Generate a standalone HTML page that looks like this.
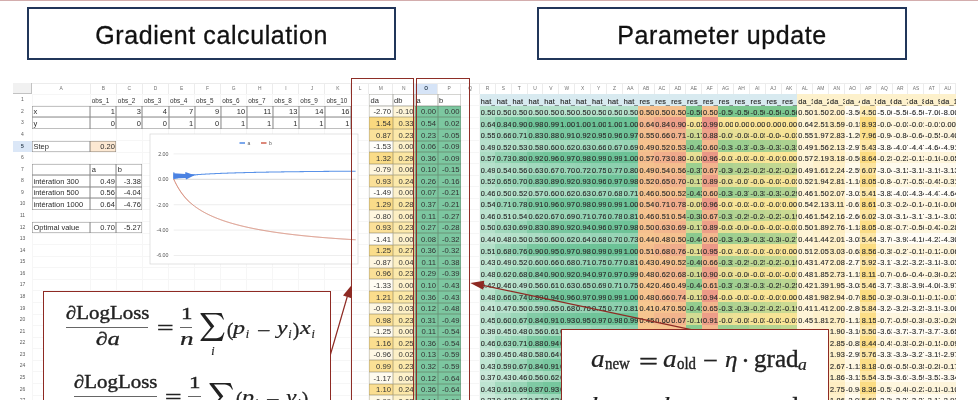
<!DOCTYPE html>
<html><head><meta charset="utf-8">
<style>
html,body{margin:0;padding:0;background:#fff;}
body{width:978px;height:400px;overflow:hidden;position:relative;font-family:"Liberation Sans",sans-serif;}
#sheet{position:absolute;left:0;top:0;width:978px;height:400px;overflow:hidden;filter:blur(0.42px);}
.c{position:absolute;box-sizing:border-box;overflow:hidden;white-space:nowrap;font-size:7.5px;line-height:11.56px;color:#2b2b2b;text-align:right;padding:0 1.5px 0 1.5px;}
.c span{position:relative;top:0.6px;}
.c.n{padding:0 0 0 1.3px;font-size:7.3px;letter-spacing:0.2px;color:#2a2a2a;-webkit-text-stroke:0.15px #2a2a2a;}
.c.n span{top:1.4px}
.c.mp span{top:0.6px}
.c.mp{font-size:7.7px;color:#333;}
.c.obs{font-size:6.4px;color:#333;}
.ch{position:absolute;box-sizing:border-box;font-size:4.9px;line-height:11.7px;color:#727272;text-align:center;background:#fff;overflow:hidden}
.ch.sel{background:#d6e4f7;color:#345;font-weight:bold}
.rh{position:absolute;box-sizing:border-box;font-size:5px;line-height:11.56px;color:#5c5c5c;text-align:center;background:#fff;}
.rh.sel{background:#dbe7f7;color:#234;font-weight:bold}
.corner{position:absolute;background:#f1f1f1;border-right:1.5px solid #c2c2c2;border-bottom:1.5px solid #c2c2c2;box-sizing:border-box}
.gh{position:absolute;height:1px;background:#f6f6f6;}
.hv{position:absolute;width:1px;background:#ececec;}
.gv{position:absolute;width:1px;background:#f6f6f6;}
.title{position:absolute;box-sizing:border-box;border:2.6px solid #21365a;background:#fff;text-align:center;font-size:25px;color:#111;letter-spacing:0.58px;-webkit-text-stroke:0.3px #111;}
.rbox{position:absolute;box-sizing:border-box;border:1.6px solid #8e2e27;}
.fbox{position:absolute;box-sizing:border-box;border:1.4px solid #8e2a23;background:#fff;}
svg{position:absolute;left:0;top:0;}
.m{position:absolute;font-family:"Liberation Serif",serif;color:#222;white-space:nowrap;line-height:1;}
.m i{font-style:italic}
.m sub{font-size:0.68em;font-style:italic;vertical-align:baseline;position:relative;top:0.22em;line-height:0;}
.m sub.r{font-style:normal}
</style></head><body>
<div id="wrap" style="position:absolute;left:0;top:0;width:978px;height:400px;overflow:hidden;will-change:transform;">
<div id="sheet">
<div class="gh" style="top:94.00px;left:13px;width:466.50px"></div>
<div class="gh" style="top:105.00px;left:13px;width:466.50px"></div>
<div class="gh" style="top:117.00px;left:13px;width:466.50px"></div>
<div class="gh" style="top:128.00px;left:13px;width:466.50px"></div>
<div class="gh" style="top:140.00px;left:13px;width:466.50px"></div>
<div class="gh" style="top:152.00px;left:13px;width:466.50px"></div>
<div class="gh" style="top:163.00px;left:13px;width:466.50px"></div>
<div class="gh" style="top:175.00px;left:13px;width:466.50px"></div>
<div class="gh" style="top:186.00px;left:13px;width:466.50px"></div>
<div class="gh" style="top:198.00px;left:13px;width:466.50px"></div>
<div class="gh" style="top:209.00px;left:13px;width:466.50px"></div>
<div class="gh" style="top:221.00px;left:13px;width:466.50px"></div>
<div class="gh" style="top:233.00px;left:13px;width:466.50px"></div>
<div class="gh" style="top:244.00px;left:13px;width:466.50px"></div>
<div class="gh" style="top:256.00px;left:13px;width:466.50px"></div>
<div class="gh" style="top:267.00px;left:13px;width:466.50px"></div>
<div class="gh" style="top:279.00px;left:13px;width:466.50px"></div>
<div class="gh" style="top:290.00px;left:13px;width:466.50px"></div>
<div class="gh" style="top:302.00px;left:13px;width:466.50px"></div>
<div class="gh" style="top:314.00px;left:13px;width:466.50px"></div>
<div class="gh" style="top:325.00px;left:13px;width:466.50px"></div>
<div class="gh" style="top:337.00px;left:13px;width:466.50px"></div>
<div class="gh" style="top:348.00px;left:13px;width:466.50px"></div>
<div class="gh" style="top:360.00px;left:13px;width:466.50px"></div>
<div class="gh" style="top:371.00px;left:13px;width:466.50px"></div>
<div class="gh" style="top:383.00px;left:13px;width:466.50px"></div>
<div class="gh" style="top:395.00px;left:13px;width:466.50px"></div>
<div class="gh" style="top:406.00px;left:13px;width:466.50px"></div>
<div class="gv" style="left:32px;top:82.50px;height:317.50px"></div>
<div class="gv" style="left:90px;top:82.50px;height:317.50px"></div>
<div class="gv" style="left:116px;top:82.50px;height:317.50px"></div>
<div class="gv" style="left:142px;top:82.50px;height:317.50px"></div>
<div class="gv" style="left:168px;top:82.50px;height:317.50px"></div>
<div class="gv" style="left:194px;top:82.50px;height:317.50px"></div>
<div class="gv" style="left:220px;top:82.50px;height:317.50px"></div>
<div class="gv" style="left:246px;top:82.50px;height:317.50px"></div>
<div class="gv" style="left:272px;top:82.50px;height:317.50px"></div>
<div class="gv" style="left:298px;top:82.50px;height:317.50px"></div>
<div class="gv" style="left:324px;top:82.50px;height:317.50px"></div>
<div class="gv" style="left:350px;top:82.50px;height:317.50px"></div>
<div class="gv" style="left:368px;top:82.50px;height:317.50px"></div>
<div class="gv" style="left:392px;top:82.50px;height:317.50px"></div>
<div class="gv" style="left:414px;top:82.50px;height:317.50px"></div>
<div class="gv" style="left:437px;top:82.50px;height:317.50px"></div>
<div class="gv" style="left:460px;top:82.50px;height:317.50px"></div>
<div class="gv" style="left:479px;top:82.50px;height:317.50px"></div>
<div class="gv" style="left:495px;top:82.50px;height:11.73px"></div>
<div class="gv" style="left:511px;top:82.50px;height:11.73px"></div>
<div class="gv" style="left:527px;top:82.50px;height:11.73px"></div>
<div class="gv" style="left:542px;top:82.50px;height:11.73px"></div>
<div class="gv" style="left:558px;top:82.50px;height:11.73px"></div>
<div class="gv" style="left:574px;top:82.50px;height:11.73px"></div>
<div class="gv" style="left:590px;top:82.50px;height:11.73px"></div>
<div class="gv" style="left:606px;top:82.50px;height:11.73px"></div>
<div class="gv" style="left:622px;top:82.50px;height:11.73px"></div>
<div class="gv" style="left:638px;top:82.50px;height:11.73px"></div>
<div class="gv" style="left:654px;top:82.50px;height:11.73px"></div>
<div class="gv" style="left:669px;top:82.50px;height:11.73px"></div>
<div class="gv" style="left:685px;top:82.50px;height:11.73px"></div>
<div class="gv" style="left:701px;top:82.50px;height:11.73px"></div>
<div class="gv" style="left:717px;top:82.50px;height:11.73px"></div>
<div class="gv" style="left:733px;top:82.50px;height:11.73px"></div>
<div class="gv" style="left:749px;top:82.50px;height:11.73px"></div>
<div class="gv" style="left:765px;top:82.50px;height:11.73px"></div>
<div class="gv" style="left:781px;top:82.50px;height:11.73px"></div>
<div class="gv" style="left:796px;top:82.50px;height:11.73px"></div>
<div class="gv" style="left:812px;top:82.50px;height:11.73px"></div>
<div class="gv" style="left:828px;top:82.50px;height:11.73px"></div>
<div class="gv" style="left:844px;top:82.50px;height:11.73px"></div>
<div class="gv" style="left:860px;top:82.50px;height:11.73px"></div>
<div class="gv" style="left:876px;top:82.50px;height:11.73px"></div>
<div class="gv" style="left:892px;top:82.50px;height:11.73px"></div>
<div class="gv" style="left:907px;top:82.50px;height:11.73px"></div>
<div class="gv" style="left:923px;top:82.50px;height:11.73px"></div>
<div class="gv" style="left:939px;top:82.50px;height:11.73px"></div>
<div class="gv" style="left:955px;top:82.50px;height:11.73px"></div>
<div class="corner" style="left:13.00px;top:82.50px;width:19.00px;height:11.73px"></div>
<div class="ch" style="left:32.00px;top:82.50px;width:58.30px;height:11.73px">A</div>
<div class="ch" style="left:90.30px;top:82.50px;width:26.07px;height:11.73px">B</div>
<div class="ch" style="left:116.37px;top:82.50px;width:26.07px;height:11.73px">C</div>
<div class="ch" style="left:142.44px;top:82.50px;width:26.07px;height:11.73px">D</div>
<div class="ch" style="left:168.51px;top:82.50px;width:26.07px;height:11.73px">E</div>
<div class="ch" style="left:194.58px;top:82.50px;width:26.07px;height:11.73px">F</div>
<div class="ch" style="left:220.65px;top:82.50px;width:26.07px;height:11.73px">G</div>
<div class="ch" style="left:246.72px;top:82.50px;width:26.07px;height:11.73px">H</div>
<div class="ch" style="left:272.79px;top:82.50px;width:26.07px;height:11.73px">I</div>
<div class="ch" style="left:298.86px;top:82.50px;width:26.07px;height:11.73px">J</div>
<div class="ch" style="left:324.93px;top:82.50px;width:26.07px;height:11.73px">K</div>
<div class="ch" style="left:351.00px;top:82.50px;width:18.00px;height:11.73px">L</div>
<div class="ch" style="left:369.00px;top:82.50px;width:23.50px;height:11.73px">M</div>
<div class="ch" style="left:392.50px;top:82.50px;width:22.50px;height:11.73px">N</div>
<div class="ch sel" style="left:415.00px;top:82.50px;width:22.50px;height:11.73px">O</div>
<div class="ch" style="left:437.50px;top:82.50px;width:23.50px;height:11.73px">P</div>
<div class="ch" style="left:461.00px;top:82.50px;width:18.50px;height:11.73px">Q</div>
<div class="ch" style="left:479.50px;top:82.50px;width:15.87px;height:11.73px">R</div>
<div class="ch" style="left:495.37px;top:82.50px;width:15.87px;height:11.73px">S</div>
<div class="ch" style="left:511.24px;top:82.50px;width:15.87px;height:11.73px">T</div>
<div class="ch" style="left:527.11px;top:82.50px;width:15.87px;height:11.73px">U</div>
<div class="ch" style="left:542.98px;top:82.50px;width:15.87px;height:11.73px">V</div>
<div class="ch" style="left:558.85px;top:82.50px;width:15.87px;height:11.73px">W</div>
<div class="ch" style="left:574.72px;top:82.50px;width:15.87px;height:11.73px">X</div>
<div class="ch" style="left:590.59px;top:82.50px;width:15.87px;height:11.73px">Y</div>
<div class="ch" style="left:606.46px;top:82.50px;width:15.87px;height:11.73px">Z</div>
<div class="ch" style="left:622.33px;top:82.50px;width:15.87px;height:11.73px">AA</div>
<div class="ch" style="left:638.20px;top:82.50px;width:15.87px;height:11.73px">AB</div>
<div class="ch" style="left:654.07px;top:82.50px;width:15.87px;height:11.73px">AC</div>
<div class="ch" style="left:669.94px;top:82.50px;width:15.87px;height:11.73px">AD</div>
<div class="ch" style="left:685.81px;top:82.50px;width:15.87px;height:11.73px">AE</div>
<div class="ch" style="left:701.68px;top:82.50px;width:15.87px;height:11.73px">AF</div>
<div class="ch" style="left:717.55px;top:82.50px;width:15.87px;height:11.73px">AG</div>
<div class="ch" style="left:733.42px;top:82.50px;width:15.87px;height:11.73px">AH</div>
<div class="ch" style="left:749.29px;top:82.50px;width:15.87px;height:11.73px">AI</div>
<div class="ch" style="left:765.16px;top:82.50px;width:15.87px;height:11.73px">AJ</div>
<div class="ch" style="left:781.03px;top:82.50px;width:15.87px;height:11.73px">AK</div>
<div class="ch" style="left:796.90px;top:82.50px;width:15.87px;height:11.73px">AL</div>
<div class="ch" style="left:812.77px;top:82.50px;width:15.87px;height:11.73px">AM</div>
<div class="ch" style="left:828.64px;top:82.50px;width:15.87px;height:11.73px">AN</div>
<div class="ch" style="left:844.51px;top:82.50px;width:15.87px;height:11.73px">AO</div>
<div class="ch" style="left:860.38px;top:82.50px;width:15.87px;height:11.73px">AP</div>
<div class="ch" style="left:876.25px;top:82.50px;width:15.87px;height:11.73px">AQ</div>
<div class="ch" style="left:892.12px;top:82.50px;width:15.87px;height:11.73px">AR</div>
<div class="ch" style="left:907.99px;top:82.50px;width:15.87px;height:11.73px">AS</div>
<div class="ch" style="left:923.86px;top:82.50px;width:15.87px;height:11.73px">AT</div>
<div class="ch" style="left:939.73px;top:82.50px;width:15.87px;height:11.73px">AU</div>
<div class="rh" style="left:13.00px;top:94.23px;width:19.00px;height:11.57px">1</div>
<div class="rh" style="left:13.00px;top:105.80px;width:19.00px;height:11.57px">2</div>
<div class="rh" style="left:13.00px;top:117.38px;width:19.00px;height:11.57px">3</div>
<div class="rh" style="left:13.00px;top:128.95px;width:19.00px;height:11.57px">4</div>
<div class="rh sel" style="left:13.00px;top:140.52px;width:19.00px;height:11.57px">5</div>
<div class="rh" style="left:13.00px;top:152.09px;width:19.00px;height:11.57px">6</div>
<div class="rh" style="left:13.00px;top:163.67px;width:19.00px;height:11.57px">7</div>
<div class="rh" style="left:13.00px;top:175.24px;width:19.00px;height:11.57px">8</div>
<div class="rh" style="left:13.00px;top:186.81px;width:19.00px;height:11.57px">9</div>
<div class="rh" style="left:13.00px;top:198.39px;width:19.00px;height:11.57px">10</div>
<div class="rh" style="left:13.00px;top:209.96px;width:19.00px;height:11.57px">11</div>
<div class="rh" style="left:13.00px;top:221.53px;width:19.00px;height:11.57px">12</div>
<div class="rh" style="left:13.00px;top:233.11px;width:19.00px;height:11.57px">13</div>
<div class="rh" style="left:13.00px;top:244.68px;width:19.00px;height:11.57px">14</div>
<div class="rh" style="left:13.00px;top:256.25px;width:19.00px;height:11.57px">15</div>
<div class="rh" style="left:13.00px;top:267.82px;width:19.00px;height:11.57px">16</div>
<div class="rh" style="left:13.00px;top:279.40px;width:19.00px;height:11.57px">17</div>
<div class="rh" style="left:13.00px;top:290.97px;width:19.00px;height:11.57px">18</div>
<div class="rh" style="left:13.00px;top:302.54px;width:19.00px;height:11.57px">19</div>
<div class="rh" style="left:13.00px;top:314.12px;width:19.00px;height:11.57px">20</div>
<div class="rh" style="left:13.00px;top:325.69px;width:19.00px;height:11.57px">21</div>
<div class="rh" style="left:13.00px;top:337.26px;width:19.00px;height:11.57px">22</div>
<div class="rh" style="left:13.00px;top:348.84px;width:19.00px;height:11.57px">23</div>
<div class="rh" style="left:13.00px;top:360.41px;width:19.00px;height:11.57px">24</div>
<div class="rh" style="left:13.00px;top:371.98px;width:19.00px;height:11.57px">25</div>
<div class="rh" style="left:13.00px;top:383.56px;width:19.00px;height:11.57px">26</div>
<div class="rh" style="left:13.00px;top:395.13px;width:19.00px;height:11.57px">27</div>
<div class="hv" style="left:90px;top:83.00px;height:11.23px"></div>
<div class="hv" style="left:116px;top:83.00px;height:11.23px"></div>
<div class="hv" style="left:142px;top:83.00px;height:11.23px"></div>
<div class="hv" style="left:168px;top:83.00px;height:11.23px"></div>
<div class="hv" style="left:194px;top:83.00px;height:11.23px"></div>
<div class="hv" style="left:220px;top:83.00px;height:11.23px"></div>
<div class="hv" style="left:246px;top:83.00px;height:11.23px"></div>
<div class="hv" style="left:272px;top:83.00px;height:11.23px"></div>
<div class="hv" style="left:298px;top:83.00px;height:11.23px"></div>
<div class="hv" style="left:324px;top:83.00px;height:11.23px"></div>
<div class="hv" style="left:350px;top:83.00px;height:11.23px"></div>
<div class="hv" style="left:368px;top:83.00px;height:11.23px"></div>
<div class="hv" style="left:392px;top:83.00px;height:11.23px"></div>
<div class="hv" style="left:414px;top:83.00px;height:11.23px"></div>
<div class="hv" style="left:437px;top:83.00px;height:11.23px"></div>
<div class="hv" style="left:460px;top:83.00px;height:11.23px"></div>
<div class="hv" style="left:479px;top:83.00px;height:11.23px"></div>
<div class="hv" style="left:495px;top:83.00px;height:11.23px"></div>
<div class="hv" style="left:511px;top:83.00px;height:11.23px"></div>
<div class="hv" style="left:527px;top:83.00px;height:11.23px"></div>
<div class="hv" style="left:542px;top:83.00px;height:11.23px"></div>
<div class="hv" style="left:558px;top:83.00px;height:11.23px"></div>
<div class="hv" style="left:574px;top:83.00px;height:11.23px"></div>
<div class="hv" style="left:590px;top:83.00px;height:11.23px"></div>
<div class="hv" style="left:606px;top:83.00px;height:11.23px"></div>
<div class="hv" style="left:622px;top:83.00px;height:11.23px"></div>
<div class="hv" style="left:638px;top:83.00px;height:11.23px"></div>
<div class="hv" style="left:654px;top:83.00px;height:11.23px"></div>
<div class="hv" style="left:669px;top:83.00px;height:11.23px"></div>
<div class="hv" style="left:685px;top:83.00px;height:11.23px"></div>
<div class="hv" style="left:701px;top:83.00px;height:11.23px"></div>
<div class="hv" style="left:717px;top:83.00px;height:11.23px"></div>
<div class="hv" style="left:733px;top:83.00px;height:11.23px"></div>
<div class="hv" style="left:749px;top:83.00px;height:11.23px"></div>
<div class="hv" style="left:765px;top:83.00px;height:11.23px"></div>
<div class="hv" style="left:781px;top:83.00px;height:11.23px"></div>
<div class="hv" style="left:796px;top:83.00px;height:11.23px"></div>
<div class="hv" style="left:812px;top:83.00px;height:11.23px"></div>
<div class="hv" style="left:828px;top:83.00px;height:11.23px"></div>
<div class="hv" style="left:844px;top:83.00px;height:11.23px"></div>
<div class="hv" style="left:860px;top:83.00px;height:11.23px"></div>
<div class="hv" style="left:876px;top:83.00px;height:11.23px"></div>
<div class="hv" style="left:892px;top:83.00px;height:11.23px"></div>
<div class="hv" style="left:907px;top:83.00px;height:11.23px"></div>
<div class="hv" style="left:923px;top:83.00px;height:11.23px"></div>
<div class="hv" style="left:939px;top:83.00px;height:11.23px"></div>
<div class="hv" style="left:955px;top:83.00px;height:11.23px"></div>
<div class="hv" style="left:32px;top:82.50px;width:923.60px;height:1px"></div>
<div class="c obs" style="left:90.30px;top:94.23px;width:26.07px;height:11.57px;text-align:left;"><span>obs_1</span></div>
<div class="c " style="left:90.30px;top:105.80px;width:26.07px;height:11.57px;box-shadow:inset 0 0 0 0.5px rgba(60,60,60,.6);"><span>1</span></div>
<div class="c " style="left:90.30px;top:117.38px;width:26.07px;height:11.57px;box-shadow:inset 0 0 0 0.5px rgba(60,60,60,.6);"><span>0</span></div>
<div class="c obs" style="left:116.37px;top:94.23px;width:26.07px;height:11.57px;text-align:left;"><span>obs_2</span></div>
<div class="c " style="left:116.37px;top:105.80px;width:26.07px;height:11.57px;box-shadow:inset 0 0 0 0.5px rgba(60,60,60,.6);"><span>3</span></div>
<div class="c " style="left:116.37px;top:117.38px;width:26.07px;height:11.57px;box-shadow:inset 0 0 0 0.5px rgba(60,60,60,.6);"><span>0</span></div>
<div class="c obs" style="left:142.44px;top:94.23px;width:26.07px;height:11.57px;text-align:left;"><span>obs_3</span></div>
<div class="c " style="left:142.44px;top:105.80px;width:26.07px;height:11.57px;box-shadow:inset 0 0 0 0.5px rgba(60,60,60,.6);"><span>4</span></div>
<div class="c " style="left:142.44px;top:117.38px;width:26.07px;height:11.57px;box-shadow:inset 0 0 0 0.5px rgba(60,60,60,.6);"><span>0</span></div>
<div class="c obs" style="left:168.51px;top:94.23px;width:26.07px;height:11.57px;text-align:left;"><span>obs_4</span></div>
<div class="c " style="left:168.51px;top:105.80px;width:26.07px;height:11.57px;box-shadow:inset 0 0 0 0.5px rgba(60,60,60,.6);"><span>7</span></div>
<div class="c " style="left:168.51px;top:117.38px;width:26.07px;height:11.57px;box-shadow:inset 0 0 0 0.5px rgba(60,60,60,.6);"><span>1</span></div>
<div class="c obs" style="left:194.58px;top:94.23px;width:26.07px;height:11.57px;text-align:left;"><span>obs_5</span></div>
<div class="c " style="left:194.58px;top:105.80px;width:26.07px;height:11.57px;box-shadow:inset 0 0 0 0.5px rgba(60,60,60,.6);"><span>9</span></div>
<div class="c " style="left:194.58px;top:117.38px;width:26.07px;height:11.57px;box-shadow:inset 0 0 0 0.5px rgba(60,60,60,.6);"><span>0</span></div>
<div class="c obs" style="left:220.65px;top:94.23px;width:26.07px;height:11.57px;text-align:left;"><span>obs_6</span></div>
<div class="c " style="left:220.65px;top:105.80px;width:26.07px;height:11.57px;box-shadow:inset 0 0 0 0.5px rgba(60,60,60,.6);"><span>10</span></div>
<div class="c " style="left:220.65px;top:117.38px;width:26.07px;height:11.57px;box-shadow:inset 0 0 0 0.5px rgba(60,60,60,.6);"><span>1</span></div>
<div class="c obs" style="left:246.72px;top:94.23px;width:26.07px;height:11.57px;text-align:left;"><span>obs_7</span></div>
<div class="c " style="left:246.72px;top:105.80px;width:26.07px;height:11.57px;box-shadow:inset 0 0 0 0.5px rgba(60,60,60,.6);"><span>11</span></div>
<div class="c " style="left:246.72px;top:117.38px;width:26.07px;height:11.57px;box-shadow:inset 0 0 0 0.5px rgba(60,60,60,.6);"><span>1</span></div>
<div class="c obs" style="left:272.79px;top:94.23px;width:26.07px;height:11.57px;text-align:left;"><span>obs_8</span></div>
<div class="c " style="left:272.79px;top:105.80px;width:26.07px;height:11.57px;box-shadow:inset 0 0 0 0.5px rgba(60,60,60,.6);"><span>13</span></div>
<div class="c " style="left:272.79px;top:117.38px;width:26.07px;height:11.57px;box-shadow:inset 0 0 0 0.5px rgba(60,60,60,.6);"><span>1</span></div>
<div class="c obs" style="left:298.86px;top:94.23px;width:26.07px;height:11.57px;text-align:left;"><span>obs_9</span></div>
<div class="c " style="left:298.86px;top:105.80px;width:26.07px;height:11.57px;box-shadow:inset 0 0 0 0.5px rgba(60,60,60,.6);"><span>14</span></div>
<div class="c " style="left:298.86px;top:117.38px;width:26.07px;height:11.57px;box-shadow:inset 0 0 0 0.5px rgba(60,60,60,.6);"><span>1</span></div>
<div class="c obs" style="left:324.93px;top:94.23px;width:26.07px;height:11.57px;text-align:left;"><span>obs_10</span></div>
<div class="c " style="left:324.93px;top:105.80px;width:26.07px;height:11.57px;box-shadow:inset 0 0 0 0.5px rgba(60,60,60,.6);"><span>16</span></div>
<div class="c " style="left:324.93px;top:117.38px;width:26.07px;height:11.57px;box-shadow:inset 0 0 0 0.5px rgba(60,60,60,.6);"><span>1</span></div>
<div class="c " style="left:32.00px;top:105.80px;width:58.30px;height:11.57px;text-align:left;box-shadow:inset 0 0 0 0.5px rgba(60,60,60,.6);"><span>x</span></div>
<div class="c " style="left:32.00px;top:117.38px;width:58.30px;height:11.57px;text-align:left;box-shadow:inset 0 0 0 0.5px rgba(60,60,60,.6);"><span>y</span></div>
<div class="c " style="left:32.00px;top:140.52px;width:58.30px;height:11.57px;text-align:left;box-shadow:inset 0 0 0 0.5px rgba(60,60,60,.6);"><span>Step</span></div>
<div class="c " style="left:90.30px;top:140.52px;width:26.07px;height:11.57px;background:#fce8d2;box-shadow:inset 0 0 0 0.5px rgba(60,60,60,.6);"><span>0.20</span></div>
<div class="c " style="left:32.00px;top:163.67px;width:58.30px;height:11.57px;box-shadow:inset 0 0 0 0.5px rgba(60,60,60,.6);"><span></span></div>
<div class="c " style="left:90.30px;top:163.67px;width:26.07px;height:11.57px;text-align:left;box-shadow:inset 0 0 0 0.5px rgba(60,60,60,.6);"><span>a</span></div>
<div class="c " style="left:116.37px;top:163.67px;width:26.07px;height:11.57px;text-align:left;box-shadow:inset 0 0 0 0.5px rgba(60,60,60,.6);"><span>b</span></div>
<div class="c " style="left:32.00px;top:175.24px;width:58.30px;height:11.57px;text-align:left;box-shadow:inset 0 0 0 0.5px rgba(60,60,60,.6);"><span>intération 300</span></div>
<div class="c " style="left:90.30px;top:175.24px;width:26.07px;height:11.57px;box-shadow:inset 0 0 0 0.5px rgba(60,60,60,.6);"><span>0.49</span></div>
<div class="c " style="left:116.37px;top:175.24px;width:26.07px;height:11.57px;box-shadow:inset 0 0 0 0.5px rgba(60,60,60,.6);"><span>-3.38</span></div>
<div class="c " style="left:32.00px;top:186.81px;width:58.30px;height:11.57px;text-align:left;box-shadow:inset 0 0 0 0.5px rgba(60,60,60,.6);"><span>intération 500</span></div>
<div class="c " style="left:90.30px;top:186.81px;width:26.07px;height:11.57px;box-shadow:inset 0 0 0 0.5px rgba(60,60,60,.6);"><span>0.56</span></div>
<div class="c " style="left:116.37px;top:186.81px;width:26.07px;height:11.57px;box-shadow:inset 0 0 0 0.5px rgba(60,60,60,.6);"><span>-4.04</span></div>
<div class="c " style="left:32.00px;top:198.39px;width:58.30px;height:11.57px;text-align:left;box-shadow:inset 0 0 0 0.5px rgba(60,60,60,.6);"><span>intération 1000</span></div>
<div class="c " style="left:90.30px;top:198.39px;width:26.07px;height:11.57px;box-shadow:inset 0 0 0 0.5px rgba(60,60,60,.6);"><span>0.64</span></div>
<div class="c " style="left:116.37px;top:198.39px;width:26.07px;height:11.57px;box-shadow:inset 0 0 0 0.5px rgba(60,60,60,.6);"><span>-4.76</span></div>
<div class="c " style="left:32.00px;top:221.53px;width:58.30px;height:11.57px;text-align:left;box-shadow:inset 0 0 0 0.5px rgba(60,60,60,.6);"><span>Optimal value</span></div>
<div class="c " style="left:90.30px;top:221.53px;width:26.07px;height:11.57px;box-shadow:inset 0 0 0 0.5px rgba(60,60,60,.6);"><span>0.70</span></div>
<div class="c " style="left:116.37px;top:221.53px;width:26.07px;height:11.57px;box-shadow:inset 0 0 0 0.5px rgba(60,60,60,.6);"><span>-5.27</span></div>
<div class="c " style="left:369.00px;top:94.23px;width:23.50px;height:11.57px;text-align:left;box-shadow:inset 0 0 0 0.5px rgba(80,80,70,.42);"><span>da</span></div>
<div class="c " style="left:392.50px;top:94.23px;width:22.50px;height:11.57px;text-align:left;box-shadow:inset 0 0 0 0.5px rgba(80,80,70,.42);"><span>db</span></div>
<div class="c " style="left:415.00px;top:94.23px;width:22.50px;height:11.57px;text-align:left;box-shadow:inset 0 0 0 0.5px rgba(80,80,70,.42);"><span>a</span></div>
<div class="c " style="left:437.50px;top:94.23px;width:23.50px;height:11.57px;text-align:left;box-shadow:inset 0 0 0 0.5px rgba(80,80,70,.42);"><span>b</span></div>
<div class="c mp" style="left:369.00px;top:105.80px;width:23.50px;height:11.57px;background:#fffefa;box-shadow:inset 0 0 0 0.5px rgba(80,80,70,.42);"><span>-2.70</span></div>
<div class="c mp" style="left:392.50px;top:105.80px;width:22.50px;height:11.57px;background:#fef5d8;box-shadow:inset 0 0 0 0.5px rgba(80,80,70,.42);"><span>-0.10</span></div>
<div class="c mp" style="left:415.00px;top:105.80px;width:22.50px;height:11.57px;background:#7cc7a0;box-shadow:inset 0 0 0 0.5px rgba(80,80,70,.42);"><span>0.00</span></div>
<div class="c mp" style="left:437.50px;top:105.80px;width:23.50px;height:11.57px;background:#7cc7a0;box-shadow:inset 0 0 0 0.5px rgba(80,80,70,.42);"><span>0.00</span></div>
<div class="c mp" style="left:369.00px;top:117.38px;width:23.50px;height:11.57px;background:#fad97f;box-shadow:inset 0 0 0 0.5px rgba(80,80,70,.42);"><span>1.54</span></div>
<div class="c mp" style="left:392.50px;top:117.38px;width:22.50px;height:11.57px;background:#fbe59d;box-shadow:inset 0 0 0 0.5px rgba(80,80,70,.42);"><span>0.33</span></div>
<div class="c mp" style="left:415.00px;top:117.38px;width:22.50px;height:11.57px;background:#7cc7a0;box-shadow:inset 0 0 0 0.5px rgba(80,80,70,.42);"><span>0.54</span></div>
<div class="c mp" style="left:437.50px;top:117.38px;width:23.50px;height:11.57px;background:#7cc7a0;box-shadow:inset 0 0 0 0.5px rgba(80,80,70,.42);"><span>0.02</span></div>
<div class="c mp" style="left:369.00px;top:128.95px;width:23.50px;height:11.57px;background:#fbe19a;box-shadow:inset 0 0 0 0.5px rgba(80,80,70,.42);"><span>0.87</span></div>
<div class="c mp" style="left:392.50px;top:128.95px;width:22.50px;height:11.57px;background:#fce9aa;box-shadow:inset 0 0 0 0.5px rgba(80,80,70,.42);"><span>0.23</span></div>
<div class="c mp" style="left:415.00px;top:128.95px;width:22.50px;height:11.57px;background:#7cc7a0;box-shadow:inset 0 0 0 0.5px rgba(80,80,70,.42);"><span>0.23</span></div>
<div class="c mp" style="left:437.50px;top:128.95px;width:23.50px;height:11.57px;background:#7cc7a0;box-shadow:inset 0 0 0 0.5px rgba(80,80,70,.42);"><span>-0.05</span></div>
<div class="c mp" style="left:369.00px;top:140.52px;width:23.50px;height:11.57px;background:#fffefa;box-shadow:inset 0 0 0 0.5px rgba(80,80,70,.42);"><span>-1.53</span></div>
<div class="c mp" style="left:392.50px;top:140.52px;width:22.50px;height:11.57px;background:#fdf1ca;box-shadow:inset 0 0 0 0.5px rgba(80,80,70,.42);"><span>0.00</span></div>
<div class="c mp" style="left:415.00px;top:140.52px;width:22.50px;height:11.57px;background:#7cc7a0;box-shadow:inset 0 0 0 0.5px rgba(80,80,70,.42);"><span>0.06</span></div>
<div class="c mp" style="left:437.50px;top:140.52px;width:23.50px;height:11.57px;background:#7cc7a0;box-shadow:inset 0 0 0 0.5px rgba(80,80,70,.42);"><span>-0.09</span></div>
<div class="c mp" style="left:369.00px;top:152.09px;width:23.50px;height:11.57px;background:#fadc88;box-shadow:inset 0 0 0 0.5px rgba(80,80,70,.42);"><span>1.32</span></div>
<div class="c mp" style="left:392.50px;top:152.09px;width:22.50px;height:11.57px;background:#fbe6a2;box-shadow:inset 0 0 0 0.5px rgba(80,80,70,.42);"><span>0.29</span></div>
<div class="c mp" style="left:415.00px;top:152.09px;width:22.50px;height:11.57px;background:#7cc7a0;box-shadow:inset 0 0 0 0.5px rgba(80,80,70,.42);"><span>0.36</span></div>
<div class="c mp" style="left:437.50px;top:152.09px;width:23.50px;height:11.57px;background:#7cc7a0;box-shadow:inset 0 0 0 0.5px rgba(80,80,70,.42);"><span>-0.09</span></div>
<div class="c mp" style="left:369.00px;top:163.67px;width:23.50px;height:11.57px;background:#fef5dd;box-shadow:inset 0 0 0 0.5px rgba(80,80,70,.42);"><span>-0.79</span></div>
<div class="c mp" style="left:392.50px;top:163.67px;width:22.50px;height:11.57px;background:#fdefc2;box-shadow:inset 0 0 0 0.5px rgba(80,80,70,.42);"><span>0.06</span></div>
<div class="c mp" style="left:415.00px;top:163.67px;width:22.50px;height:11.57px;background:#7cc7a0;box-shadow:inset 0 0 0 0.5px rgba(80,80,70,.42);"><span>0.10</span></div>
<div class="c mp" style="left:437.50px;top:163.67px;width:23.50px;height:11.57px;background:#7cc7a0;box-shadow:inset 0 0 0 0.5px rgba(80,80,70,.42);"><span>-0.15</span></div>
<div class="c mp" style="left:369.00px;top:175.24px;width:23.50px;height:11.57px;background:#fbe098;box-shadow:inset 0 0 0 0.5px rgba(80,80,70,.42);"><span>0.93</span></div>
<div class="c mp" style="left:392.50px;top:175.24px;width:22.50px;height:11.57px;background:#fce9aa;box-shadow:inset 0 0 0 0.5px rgba(80,80,70,.42);"><span>0.24</span></div>
<div class="c mp" style="left:415.00px;top:175.24px;width:22.50px;height:11.57px;background:#7cc7a0;box-shadow:inset 0 0 0 0.5px rgba(80,80,70,.42);"><span>0.26</span></div>
<div class="c mp" style="left:437.50px;top:175.24px;width:23.50px;height:11.57px;background:#7cc7a0;box-shadow:inset 0 0 0 0.5px rgba(80,80,70,.42);"><span>-0.16</span></div>
<div class="c mp" style="left:369.00px;top:186.81px;width:23.50px;height:11.57px;background:#fffef9;box-shadow:inset 0 0 0 0.5px rgba(80,80,70,.42);"><span>-1.49</span></div>
<div class="c mp" style="left:392.50px;top:186.81px;width:22.50px;height:11.57px;background:#fdf1cb;box-shadow:inset 0 0 0 0.5px rgba(80,80,70,.42);"><span>0.00</span></div>
<div class="c mp" style="left:415.00px;top:186.81px;width:22.50px;height:11.57px;background:#7cc7a0;box-shadow:inset 0 0 0 0.5px rgba(80,80,70,.42);"><span>0.07</span></div>
<div class="c mp" style="left:437.50px;top:186.81px;width:23.50px;height:11.57px;background:#7cc7a0;box-shadow:inset 0 0 0 0.5px rgba(80,80,70,.42);"><span>-0.21</span></div>
<div class="c mp" style="left:369.00px;top:198.39px;width:23.50px;height:11.57px;background:#fadc89;box-shadow:inset 0 0 0 0.5px rgba(80,80,70,.42);"><span>1.29</span></div>
<div class="c mp" style="left:392.50px;top:198.39px;width:22.50px;height:11.57px;background:#fbe7a4;box-shadow:inset 0 0 0 0.5px rgba(80,80,70,.42);"><span>0.28</span></div>
<div class="c mp" style="left:415.00px;top:198.39px;width:22.50px;height:11.57px;background:#7cc7a0;box-shadow:inset 0 0 0 0.5px rgba(80,80,70,.42);"><span>0.37</span></div>
<div class="c mp" style="left:437.50px;top:198.39px;width:23.50px;height:11.57px;background:#7cc7a0;box-shadow:inset 0 0 0 0.5px rgba(80,80,70,.42);"><span>-0.21</span></div>
<div class="c mp" style="left:369.00px;top:209.96px;width:23.50px;height:11.57px;background:#fef6de;box-shadow:inset 0 0 0 0.5px rgba(80,80,70,.42);"><span>-0.80</span></div>
<div class="c mp" style="left:392.50px;top:209.96px;width:22.50px;height:11.57px;background:#fdefc3;box-shadow:inset 0 0 0 0.5px rgba(80,80,70,.42);"><span>0.06</span></div>
<div class="c mp" style="left:415.00px;top:209.96px;width:22.50px;height:11.57px;background:#7cc7a0;box-shadow:inset 0 0 0 0.5px rgba(80,80,70,.42);"><span>0.11</span></div>
<div class="c mp" style="left:437.50px;top:209.96px;width:23.50px;height:11.57px;background:#7cc7a0;box-shadow:inset 0 0 0 0.5px rgba(80,80,70,.42);"><span>-0.27</span></div>
<div class="c mp" style="left:369.00px;top:221.53px;width:23.50px;height:11.57px;background:#fbe098;box-shadow:inset 0 0 0 0.5px rgba(80,80,70,.42);"><span>0.93</span></div>
<div class="c mp" style="left:392.50px;top:221.53px;width:22.50px;height:11.57px;background:#fce9ab;box-shadow:inset 0 0 0 0.5px rgba(80,80,70,.42);"><span>0.23</span></div>
<div class="c mp" style="left:415.00px;top:221.53px;width:22.50px;height:11.57px;background:#7cc7a0;box-shadow:inset 0 0 0 0.5px rgba(80,80,70,.42);"><span>0.27</span></div>
<div class="c mp" style="left:437.50px;top:221.53px;width:23.50px;height:11.57px;background:#7cc7a0;box-shadow:inset 0 0 0 0.5px rgba(80,80,70,.42);"><span>-0.28</span></div>
<div class="c mp" style="left:369.00px;top:233.11px;width:23.50px;height:11.57px;background:#fffdf6;box-shadow:inset 0 0 0 0.5px rgba(80,80,70,.42);"><span>-1.41</span></div>
<div class="c mp" style="left:392.50px;top:233.11px;width:22.50px;height:11.57px;background:#fdf1cb;box-shadow:inset 0 0 0 0.5px rgba(80,80,70,.42);"><span>0.00</span></div>
<div class="c mp" style="left:415.00px;top:233.11px;width:22.50px;height:11.57px;background:#7cc7a0;box-shadow:inset 0 0 0 0.5px rgba(80,80,70,.42);"><span>0.08</span></div>
<div class="c mp" style="left:437.50px;top:233.11px;width:23.50px;height:11.57px;background:#7cc7a0;box-shadow:inset 0 0 0 0.5px rgba(80,80,70,.42);"><span>-0.32</span></div>
<div class="c mp" style="left:369.00px;top:244.68px;width:23.50px;height:11.57px;background:#fadd8b;box-shadow:inset 0 0 0 0.5px rgba(80,80,70,.42);"><span>1.25</span></div>
<div class="c mp" style="left:392.50px;top:244.68px;width:22.50px;height:11.57px;background:#fbe7a5;box-shadow:inset 0 0 0 0.5px rgba(80,80,70,.42);"><span>0.27</span></div>
<div class="c mp" style="left:415.00px;top:244.68px;width:22.50px;height:11.57px;background:#7cc7a0;box-shadow:inset 0 0 0 0.5px rgba(80,80,70,.42);"><span>0.36</span></div>
<div class="c mp" style="left:437.50px;top:244.68px;width:23.50px;height:11.57px;background:#7cc7a0;box-shadow:inset 0 0 0 0.5px rgba(80,80,70,.42);"><span>-0.32</span></div>
<div class="c mp" style="left:369.00px;top:256.25px;width:23.50px;height:11.57px;background:#fef6e0;box-shadow:inset 0 0 0 0.5px rgba(80,80,70,.42);"><span>-0.87</span></div>
<div class="c mp" style="left:392.50px;top:256.25px;width:22.50px;height:11.57px;background:#fdf0c4;box-shadow:inset 0 0 0 0.5px rgba(80,80,70,.42);"><span>0.04</span></div>
<div class="c mp" style="left:415.00px;top:256.25px;width:22.50px;height:11.57px;background:#7cc7a0;box-shadow:inset 0 0 0 0.5px rgba(80,80,70,.42);"><span>0.11</span></div>
<div class="c mp" style="left:437.50px;top:256.25px;width:23.50px;height:11.57px;background:#7cc7a0;box-shadow:inset 0 0 0 0.5px rgba(80,80,70,.42);"><span>-0.38</span></div>
<div class="c mp" style="left:369.00px;top:267.82px;width:23.50px;height:11.57px;background:#fbe097;box-shadow:inset 0 0 0 0.5px rgba(80,80,70,.42);"><span>0.96</span></div>
<div class="c mp" style="left:392.50px;top:267.82px;width:22.50px;height:11.57px;background:#fce9ab;box-shadow:inset 0 0 0 0.5px rgba(80,80,70,.42);"><span>0.23</span></div>
<div class="c mp" style="left:415.00px;top:267.82px;width:22.50px;height:11.57px;background:#7cc7a0;box-shadow:inset 0 0 0 0.5px rgba(80,80,70,.42);"><span>0.29</span></div>
<div class="c mp" style="left:437.50px;top:267.82px;width:23.50px;height:11.57px;background:#7cc7a0;box-shadow:inset 0 0 0 0.5px rgba(80,80,70,.42);"><span>-0.39</span></div>
<div class="c mp" style="left:369.00px;top:279.40px;width:23.50px;height:11.57px;background:#fffcf3;box-shadow:inset 0 0 0 0.5px rgba(80,80,70,.42);"><span>-1.33</span></div>
<div class="c mp" style="left:392.50px;top:279.40px;width:22.50px;height:11.57px;background:#fdf1cb;box-shadow:inset 0 0 0 0.5px rgba(80,80,70,.42);"><span>0.00</span></div>
<div class="c mp" style="left:415.00px;top:279.40px;width:22.50px;height:11.57px;background:#7cc7a0;box-shadow:inset 0 0 0 0.5px rgba(80,80,70,.42);"><span>0.10</span></div>
<div class="c mp" style="left:437.50px;top:279.40px;width:23.50px;height:11.57px;background:#7cc7a0;box-shadow:inset 0 0 0 0.5px rgba(80,80,70,.42);"><span>-0.43</span></div>
<div class="c mp" style="left:369.00px;top:290.97px;width:23.50px;height:11.57px;background:#fbdd8c;box-shadow:inset 0 0 0 0.5px rgba(80,80,70,.42);"><span>1.21</span></div>
<div class="c mp" style="left:392.50px;top:290.97px;width:22.50px;height:11.57px;background:#fbe8a6;box-shadow:inset 0 0 0 0.5px rgba(80,80,70,.42);"><span>0.26</span></div>
<div class="c mp" style="left:415.00px;top:290.97px;width:22.50px;height:11.57px;background:#7cc7a0;box-shadow:inset 0 0 0 0.5px rgba(80,80,70,.42);"><span>0.36</span></div>
<div class="c mp" style="left:437.50px;top:290.97px;width:23.50px;height:11.57px;background:#7cc7a0;box-shadow:inset 0 0 0 0.5px rgba(80,80,70,.42);"><span>-0.43</span></div>
<div class="c mp" style="left:369.00px;top:302.54px;width:23.50px;height:11.57px;background:#fef7e2;box-shadow:inset 0 0 0 0.5px rgba(80,80,70,.42);"><span>-0.92</span></div>
<div class="c mp" style="left:392.50px;top:302.54px;width:22.50px;height:11.57px;background:#fdf0c6;box-shadow:inset 0 0 0 0.5px rgba(80,80,70,.42);"><span>0.03</span></div>
<div class="c mp" style="left:415.00px;top:302.54px;width:22.50px;height:11.57px;background:#7cc7a0;box-shadow:inset 0 0 0 0.5px rgba(80,80,70,.42);"><span>0.12</span></div>
<div class="c mp" style="left:437.50px;top:302.54px;width:23.50px;height:11.57px;background:#7cc7a0;box-shadow:inset 0 0 0 0.5px rgba(80,80,70,.42);"><span>-0.48</span></div>
<div class="c mp" style="left:369.00px;top:314.12px;width:23.50px;height:11.57px;background:#fbe096;box-shadow:inset 0 0 0 0.5px rgba(80,80,70,.42);"><span>0.98</span></div>
<div class="c mp" style="left:392.50px;top:314.12px;width:22.50px;height:11.57px;background:#fce9ab;box-shadow:inset 0 0 0 0.5px rgba(80,80,70,.42);"><span>0.23</span></div>
<div class="c mp" style="left:415.00px;top:314.12px;width:22.50px;height:11.57px;background:#7cc7a0;box-shadow:inset 0 0 0 0.5px rgba(80,80,70,.42);"><span>0.31</span></div>
<div class="c mp" style="left:437.50px;top:314.12px;width:23.50px;height:11.57px;background:#7cc7a0;box-shadow:inset 0 0 0 0.5px rgba(80,80,70,.42);"><span>-0.49</span></div>
<div class="c mp" style="left:369.00px;top:325.69px;width:23.50px;height:11.57px;background:#fffbf0;box-shadow:inset 0 0 0 0.5px rgba(80,80,70,.42);"><span>-1.25</span></div>
<div class="c mp" style="left:392.50px;top:325.69px;width:22.50px;height:11.57px;background:#fdf1ca;box-shadow:inset 0 0 0 0.5px rgba(80,80,70,.42);"><span>0.00</span></div>
<div class="c mp" style="left:415.00px;top:325.69px;width:22.50px;height:11.57px;background:#7cc7a0;box-shadow:inset 0 0 0 0.5px rgba(80,80,70,.42);"><span>0.11</span></div>
<div class="c mp" style="left:437.50px;top:325.69px;width:23.50px;height:11.57px;background:#7cc7a0;box-shadow:inset 0 0 0 0.5px rgba(80,80,70,.42);"><span>-0.54</span></div>
<div class="c mp" style="left:369.00px;top:337.26px;width:23.50px;height:11.57px;background:#fbde8f;box-shadow:inset 0 0 0 0.5px rgba(80,80,70,.42);"><span>1.16</span></div>
<div class="c mp" style="left:392.50px;top:337.26px;width:22.50px;height:11.57px;background:#fce8a8;box-shadow:inset 0 0 0 0.5px rgba(80,80,70,.42);"><span>0.25</span></div>
<div class="c mp" style="left:415.00px;top:337.26px;width:22.50px;height:11.57px;background:#7cc7a0;box-shadow:inset 0 0 0 0.5px rgba(80,80,70,.42);"><span>0.36</span></div>
<div class="c mp" style="left:437.50px;top:337.26px;width:23.50px;height:11.57px;background:#7cc7a0;box-shadow:inset 0 0 0 0.5px rgba(80,80,70,.42);"><span>-0.54</span></div>
<div class="c mp" style="left:369.00px;top:348.84px;width:23.50px;height:11.57px;background:#fef7e4;box-shadow:inset 0 0 0 0.5px rgba(80,80,70,.42);"><span>-0.96</span></div>
<div class="c mp" style="left:392.50px;top:348.84px;width:22.50px;height:11.57px;background:#fdf0c7;box-shadow:inset 0 0 0 0.5px rgba(80,80,70,.42);"><span>0.02</span></div>
<div class="c mp" style="left:415.00px;top:348.84px;width:22.50px;height:11.57px;background:#7cc7a0;box-shadow:inset 0 0 0 0.5px rgba(80,80,70,.42);"><span>0.13</span></div>
<div class="c mp" style="left:437.50px;top:348.84px;width:23.50px;height:11.57px;background:#7cc7a0;box-shadow:inset 0 0 0 0.5px rgba(80,80,70,.42);"><span>-0.59</span></div>
<div class="c mp" style="left:369.00px;top:360.41px;width:23.50px;height:11.57px;background:#fbe095;box-shadow:inset 0 0 0 0.5px rgba(80,80,70,.42);"><span>0.99</span></div>
<div class="c mp" style="left:392.50px;top:360.41px;width:22.50px;height:11.57px;background:#fce9ab;box-shadow:inset 0 0 0 0.5px rgba(80,80,70,.42);"><span>0.23</span></div>
<div class="c mp" style="left:415.00px;top:360.41px;width:22.50px;height:11.57px;background:#7cc7a0;box-shadow:inset 0 0 0 0.5px rgba(80,80,70,.42);"><span>0.32</span></div>
<div class="c mp" style="left:437.50px;top:360.41px;width:23.50px;height:11.57px;background:#7cc7a0;box-shadow:inset 0 0 0 0.5px rgba(80,80,70,.42);"><span>-0.59</span></div>
<div class="c mp" style="left:369.00px;top:371.98px;width:23.50px;height:11.57px;background:#fefaed;box-shadow:inset 0 0 0 0.5px rgba(80,80,70,.42);"><span>-1.17</span></div>
<div class="c mp" style="left:392.50px;top:371.98px;width:22.50px;height:11.57px;background:#fdf1ca;box-shadow:inset 0 0 0 0.5px rgba(80,80,70,.42);"><span>0.00</span></div>
<div class="c mp" style="left:415.00px;top:371.98px;width:22.50px;height:11.57px;background:#7cc7a0;box-shadow:inset 0 0 0 0.5px rgba(80,80,70,.42);"><span>0.12</span></div>
<div class="c mp" style="left:437.50px;top:371.98px;width:23.50px;height:11.57px;background:#7cc7a0;box-shadow:inset 0 0 0 0.5px rgba(80,80,70,.42);"><span>-0.64</span></div>
<div class="c mp" style="left:369.00px;top:383.56px;width:23.50px;height:11.57px;background:#fbde91;box-shadow:inset 0 0 0 0.5px rgba(80,80,70,.42);"><span>1.10</span></div>
<div class="c mp" style="left:392.50px;top:383.56px;width:22.50px;height:11.57px;background:#fce8a9;box-shadow:inset 0 0 0 0.5px rgba(80,80,70,.42);"><span>0.24</span></div>
<div class="c mp" style="left:415.00px;top:383.56px;width:22.50px;height:11.57px;background:#7cc7a0;box-shadow:inset 0 0 0 0.5px rgba(80,80,70,.42);"><span>0.36</span></div>
<div class="c mp" style="left:437.50px;top:383.56px;width:23.50px;height:11.57px;background:#7cc7a0;box-shadow:inset 0 0 0 0.5px rgba(80,80,70,.42);"><span>-0.64</span></div>
<div class="c mp" style="left:369.00px;top:395.13px;width:23.50px;height:11.57px;background:#fef8e5;box-shadow:inset 0 0 0 0.5px rgba(80,80,70,.42);"><span>-0.99</span></div>
<div class="c mp" style="left:392.50px;top:395.13px;width:22.50px;height:11.57px;background:#fdf1c8;box-shadow:inset 0 0 0 0.5px rgba(80,80,70,.42);"><span>0.02</span></div>
<div class="c mp" style="left:415.00px;top:395.13px;width:22.50px;height:11.57px;background:#7cc7a0;box-shadow:inset 0 0 0 0.5px rgba(80,80,70,.42);"><span>0.14</span></div>
<div class="c mp" style="left:437.50px;top:395.13px;width:23.50px;height:11.57px;background:#7cc7a0;box-shadow:inset 0 0 0 0.5px rgba(80,80,70,.42);"><span>-0.69</span></div>
<div class="c n" style="left:479.50px;top:94.35px;width:16.17px;height:11.82px;background:#d8eaf0;text-align:left;"><span>hat_1</span></div>
<div class="c n" style="left:638.20px;top:94.35px;width:16.17px;height:11.82px;background:#d8eaf0;text-align:left;"><span>res_1</span></div>
<div class="c n" style="left:796.90px;top:94.35px;width:16.17px;height:11.82px;background:#fdf1cc;text-align:left;"><span>da_1</span></div>
<div class="c n" style="left:495.37px;top:94.35px;width:16.17px;height:11.82px;background:#d8eaf0;text-align:left;"><span>hat_2</span></div>
<div class="c n" style="left:654.07px;top:94.35px;width:16.17px;height:11.82px;background:#d8eaf0;text-align:left;"><span>res_2</span></div>
<div class="c n" style="left:812.77px;top:94.35px;width:16.17px;height:11.82px;background:#fdf1cc;text-align:left;"><span>da_2</span></div>
<div class="c n" style="left:511.24px;top:94.35px;width:16.17px;height:11.82px;background:#d8eaf0;text-align:left;"><span>hat_3</span></div>
<div class="c n" style="left:669.94px;top:94.35px;width:16.17px;height:11.82px;background:#d8eaf0;text-align:left;"><span>res_3</span></div>
<div class="c n" style="left:828.64px;top:94.35px;width:16.17px;height:11.82px;background:#fdf1cc;text-align:left;"><span>da_3</span></div>
<div class="c n" style="left:527.11px;top:94.35px;width:16.17px;height:11.82px;background:#d8eaf0;text-align:left;"><span>hat_4</span></div>
<div class="c n" style="left:685.81px;top:94.35px;width:16.17px;height:11.82px;background:#d8eaf0;text-align:left;"><span>res_4</span></div>
<div class="c n" style="left:844.51px;top:94.35px;width:16.17px;height:11.82px;background:#fdf1cc;text-align:left;"><span>da_4</span></div>
<div class="c n" style="left:542.98px;top:94.35px;width:16.17px;height:11.82px;background:#d8eaf0;text-align:left;"><span>hat_5</span></div>
<div class="c n" style="left:701.68px;top:94.35px;width:16.17px;height:11.82px;background:#d8eaf0;text-align:left;"><span>res_5</span></div>
<div class="c n" style="left:860.38px;top:94.35px;width:16.17px;height:11.82px;background:#fdf1cc;text-align:left;"><span>da_5</span></div>
<div class="c n" style="left:558.85px;top:94.35px;width:16.17px;height:11.82px;background:#d8eaf0;text-align:left;"><span>hat_6</span></div>
<div class="c n" style="left:717.55px;top:94.35px;width:16.17px;height:11.82px;background:#d8eaf0;text-align:left;"><span>res_6</span></div>
<div class="c n" style="left:876.25px;top:94.35px;width:16.17px;height:11.82px;background:#fdf1cc;text-align:left;"><span>da_6</span></div>
<div class="c n" style="left:574.72px;top:94.35px;width:16.17px;height:11.82px;background:#d8eaf0;text-align:left;"><span>hat_7</span></div>
<div class="c n" style="left:733.42px;top:94.35px;width:16.17px;height:11.82px;background:#d8eaf0;text-align:left;"><span>res_7</span></div>
<div class="c n" style="left:892.12px;top:94.35px;width:16.17px;height:11.82px;background:#fdf1cc;text-align:left;"><span>da_7</span></div>
<div class="c n" style="left:590.59px;top:94.35px;width:16.17px;height:11.82px;background:#d8eaf0;text-align:left;"><span>hat_8</span></div>
<div class="c n" style="left:749.29px;top:94.35px;width:16.17px;height:11.82px;background:#d8eaf0;text-align:left;"><span>res_8</span></div>
<div class="c n" style="left:907.99px;top:94.35px;width:16.17px;height:11.82px;background:#fdf1cc;text-align:left;"><span>da_8</span></div>
<div class="c n" style="left:606.46px;top:94.35px;width:16.17px;height:11.82px;background:#d8eaf0;text-align:left;"><span>hat_9</span></div>
<div class="c n" style="left:765.16px;top:94.35px;width:16.17px;height:11.82px;background:#d8eaf0;text-align:left;"><span>res_9</span></div>
<div class="c n" style="left:923.86px;top:94.35px;width:16.17px;height:11.82px;background:#fdf1cc;text-align:left;"><span>da_9</span></div>
<div class="c n" style="left:622.33px;top:94.35px;width:16.17px;height:11.82px;background:#d8eaf0;text-align:left;"><span>hat_10</span></div>
<div class="c n" style="left:781.03px;top:94.35px;width:16.17px;height:11.82px;background:#d8eaf0;text-align:left;"><span>res_10</span></div>
<div class="c n" style="left:939.73px;top:94.35px;width:16.17px;height:11.82px;background:#fdf1cc;text-align:left;"><span>da_10</span></div>
<div class="c n" style="left:479.50px;top:105.87px;width:16.17px;height:11.82px;background:#b5e1cb;text-align:left;"><span>0.50</span></div>
<div class="c n" style="left:638.20px;top:105.87px;width:16.17px;height:11.82px;background:#f5c18f;text-align:left;"><span>0.50</span></div>
<div class="c n" style="left:796.90px;top:105.87px;width:16.17px;height:11.82px;background:#fef4d7;text-align:left;"><span>0.50</span></div>
<div class="c n" style="left:495.37px;top:105.87px;width:16.17px;height:11.82px;background:#b5e1cb;text-align:left;"><span>0.50</span></div>
<div class="c n" style="left:654.07px;top:105.87px;width:16.17px;height:11.82px;background:#f5c18f;text-align:left;"><span>0.50</span></div>
<div class="c n" style="left:812.77px;top:105.87px;width:16.17px;height:11.82px;background:#fef2ce;text-align:left;"><span>1.50</span></div>
<div class="c n" style="left:511.24px;top:105.87px;width:16.17px;height:11.82px;background:#b5e1cb;text-align:left;"><span>0.50</span></div>
<div class="c n" style="left:669.94px;top:105.87px;width:16.17px;height:11.82px;background:#f5c18f;text-align:left;"><span>0.50</span></div>
<div class="c n" style="left:828.64px;top:105.87px;width:16.17px;height:11.82px;background:#fef0ca;text-align:left;"><span>2.00</span></div>
<div class="c n" style="left:527.11px;top:105.87px;width:16.17px;height:11.82px;background:#b5e1cb;text-align:left;"><span>0.50</span></div>
<div class="c n" style="left:685.81px;top:105.87px;width:16.17px;height:11.82px;background:#7ac68e;text-align:left;"><span>-0.50</span></div>
<div class="c n" style="left:844.51px;top:105.87px;width:16.17px;height:11.82px;background:#fffbf1;text-align:left;"><span>-3.50</span></div>
<div class="c n" style="left:542.98px;top:105.87px;width:16.17px;height:11.82px;background:#b5e1cb;text-align:left;"><span>0.50</span></div>
<div class="c n" style="left:701.68px;top:105.87px;width:16.17px;height:11.82px;background:#f5c18f;text-align:left;"><span>0.50</span></div>
<div class="c n" style="left:860.38px;top:105.87px;width:16.17px;height:11.82px;background:#fdeab1;text-align:left;"><span>4.50</span></div>
<div class="c n" style="left:558.85px;top:105.87px;width:16.17px;height:11.82px;background:#b5e1cb;text-align:left;"><span>0.50</span></div>
<div class="c n" style="left:717.55px;top:105.87px;width:16.17px;height:11.82px;background:#7ac68e;text-align:left;"><span>-0.50</span></div>
<div class="c n" style="left:876.25px;top:105.87px;width:16.17px;height:11.82px;background:#fffdf8;text-align:left;"><span>-5.00</span></div>
<div class="c n" style="left:574.72px;top:105.87px;width:16.17px;height:11.82px;background:#b5e1cb;text-align:left;"><span>0.50</span></div>
<div class="c n" style="left:733.42px;top:105.87px;width:16.17px;height:11.82px;background:#7ac68e;text-align:left;"><span>-0.50</span></div>
<div class="c n" style="left:892.12px;top:105.87px;width:16.17px;height:11.82px;background:#fffefa;text-align:left;"><span>-5.50</span></div>
<div class="c n" style="left:590.59px;top:105.87px;width:16.17px;height:11.82px;background:#b5e1cb;text-align:left;"><span>0.50</span></div>
<div class="c n" style="left:749.29px;top:105.87px;width:16.17px;height:11.82px;background:#7ac68e;text-align:left;"><span>-0.50</span></div>
<div class="c n" style="left:907.99px;top:105.87px;width:16.17px;height:11.82px;background:#fffefd;text-align:left;"><span>-6.50</span></div>
<div class="c n" style="left:606.46px;top:105.87px;width:16.17px;height:11.82px;background:#b5e1cb;text-align:left;"><span>0.50</span></div>
<div class="c n" style="left:765.16px;top:105.87px;width:16.17px;height:11.82px;background:#7ac68e;text-align:left;"><span>-0.50</span></div>
<div class="c n" style="left:923.86px;top:105.87px;width:16.17px;height:11.82px;background:#fffffe;text-align:left;"><span>-7.00</span></div>
<div class="c n" style="left:622.33px;top:105.87px;width:16.17px;height:11.82px;background:#b5e1cb;text-align:left;"><span>0.50</span></div>
<div class="c n" style="left:781.03px;top:105.87px;width:16.17px;height:11.82px;background:#7ac68e;text-align:left;"><span>-0.50</span></div>
<div class="c n" style="left:939.73px;top:105.87px;width:16.17px;height:11.82px;background:#ffffff;text-align:left;"><span>-8.00</span></div>
<div class="c n" style="left:479.50px;top:117.39px;width:16.17px;height:11.82px;background:#a1d8bc;text-align:left;"><span>0.64</span></div>
<div class="c n" style="left:638.20px;top:117.39px;width:16.17px;height:11.82px;background:#f3b68e;text-align:left;"><span>0.64</span></div>
<div class="c n" style="left:796.90px;top:117.39px;width:16.17px;height:11.82px;background:#fef4d6;text-align:left;"><span>0.64</span></div>
<div class="c n" style="left:495.37px;top:117.39px;width:16.17px;height:11.82px;background:#83cca7;text-align:left;"><span>0.84</span></div>
<div class="c n" style="left:654.07px;top:117.39px;width:16.17px;height:11.82px;background:#efa68a;text-align:left;"><span>0.84</span></div>
<div class="c n" style="left:812.77px;top:117.39px;width:16.17px;height:11.82px;background:#feefc5;text-align:left;"><span>2.51</span></div>
<div class="c n" style="left:511.24px;top:117.39px;width:16.17px;height:11.82px;background:#7ac8a1;text-align:left;"><span>0.90</span></div>
<div class="c n" style="left:669.94px;top:117.39px;width:16.17px;height:11.82px;background:#ed9f89;text-align:left;"><span>0.90</span></div>
<div class="c n" style="left:828.64px;top:117.39px;width:16.17px;height:11.82px;background:#fdecbb;text-align:left;"><span>3.59</span></div>
<div class="c n" style="left:527.11px;top:117.39px;width:16.17px;height:11.82px;background:#6ec498;text-align:left;"><span>0.98</span></div>
<div class="c n" style="left:685.81px;top:117.39px;width:16.17px;height:11.82px;background:#f7e496;text-align:left;"><span>-0.02</span></div>
<div class="c n" style="left:844.51px;top:117.39px;width:16.17px;height:11.82px;background:#fef5dc;text-align:left;"><span>-0.15</span></div>
<div class="c n" style="left:542.98px;top:117.39px;width:16.17px;height:11.82px;background:#6cc397;text-align:left;"><span>0.99</span></div>
<div class="c n" style="left:701.68px;top:117.39px;width:16.17px;height:11.82px;background:#eb9286;text-align:left;"><span>0.99</span></div>
<div class="c n" style="left:860.38px;top:117.39px;width:16.17px;height:11.82px;background:#fcdb7d;text-align:left;"><span>8.93</span></div>
<div class="c n" style="left:558.85px;top:117.39px;width:16.17px;height:11.82px;background:#6cc397;text-align:left;"><span>1.00</span></div>
<div class="c n" style="left:717.55px;top:117.39px;width:16.17px;height:11.82px;background:#fbe596;text-align:left;"><span>0.00</span></div>
<div class="c n" style="left:876.25px;top:117.39px;width:16.17px;height:11.82px;background:#fef5db;text-align:left;"><span>-0.04</span></div>
<div class="c n" style="left:574.72px;top:117.39px;width:16.17px;height:11.82px;background:#6bc296;text-align:left;"><span>1.00</span></div>
<div class="c n" style="left:733.42px;top:117.39px;width:16.17px;height:11.82px;background:#fbe596;text-align:left;"><span>0.00</span></div>
<div class="c n" style="left:892.12px;top:117.39px;width:16.17px;height:11.82px;background:#fef5db;text-align:left;"><span>-0.03</span></div>
<div class="c n" style="left:590.59px;top:117.39px;width:16.17px;height:11.82px;background:#6bc296;text-align:left;"><span>1.00</span></div>
<div class="c n" style="left:749.29px;top:117.39px;width:16.17px;height:11.82px;background:#fce596;text-align:left;"><span>0.00</span></div>
<div class="c n" style="left:907.99px;top:117.39px;width:16.17px;height:11.82px;background:#fef5db;text-align:left;"><span>-0.01</span></div>
<div class="c n" style="left:606.46px;top:117.39px;width:16.17px;height:11.82px;background:#6bc296;text-align:left;"><span>1.00</span></div>
<div class="c n" style="left:765.16px;top:117.39px;width:16.17px;height:11.82px;background:#fce596;text-align:left;"><span>0.00</span></div>
<div class="c n" style="left:923.86px;top:117.39px;width:16.17px;height:11.82px;background:#fef5db;text-align:left;"><span>-0.01</span></div>
<div class="c n" style="left:622.33px;top:117.39px;width:16.17px;height:11.82px;background:#6bc296;text-align:left;"><span>1.00</span></div>
<div class="c n" style="left:781.03px;top:117.39px;width:16.17px;height:11.82px;background:#fce596;text-align:left;"><span>0.00</span></div>
<div class="c n" style="left:939.73px;top:117.39px;width:16.17px;height:11.82px;background:#fef5db;text-align:left;"><span>0.00</span></div>
<div class="c n" style="left:479.50px;top:128.91px;width:16.17px;height:11.82px;background:#aedec6;text-align:left;"><span>0.55</span></div>
<div class="c n" style="left:638.20px;top:128.91px;width:16.17px;height:11.82px;background:#f4be8e;text-align:left;"><span>0.55</span></div>
<div class="c n" style="left:796.90px;top:128.91px;width:16.17px;height:11.82px;background:#fef4d6;text-align:left;"><span>0.55</span></div>
<div class="c n" style="left:495.37px;top:128.91px;width:16.17px;height:11.82px;background:#9ed7ba;text-align:left;"><span>0.66</span></div>
<div class="c n" style="left:654.07px;top:128.91px;width:16.17px;height:11.82px;background:#f2b68d;text-align:left;"><span>0.66</span></div>
<div class="c n" style="left:812.77px;top:128.91px;width:16.17px;height:11.82px;background:#fef0ca;text-align:left;"><span>1.97</span></div>
<div class="c n" style="left:511.24px;top:128.91px;width:16.17px;height:11.82px;background:#96d4b5;text-align:left;"><span>0.71</span></div>
<div class="c n" style="left:669.94px;top:128.91px;width:16.17px;height:11.82px;background:#f1b28d;text-align:left;"><span>0.71</span></div>
<div class="c n" style="left:828.64px;top:128.91px;width:16.17px;height:11.82px;background:#feeec2;text-align:left;"><span>2.83</span></div>
<div class="c n" style="left:527.11px;top:128.91px;width:16.17px;height:11.82px;background:#84cda8;text-align:left;"><span>0.83</span></div>
<div class="c n" style="left:685.81px;top:128.91px;width:16.17px;height:11.82px;background:#d0db93;text-align:left;"><span>-0.17</span></div>
<div class="c n" style="left:844.51px;top:128.91px;width:16.17px;height:11.82px;background:#fef7e3;text-align:left;"><span>-1.20</span></div>
<div class="c n" style="left:542.98px;top:128.91px;width:16.17px;height:11.82px;background:#7cc9a2;text-align:left;"><span>0.88</span></div>
<div class="c n" style="left:701.68px;top:128.91px;width:16.17px;height:11.82px;background:#eea189;text-align:left;"><span>0.88</span></div>
<div class="c n" style="left:860.38px;top:128.91px;width:16.17px;height:11.82px;background:#fcdf89;text-align:left;"><span>7.96</span></div>
<div class="c n" style="left:558.85px;top:128.91px;width:16.17px;height:11.82px;background:#79c8a0;text-align:left;"><span>0.91</span></div>
<div class="c n" style="left:717.55px;top:128.91px;width:16.17px;height:11.82px;background:#e4df94;text-align:left;"><span>-0.09</span></div>
<div class="c n" style="left:876.25px;top:128.91px;width:16.17px;height:11.82px;background:#fef7e2;text-align:left;"><span>-0.94</span></div>
<div class="c n" style="left:574.72px;top:128.91px;width:16.17px;height:11.82px;background:#76c79e;text-align:left;"><span>0.92</span></div>
<div class="c n" style="left:733.42px;top:128.91px;width:16.17px;height:11.82px;background:#e9e095;text-align:left;"><span>-0.08</span></div>
<div class="c n" style="left:892.12px;top:128.91px;width:16.17px;height:11.82px;background:#fef7e1;text-align:left;"><span>-0.84</span></div>
<div class="c n" style="left:590.59px;top:128.91px;width:16.17px;height:11.82px;background:#72c59b;text-align:left;"><span>0.95</span></div>
<div class="c n" style="left:749.29px;top:128.91px;width:16.17px;height:11.82px;background:#efe295;text-align:left;"><span>-0.05</span></div>
<div class="c n" style="left:907.99px;top:128.91px;width:16.17px;height:11.82px;background:#fef6df;text-align:left;"><span>-0.64</span></div>
<div class="c n" style="left:606.46px;top:128.91px;width:16.17px;height:11.82px;background:#71c59a;text-align:left;"><span>0.96</span></div>
<div class="c n" style="left:765.16px;top:128.91px;width:16.17px;height:11.82px;background:#f2e295;text-align:left;"><span>-0.04</span></div>
<div class="c n" style="left:923.86px;top:128.91px;width:16.17px;height:11.82px;background:#fef6df;text-align:left;"><span>-0.55</span></div>
<div class="c n" style="left:622.33px;top:128.91px;width:16.17px;height:11.82px;background:#6fc499;text-align:left;"><span>0.97</span></div>
<div class="c n" style="left:781.03px;top:128.91px;width:16.17px;height:11.82px;background:#f6e396;text-align:left;"><span>-0.03</span></div>
<div class="c n" style="left:939.73px;top:128.91px;width:16.17px;height:11.82px;background:#fef6de;text-align:left;"><span>-0.40</span></div>
<div class="c n" style="left:479.50px;top:140.43px;width:16.17px;height:11.82px;background:#b6e1cc;text-align:left;"><span>0.49</span></div>
<div class="c n" style="left:638.20px;top:140.43px;width:16.17px;height:11.82px;background:#f5c28f;text-align:left;"><span>0.49</span></div>
<div class="c n" style="left:796.90px;top:140.43px;width:16.17px;height:11.82px;background:#fef4d7;text-align:left;"><span>0.49</span></div>
<div class="c n" style="left:495.37px;top:140.43px;width:16.17px;height:11.82px;background:#b2dfc9;text-align:left;"><span>0.52</span></div>
<div class="c n" style="left:654.07px;top:140.43px;width:16.17px;height:11.82px;background:#f5c08e;text-align:left;"><span>0.52</span></div>
<div class="c n" style="left:812.77px;top:140.43px;width:16.17px;height:11.82px;background:#fef1ce;text-align:left;"><span>1.56</span></div>
<div class="c n" style="left:511.24px;top:140.43px;width:16.17px;height:11.82px;background:#b0dfc7;text-align:left;"><span>0.53</span></div>
<div class="c n" style="left:669.94px;top:140.43px;width:16.17px;height:11.82px;background:#f4bf8e;text-align:left;"><span>0.53</span></div>
<div class="c n" style="left:828.64px;top:140.43px;width:16.17px;height:11.82px;background:#fef0c9;text-align:left;"><span>2.13</span></div>
<div class="c n" style="left:527.11px;top:140.43px;width:16.17px;height:11.82px;background:#aadcc3;text-align:left;"><span>0.58</span></div>
<div class="c n" style="left:685.81px;top:140.43px;width:16.17px;height:11.82px;background:#8ecb8f;text-align:left;"><span>-0.42</span></div>
<div class="c n" style="left:844.51px;top:140.43px;width:16.17px;height:11.82px;background:#fffaee;text-align:left;"><span>-2.97</span></div>
<div class="c n" style="left:542.98px;top:140.43px;width:16.17px;height:11.82px;background:#a6dac0;text-align:left;"><span>0.60</span></div>
<div class="c n" style="left:701.68px;top:140.43px;width:16.17px;height:11.82px;background:#f3b98e;text-align:left;"><span>0.60</span></div>
<div class="c n" style="left:860.38px;top:140.43px;width:16.17px;height:11.82px;background:#fde7a7;text-align:left;"><span>5.43</span></div>
<div class="c n" style="left:558.85px;top:140.43px;width:16.17px;height:11.82px;background:#a4dabe;text-align:left;"><span>0.62</span></div>
<div class="c n" style="left:717.55px;top:140.43px;width:16.17px;height:11.82px;background:#99ce90;text-align:left;"><span>-0.38</span></div>
<div class="c n" style="left:876.25px;top:140.43px;width:16.17px;height:11.82px;background:#fffcf3;text-align:left;"><span>-3.84</span></div>
<div class="c n" style="left:574.72px;top:140.43px;width:16.17px;height:11.82px;background:#a2d9bd;text-align:left;"><span>0.63</span></div>
<div class="c n" style="left:733.42px;top:140.43px;width:16.17px;height:11.82px;background:#9bcf90;text-align:left;"><span>-0.37</span></div>
<div class="c n" style="left:892.12px;top:140.43px;width:16.17px;height:11.82px;background:#fffcf4;text-align:left;"><span>-4.07</span></div>
<div class="c n" style="left:590.59px;top:140.43px;width:16.17px;height:11.82px;background:#9ed7ba;text-align:left;"><span>0.66</span></div>
<div class="c n" style="left:749.29px;top:140.43px;width:16.17px;height:11.82px;background:#a3d090;text-align:left;"><span>-0.34</span></div>
<div class="c n" style="left:907.99px;top:140.43px;width:16.17px;height:11.82px;background:#fffdf6;text-align:left;"><span>-4.47</span></div>
<div class="c n" style="left:606.46px;top:140.43px;width:16.17px;height:11.82px;background:#9cd6b9;text-align:left;"><span>0.67</span></div>
<div class="c n" style="left:765.16px;top:140.43px;width:16.17px;height:11.82px;background:#a6d091;text-align:left;"><span>-0.33</span></div>
<div class="c n" style="left:923.86px;top:140.43px;width:16.17px;height:11.82px;background:#fffdf7;text-align:left;"><span>-4.64</span></div>
<div class="c n" style="left:622.33px;top:140.43px;width:16.17px;height:11.82px;background:#98d5b6;text-align:left;"><span>0.69</span></div>
<div class="c n" style="left:781.03px;top:140.43px;width:16.17px;height:11.82px;background:#acd291;text-align:left;"><span>-0.31</span></div>
<div class="c n" style="left:939.73px;top:140.43px;width:16.17px;height:11.82px;background:#fffdf8;text-align:left;"><span>-4.91</span></div>
<div class="c n" style="left:479.50px;top:151.95px;width:16.17px;height:11.82px;background:#abddc4;text-align:left;"><span>0.57</span></div>
<div class="c n" style="left:638.20px;top:151.95px;width:16.17px;height:11.82px;background:#f4bc8e;text-align:left;"><span>0.57</span></div>
<div class="c n" style="left:796.90px;top:151.95px;width:16.17px;height:11.82px;background:#fef4d6;text-align:left;"><span>0.57</span></div>
<div class="c n" style="left:495.37px;top:151.95px;width:16.17px;height:11.82px;background:#93d3b2;text-align:left;"><span>0.73</span></div>
<div class="c n" style="left:654.07px;top:151.95px;width:16.17px;height:11.82px;background:#f1af8c;text-align:left;"><span>0.73</span></div>
<div class="c n" style="left:812.77px;top:151.95px;width:16.17px;height:11.82px;background:#fef0c8;text-align:left;"><span>2.19</span></div>
<div class="c n" style="left:511.24px;top:151.95px;width:16.17px;height:11.82px;background:#89cfac;text-align:left;"><span>0.80</span></div>
<div class="c n" style="left:669.94px;top:151.95px;width:16.17px;height:11.82px;background:#f0a98b;text-align:left;"><span>0.80</span></div>
<div class="c n" style="left:828.64px;top:151.95px;width:16.17px;height:11.82px;background:#feedbf;text-align:left;"><span>3.18</span></div>
<div class="c n" style="left:527.11px;top:151.95px;width:16.17px;height:11.82px;background:#77c79e;text-align:left;"><span>0.92</span></div>
<div class="c n" style="left:685.81px;top:151.95px;width:16.17px;height:11.82px;background:#e8e095;text-align:left;"><span>-0.08</span></div>
<div class="c n" style="left:844.51px;top:151.95px;width:16.17px;height:11.82px;background:#fef6df;text-align:left;"><span>-0.56</span></div>
<div class="c n" style="left:542.98px;top:151.95px;width:16.17px;height:11.82px;background:#71c59a;text-align:left;"><span>0.96</span></div>
<div class="c n" style="left:701.68px;top:151.95px;width:16.17px;height:11.82px;background:#eb9887;text-align:left;"><span>0.96</span></div>
<div class="c n" style="left:860.38px;top:151.95px;width:16.17px;height:11.82px;background:#fcdc81;text-align:left;"><span>8.64</span></div>
<div class="c n" style="left:558.85px;top:151.95px;width:16.17px;height:11.82px;background:#6fc499;text-align:left;"><span>0.97</span></div>
<div class="c n" style="left:717.55px;top:151.95px;width:16.17px;height:11.82px;background:#f5e396;text-align:left;"><span>-0.03</span></div>
<div class="c n" style="left:876.25px;top:151.95px;width:16.17px;height:11.82px;background:#fef6dd;text-align:left;"><span>-0.28</span></div>
<div class="c n" style="left:574.72px;top:151.95px;width:16.17px;height:11.82px;background:#6ec398;text-align:left;"><span>0.98</span></div>
<div class="c n" style="left:733.42px;top:151.95px;width:16.17px;height:11.82px;background:#f7e496;text-align:left;"><span>-0.02</span></div>
<div class="c n" style="left:892.12px;top:151.95px;width:16.17px;height:11.82px;background:#fef5dc;text-align:left;"><span>-0.22</span></div>
<div class="c n" style="left:590.59px;top:151.95px;width:16.17px;height:11.82px;background:#6cc397;text-align:left;"><span>0.99</span></div>
<div class="c n" style="left:749.29px;top:151.95px;width:16.17px;height:11.82px;background:#f9e496;text-align:left;"><span>-0.01</span></div>
<div class="c n" style="left:907.99px;top:151.95px;width:16.17px;height:11.82px;background:#fef5dc;text-align:left;"><span>-0.13</span></div>
<div class="c n" style="left:606.46px;top:151.95px;width:16.17px;height:11.82px;background:#6cc397;text-align:left;"><span>0.99</span></div>
<div class="c n" style="left:765.16px;top:151.95px;width:16.17px;height:11.82px;background:#fae596;text-align:left;"><span>-0.01</span></div>
<div class="c n" style="left:923.86px;top:151.95px;width:16.17px;height:11.82px;background:#fef5db;text-align:left;"><span>-0.10</span></div>
<div class="c n" style="left:622.33px;top:151.95px;width:16.17px;height:11.82px;background:#6cc296;text-align:left;"><span>1.00</span></div>
<div class="c n" style="left:781.03px;top:151.95px;width:16.17px;height:11.82px;background:#fbe596;text-align:left;"><span>0.00</span></div>
<div class="c n" style="left:939.73px;top:151.95px;width:16.17px;height:11.82px;background:#fef5db;text-align:left;"><span>-0.05</span></div>
<div class="c n" style="left:479.50px;top:163.47px;width:16.17px;height:11.82px;background:#b7e1cc;text-align:left;"><span>0.49</span></div>
<div class="c n" style="left:638.20px;top:163.47px;width:16.17px;height:11.82px;background:#f5c28f;text-align:left;"><span>0.49</span></div>
<div class="c n" style="left:796.90px;top:163.47px;width:16.17px;height:11.82px;background:#fef4d7;text-align:left;"><span>0.49</span></div>
<div class="c n" style="left:495.37px;top:163.47px;width:16.17px;height:11.82px;background:#b0dec7;text-align:left;"><span>0.54</span></div>
<div class="c n" style="left:654.07px;top:163.47px;width:16.17px;height:11.82px;background:#f4be8e;text-align:left;"><span>0.54</span></div>
<div class="c n" style="left:812.77px;top:163.47px;width:16.17px;height:11.82px;background:#fef1cd;text-align:left;"><span>1.61</span></div>
<div class="c n" style="left:511.24px;top:163.47px;width:16.17px;height:11.82px;background:#acddc4;text-align:left;"><span>0.56</span></div>
<div class="c n" style="left:669.94px;top:163.47px;width:16.17px;height:11.82px;background:#f4bd8e;text-align:left;"><span>0.56</span></div>
<div class="c n" style="left:828.64px;top:163.47px;width:16.17px;height:11.82px;background:#fef0c8;text-align:left;"><span>2.24</span></div>
<div class="c n" style="left:527.11px;top:163.47px;width:16.17px;height:11.82px;background:#a2d9bd;text-align:left;"><span>0.63</span></div>
<div class="c n" style="left:685.81px;top:163.47px;width:16.17px;height:11.82px;background:#9ccf90;text-align:left;"><span>-0.37</span></div>
<div class="c n" style="left:844.51px;top:163.47px;width:16.17px;height:11.82px;background:#fffaec;text-align:left;"><span>-2.59</span></div>
<div class="c n" style="left:542.98px;top:163.47px;width:16.17px;height:11.82px;background:#9bd6b8;text-align:left;"><span>0.67</span></div>
<div class="c n" style="left:701.68px;top:163.47px;width:16.17px;height:11.82px;background:#f2b48d;text-align:left;"><span>0.67</span></div>
<div class="c n" style="left:860.38px;top:163.47px;width:16.17px;height:11.82px;background:#fde5a0;text-align:left;"><span>6.07</span></div>
<div class="c n" style="left:558.85px;top:163.47px;width:16.17px;height:11.82px;background:#98d5b6;text-align:left;"><span>0.70</span></div>
<div class="c n" style="left:717.55px;top:163.47px;width:16.17px;height:11.82px;background:#add291;text-align:left;"><span>-0.30</span></div>
<div class="c n" style="left:876.25px;top:163.47px;width:16.17px;height:11.82px;background:#fffbef;text-align:left;"><span>-3.04</span></div>
<div class="c n" style="left:574.72px;top:163.47px;width:16.17px;height:11.82px;background:#95d3b4;text-align:left;"><span>0.72</span></div>
<div class="c n" style="left:733.42px;top:163.47px;width:16.17px;height:11.82px;background:#b3d391;text-align:left;"><span>-0.28</span></div>
<div class="c n" style="left:892.12px;top:163.47px;width:16.17px;height:11.82px;background:#fffbef;text-align:left;"><span>-3.12</span></div>
<div class="c n" style="left:590.59px;top:163.47px;width:16.17px;height:11.82px;background:#8fd1b0;text-align:left;"><span>0.75</span></div>
<div class="c n" style="left:749.29px;top:163.47px;width:16.17px;height:11.82px;background:#bcd692;text-align:left;"><span>-0.25</span></div>
<div class="c n" style="left:907.99px;top:163.47px;width:16.17px;height:11.82px;background:#fffbf0;text-align:left;"><span>-3.19</span></div>
<div class="c n" style="left:606.46px;top:163.47px;width:16.17px;height:11.82px;background:#8dd0ae;text-align:left;"><span>0.77</span></div>
<div class="c n" style="left:765.16px;top:163.47px;width:16.17px;height:11.82px;background:#c1d792;text-align:left;"><span>-0.23</span></div>
<div class="c n" style="left:923.86px;top:163.47px;width:16.17px;height:11.82px;background:#fffbf0;text-align:left;"><span>-3.19</span></div>
<div class="c n" style="left:622.33px;top:163.47px;width:16.17px;height:11.82px;background:#88ceab;text-align:left;"><span>0.80</span></div>
<div class="c n" style="left:781.03px;top:163.47px;width:16.17px;height:11.82px;background:#c9d993;text-align:left;"><span>-0.20</span></div>
<div class="c n" style="left:939.73px;top:163.47px;width:16.17px;height:11.82px;background:#fffbef;text-align:left;"><span>-3.13</span></div>
<div class="c n" style="left:479.50px;top:174.99px;width:16.17px;height:11.82px;background:#b2dfc8;text-align:left;"><span>0.52</span></div>
<div class="c n" style="left:638.20px;top:174.99px;width:16.17px;height:11.82px;background:#f4bf8e;text-align:left;"><span>0.52</span></div>
<div class="c n" style="left:796.90px;top:174.99px;width:16.17px;height:11.82px;background:#fef4d6;text-align:left;"><span>0.52</span></div>
<div class="c n" style="left:495.37px;top:174.99px;width:16.17px;height:11.82px;background:#9fd8bb;text-align:left;"><span>0.65</span></div>
<div class="c n" style="left:654.07px;top:174.99px;width:16.17px;height:11.82px;background:#f2b68d;text-align:left;"><span>0.65</span></div>
<div class="c n" style="left:812.77px;top:174.99px;width:16.17px;height:11.82px;background:#fef1ca;text-align:left;"><span>1.94</span></div>
<div class="c n" style="left:511.24px;top:174.99px;width:16.17px;height:11.82px;background:#97d4b5;text-align:left;"><span>0.70</span></div>
<div class="c n" style="left:669.94px;top:174.99px;width:16.17px;height:11.82px;background:#f1b28d;text-align:left;"><span>0.70</span></div>
<div class="c n" style="left:828.64px;top:174.99px;width:16.17px;height:11.82px;background:#feeec2;text-align:left;"><span>2.81</span></div>
<div class="c n" style="left:527.11px;top:174.99px;width:16.17px;height:11.82px;background:#83cca7;text-align:left;"><span>0.83</span></div>
<div class="c n" style="left:685.81px;top:174.99px;width:16.17px;height:11.82px;background:#d1db93;text-align:left;"><span>-0.17</span></div>
<div class="c n" style="left:844.51px;top:174.99px;width:16.17px;height:11.82px;background:#fef7e3;text-align:left;"><span>-1.16</span></div>
<div class="c n" style="left:542.98px;top:174.99px;width:16.17px;height:11.82px;background:#7bc9a1;text-align:left;"><span>0.89</span></div>
<div class="c n" style="left:701.68px;top:174.99px;width:16.17px;height:11.82px;background:#eda089;text-align:left;"><span>0.89</span></div>
<div class="c n" style="left:860.38px;top:174.99px;width:16.17px;height:11.82px;background:#fcde88;text-align:left;"><span>8.05</span></div>
<div class="c n" style="left:558.85px;top:174.99px;width:16.17px;height:11.82px;background:#77c79f;text-align:left;"><span>0.92</span></div>
<div class="c n" style="left:717.55px;top:174.99px;width:16.17px;height:11.82px;background:#e6df95;text-align:left;"><span>-0.08</span></div>
<div class="c n" style="left:876.25px;top:174.99px;width:16.17px;height:11.82px;background:#fef7e1;text-align:left;"><span>-0.84</span></div>
<div class="c n" style="left:574.72px;top:174.99px;width:16.17px;height:11.82px;background:#75c69d;text-align:left;"><span>0.93</span></div>
<div class="c n" style="left:733.42px;top:174.99px;width:16.17px;height:11.82px;background:#ebe195;text-align:left;"><span>-0.07</span></div>
<div class="c n" style="left:892.12px;top:174.99px;width:16.17px;height:11.82px;background:#fef7e0;text-align:left;"><span>-0.73</span></div>
<div class="c n" style="left:590.59px;top:174.99px;width:16.17px;height:11.82px;background:#71c59a;text-align:left;"><span>0.96</span></div>
<div class="c n" style="left:749.29px;top:174.99px;width:16.17px;height:11.82px;background:#f2e295;text-align:left;"><span>-0.04</span></div>
<div class="c n" style="left:907.99px;top:174.99px;width:16.17px;height:11.82px;background:#fef6df;text-align:left;"><span>-0.53</span></div>
<div class="c n" style="left:606.46px;top:174.99px;width:16.17px;height:11.82px;background:#70c49a;text-align:left;"><span>0.97</span></div>
<div class="c n" style="left:765.16px;top:174.99px;width:16.17px;height:11.82px;background:#f4e395;text-align:left;"><span>-0.03</span></div>
<div class="c n" style="left:923.86px;top:174.99px;width:16.17px;height:11.82px;background:#fef6de;text-align:left;"><span>-0.45</span></div>
<div class="c n" style="left:622.33px;top:174.99px;width:16.17px;height:11.82px;background:#6ec398;text-align:left;"><span>0.98</span></div>
<div class="c n" style="left:781.03px;top:174.99px;width:16.17px;height:11.82px;background:#f8e496;text-align:left;"><span>-0.02</span></div>
<div class="c n" style="left:939.73px;top:174.99px;width:16.17px;height:11.82px;background:#fef6dd;text-align:left;"><span>-0.31</span></div>
<div class="c n" style="left:479.50px;top:186.51px;width:16.17px;height:11.82px;background:#bae3ce;text-align:left;"><span>0.46</span></div>
<div class="c n" style="left:638.20px;top:186.51px;width:16.17px;height:11.82px;background:#f5c38f;text-align:left;"><span>0.46</span></div>
<div class="c n" style="left:796.90px;top:186.51px;width:16.17px;height:11.82px;background:#fef4d7;text-align:left;"><span>0.46</span></div>
<div class="c n" style="left:495.37px;top:186.51px;width:16.17px;height:11.82px;background:#b5e1cb;text-align:left;"><span>0.50</span></div>
<div class="c n" style="left:654.07px;top:186.51px;width:16.17px;height:11.82px;background:#f5c18f;text-align:left;"><span>0.50</span></div>
<div class="c n" style="left:812.77px;top:186.51px;width:16.17px;height:11.82px;background:#fef2ce;text-align:left;"><span>1.50</span></div>
<div class="c n" style="left:511.24px;top:186.51px;width:16.17px;height:11.82px;background:#b3e0c9;text-align:left;"><span>0.52</span></div>
<div class="c n" style="left:669.94px;top:186.51px;width:16.17px;height:11.82px;background:#f5c08e;text-align:left;"><span>0.52</span></div>
<div class="c n" style="left:828.64px;top:186.51px;width:16.17px;height:11.82px;background:#fef0c9;text-align:left;"><span>2.07</span></div>
<div class="c n" style="left:527.11px;top:186.51px;width:16.17px;height:11.82px;background:#abdcc3;text-align:left;"><span>0.57</span></div>
<div class="c n" style="left:685.81px;top:186.51px;width:16.17px;height:11.82px;background:#8cca8f;text-align:left;"><span>-0.43</span></div>
<div class="c n" style="left:844.51px;top:186.51px;width:16.17px;height:11.82px;background:#fffbef;text-align:left;"><span>-3.02</span></div>
<div class="c n" style="left:542.98px;top:186.51px;width:16.17px;height:11.82px;background:#a6dac0;text-align:left;"><span>0.60</span></div>
<div class="c n" style="left:701.68px;top:186.51px;width:16.17px;height:11.82px;background:#f3b98e;text-align:left;"><span>0.60</span></div>
<div class="c n" style="left:860.38px;top:186.51px;width:16.17px;height:11.82px;background:#fde7a7;text-align:left;"><span>5.41</span></div>
<div class="c n" style="left:558.85px;top:186.51px;width:16.17px;height:11.82px;background:#a4d9be;text-align:left;"><span>0.62</span></div>
<div class="c n" style="left:717.55px;top:186.51px;width:16.17px;height:11.82px;background:#99ce90;text-align:left;"><span>-0.38</span></div>
<div class="c n" style="left:876.25px;top:186.51px;width:16.17px;height:11.82px;background:#fffcf3;text-align:left;"><span>-3.82</span></div>
<div class="c n" style="left:574.72px;top:186.51px;width:16.17px;height:11.82px;background:#a1d8bc;text-align:left;"><span>0.63</span></div>
<div class="c n" style="left:733.42px;top:186.51px;width:16.17px;height:11.82px;background:#9dcf90;text-align:left;"><span>-0.37</span></div>
<div class="c n" style="left:892.12px;top:186.51px;width:16.17px;height:11.82px;background:#fffcf4;text-align:left;"><span>-4.02</span></div>
<div class="c n" style="left:590.59px;top:186.51px;width:16.17px;height:11.82px;background:#9cd7b9;text-align:left;"><span>0.67</span></div>
<div class="c n" style="left:749.29px;top:186.51px;width:16.17px;height:11.82px;background:#a5d091;text-align:left;"><span>-0.33</span></div>
<div class="c n" style="left:907.99px;top:186.51px;width:16.17px;height:11.82px;background:#fffcf5;text-align:left;"><span>-4.34</span></div>
<div class="c n" style="left:606.46px;top:186.51px;width:16.17px;height:11.82px;background:#9ad6b8;text-align:left;"><span>0.68</span></div>
<div class="c n" style="left:765.16px;top:186.51px;width:16.17px;height:11.82px;background:#a9d191;text-align:left;"><span>-0.32</span></div>
<div class="c n" style="left:923.86px;top:186.51px;width:16.17px;height:11.82px;background:#fffdf6;text-align:left;"><span>-4.47</span></div>
<div class="c n" style="left:622.33px;top:186.51px;width:16.17px;height:11.82px;background:#96d4b5;text-align:left;"><span>0.71</span></div>
<div class="c n" style="left:781.03px;top:186.51px;width:16.17px;height:11.82px;background:#b1d391;text-align:left;"><span>-0.29</span></div>
<div class="c n" style="left:939.73px;top:186.51px;width:16.17px;height:11.82px;background:#fffdf7;text-align:left;"><span>-4.64</span></div>
<div class="c n" style="left:479.50px;top:198.03px;width:16.17px;height:11.82px;background:#afdec6;text-align:left;"><span>0.54</span></div>
<div class="c n" style="left:638.20px;top:198.03px;width:16.17px;height:11.82px;background:#f4be8e;text-align:left;"><span>0.54</span></div>
<div class="c n" style="left:796.90px;top:198.03px;width:16.17px;height:11.82px;background:#fef4d6;text-align:left;"><span>0.54</span></div>
<div class="c n" style="left:495.37px;top:198.03px;width:16.17px;height:11.82px;background:#96d4b5;text-align:left;"><span>0.71</span></div>
<div class="c n" style="left:654.07px;top:198.03px;width:16.17px;height:11.82px;background:#f1b18c;text-align:left;"><span>0.71</span></div>
<div class="c n" style="left:812.77px;top:198.03px;width:16.17px;height:11.82px;background:#fef0c9;text-align:left;"><span>2.13</span></div>
<div class="c n" style="left:511.24px;top:198.03px;width:16.17px;height:11.82px;background:#8cd0ad;text-align:left;"><span>0.78</span></div>
<div class="c n" style="left:669.94px;top:198.03px;width:16.17px;height:11.82px;background:#f0ab8b;text-align:left;"><span>0.78</span></div>
<div class="c n" style="left:828.64px;top:198.03px;width:16.17px;height:11.82px;background:#feeebf;text-align:left;"><span>3.11</span></div>
<div class="c n" style="left:527.11px;top:198.03px;width:16.17px;height:11.82px;background:#78c89f;text-align:left;"><span>0.91</span></div>
<div class="c n" style="left:685.81px;top:198.03px;width:16.17px;height:11.82px;background:#e6df95;text-align:left;"><span>-0.09</span></div>
<div class="c n" style="left:844.51px;top:198.03px;width:16.17px;height:11.82px;background:#fef6df;text-align:left;"><span>-0.61</span></div>
<div class="c n" style="left:542.98px;top:198.03px;width:16.17px;height:11.82px;background:#71c59b;text-align:left;"><span>0.96</span></div>
<div class="c n" style="left:701.68px;top:198.03px;width:16.17px;height:11.82px;background:#ec9887;text-align:left;"><span>0.96</span></div>
<div class="c n" style="left:860.38px;top:198.03px;width:16.17px;height:11.82px;background:#fcdc81;text-align:left;"><span>8.61</span></div>
<div class="c n" style="left:558.85px;top:198.03px;width:16.17px;height:11.82px;background:#70c499;text-align:left;"><span>0.97</span></div>
<div class="c n" style="left:717.55px;top:198.03px;width:16.17px;height:11.82px;background:#f4e396;text-align:left;"><span>-0.03</span></div>
<div class="c n" style="left:876.25px;top:198.03px;width:16.17px;height:11.82px;background:#fef6dd;text-align:left;"><span>-0.31</span></div>
<div class="c n" style="left:574.72px;top:198.03px;width:16.17px;height:11.82px;background:#6ec498;text-align:left;"><span>0.98</span></div>
<div class="c n" style="left:733.42px;top:198.03px;width:16.17px;height:11.82px;background:#f7e496;text-align:left;"><span>-0.02</span></div>
<div class="c n" style="left:892.12px;top:198.03px;width:16.17px;height:11.82px;background:#fef5dc;text-align:left;"><span>-0.24</span></div>
<div class="c n" style="left:590.59px;top:198.03px;width:16.17px;height:11.82px;background:#6dc397;text-align:left;"><span>0.99</span></div>
<div class="c n" style="left:749.29px;top:198.03px;width:16.17px;height:11.82px;background:#f9e496;text-align:left;"><span>-0.01</span></div>
<div class="c n" style="left:907.99px;top:198.03px;width:16.17px;height:11.82px;background:#fef5dc;text-align:left;"><span>-0.14</span></div>
<div class="c n" style="left:606.46px;top:198.03px;width:16.17px;height:11.82px;background:#6cc397;text-align:left;"><span>0.99</span></div>
<div class="c n" style="left:765.16px;top:198.03px;width:16.17px;height:11.82px;background:#fae596;text-align:left;"><span>-0.01</span></div>
<div class="c n" style="left:923.86px;top:198.03px;width:16.17px;height:11.82px;background:#fef5db;text-align:left;"><span>-0.10</span></div>
<div class="c n" style="left:622.33px;top:198.03px;width:16.17px;height:11.82px;background:#6cc297;text-align:left;"><span>1.00</span></div>
<div class="c n" style="left:781.03px;top:198.03px;width:16.17px;height:11.82px;background:#fbe596;text-align:left;"><span>0.00</span></div>
<div class="c n" style="left:939.73px;top:198.03px;width:16.17px;height:11.82px;background:#fef5db;text-align:left;"><span>-0.06</span></div>
<div class="c n" style="left:479.50px;top:209.55px;width:16.17px;height:11.82px;background:#bbe3cf;text-align:left;"><span>0.46</span></div>
<div class="c n" style="left:638.20px;top:209.55px;width:16.17px;height:11.82px;background:#f5c38f;text-align:left;"><span>0.46</span></div>
<div class="c n" style="left:796.90px;top:209.55px;width:16.17px;height:11.82px;background:#fef4d7;text-align:left;"><span>0.46</span></div>
<div class="c n" style="left:495.37px;top:209.55px;width:16.17px;height:11.82px;background:#b3e0c9;text-align:left;"><span>0.51</span></div>
<div class="c n" style="left:654.07px;top:209.55px;width:16.17px;height:11.82px;background:#f5c08e;text-align:left;"><span>0.51</span></div>
<div class="c n" style="left:812.77px;top:209.55px;width:16.17px;height:11.82px;background:#fef2ce;text-align:left;"><span>1.54</span></div>
<div class="c n" style="left:511.24px;top:209.55px;width:16.17px;height:11.82px;background:#afdec6;text-align:left;"><span>0.54</span></div>
<div class="c n" style="left:669.94px;top:209.55px;width:16.17px;height:11.82px;background:#f4be8e;text-align:left;"><span>0.54</span></div>
<div class="c n" style="left:828.64px;top:209.55px;width:16.17px;height:11.82px;background:#fef0c8;text-align:left;"><span>2.16</span></div>
<div class="c n" style="left:527.11px;top:209.55px;width:16.17px;height:11.82px;background:#a3d9be;text-align:left;"><span>0.62</span></div>
<div class="c n" style="left:685.81px;top:209.55px;width:16.17px;height:11.82px;background:#99ce90;text-align:left;"><span>-0.38</span></div>
<div class="c n" style="left:844.51px;top:209.55px;width:16.17px;height:11.82px;background:#fffaed;text-align:left;"><span>-2.66</span></div>
<div class="c n" style="left:542.98px;top:209.55px;width:16.17px;height:11.82px;background:#9cd6b9;text-align:left;"><span>0.67</span></div>
<div class="c n" style="left:701.68px;top:209.55px;width:16.17px;height:11.82px;background:#f2b58d;text-align:left;"><span>0.67</span></div>
<div class="c n" style="left:860.38px;top:209.55px;width:16.17px;height:11.82px;background:#fde5a1;text-align:left;"><span>6.02</span></div>
<div class="c n" style="left:558.85px;top:209.55px;width:16.17px;height:11.82px;background:#99d5b6;text-align:left;"><span>0.69</span></div>
<div class="c n" style="left:717.55px;top:209.55px;width:16.17px;height:11.82px;background:#acd291;text-align:left;"><span>-0.31</span></div>
<div class="c n" style="left:876.25px;top:209.55px;width:16.17px;height:11.82px;background:#fffbef;text-align:left;"><span>-3.08</span></div>
<div class="c n" style="left:574.72px;top:209.55px;width:16.17px;height:11.82px;background:#95d4b4;text-align:left;"><span>0.71</span></div>
<div class="c n" style="left:733.42px;top:209.55px;width:16.17px;height:11.82px;background:#b2d391;text-align:left;"><span>-0.29</span></div>
<div class="c n" style="left:892.12px;top:209.55px;width:16.17px;height:11.82px;background:#fffbef;text-align:left;"><span>-3.14</span></div>
<div class="c n" style="left:590.59px;top:209.55px;width:16.17px;height:11.82px;background:#8fd1b0;text-align:left;"><span>0.76</span></div>
<div class="c n" style="left:749.29px;top:209.55px;width:16.17px;height:11.82px;background:#bdd692;text-align:left;"><span>-0.24</span></div>
<div class="c n" style="left:907.99px;top:209.55px;width:16.17px;height:11.82px;background:#fffbf0;text-align:left;"><span>-3.17</span></div>
<div class="c n" style="left:606.46px;top:209.55px;width:16.17px;height:11.82px;background:#8cd0ae;text-align:left;"><span>0.78</span></div>
<div class="c n" style="left:765.16px;top:209.55px;width:16.17px;height:11.82px;background:#c2d792;text-align:left;"><span>-0.22</span></div>
<div class="c n" style="left:923.86px;top:209.55px;width:16.17px;height:11.82px;background:#fffbef;text-align:left;"><span>-3.14</span></div>
<div class="c n" style="left:622.33px;top:209.55px;width:16.17px;height:11.82px;background:#87ceaa;text-align:left;"><span>0.81</span></div>
<div class="c n" style="left:781.03px;top:209.55px;width:16.17px;height:11.82px;background:#cbda93;text-align:left;"><span>-0.19</span></div>
<div class="c n" style="left:939.73px;top:209.55px;width:16.17px;height:11.82px;background:#fffbef;text-align:left;"><span>-3.03</span></div>
<div class="c n" style="left:479.50px;top:221.07px;width:16.17px;height:11.82px;background:#b5e1cb;text-align:left;"><span>0.50</span></div>
<div class="c n" style="left:638.20px;top:221.07px;width:16.17px;height:11.82px;background:#f5c18f;text-align:left;"><span>0.50</span></div>
<div class="c n" style="left:796.90px;top:221.07px;width:16.17px;height:11.82px;background:#fef4d7;text-align:left;"><span>0.50</span></div>
<div class="c n" style="left:495.37px;top:221.07px;width:16.17px;height:11.82px;background:#a2d9bd;text-align:left;"><span>0.63</span></div>
<div class="c n" style="left:654.07px;top:221.07px;width:16.17px;height:11.82px;background:#f3b78e;text-align:left;"><span>0.63</span></div>
<div class="c n" style="left:812.77px;top:221.07px;width:16.17px;height:11.82px;background:#fef1cb;text-align:left;"><span>1.89</span></div>
<div class="c n" style="left:511.24px;top:221.07px;width:16.17px;height:11.82px;background:#99d5b7;text-align:left;"><span>0.69</span></div>
<div class="c n" style="left:669.94px;top:221.07px;width:16.17px;height:11.82px;background:#f2b38d;text-align:left;"><span>0.69</span></div>
<div class="c n" style="left:828.64px;top:221.07px;width:16.17px;height:11.82px;background:#feeec3;text-align:left;"><span>2.76</span></div>
<div class="c n" style="left:527.11px;top:221.07px;width:16.17px;height:11.82px;background:#84cca8;text-align:left;"><span>0.83</span></div>
<div class="c n" style="left:685.81px;top:221.07px;width:16.17px;height:11.82px;background:#d0db93;text-align:left;"><span>-0.17</span></div>
<div class="c n" style="left:844.51px;top:221.07px;width:16.17px;height:11.82px;background:#fef7e3;text-align:left;"><span>-1.18</span></div>
<div class="c n" style="left:542.98px;top:221.07px;width:16.17px;height:11.82px;background:#7bc9a1;text-align:left;"><span>0.89</span></div>
<div class="c n" style="left:701.68px;top:221.07px;width:16.17px;height:11.82px;background:#eda089;text-align:left;"><span>0.89</span></div>
<div class="c n" style="left:860.38px;top:221.07px;width:16.17px;height:11.82px;background:#fcde88;text-align:left;"><span>8.05</span></div>
<div class="c n" style="left:558.85px;top:221.07px;width:16.17px;height:11.82px;background:#77c79f;text-align:left;"><span>0.92</span></div>
<div class="c n" style="left:717.55px;top:221.07px;width:16.17px;height:11.82px;background:#e7e095;text-align:left;"><span>-0.08</span></div>
<div class="c n" style="left:876.25px;top:221.07px;width:16.17px;height:11.82px;background:#fef7e1;text-align:left;"><span>-0.83</span></div>
<div class="c n" style="left:574.72px;top:221.07px;width:16.17px;height:11.82px;background:#75c69d;text-align:left;"><span>0.94</span></div>
<div class="c n" style="left:733.42px;top:221.07px;width:16.17px;height:11.82px;background:#ebe195;text-align:left;"><span>-0.06</span></div>
<div class="c n" style="left:892.12px;top:221.07px;width:16.17px;height:11.82px;background:#fef6e0;text-align:left;"><span>-0.71</span></div>
<div class="c n" style="left:590.59px;top:221.07px;width:16.17px;height:11.82px;background:#71c59a;text-align:left;"><span>0.96</span></div>
<div class="c n" style="left:749.29px;top:221.07px;width:16.17px;height:11.82px;background:#f2e295;text-align:left;"><span>-0.04</span></div>
<div class="c n" style="left:907.99px;top:221.07px;width:16.17px;height:11.82px;background:#fef6de;text-align:left;"><span>-0.50</span></div>
<div class="c n" style="left:606.46px;top:221.07px;width:16.17px;height:11.82px;background:#6fc499;text-align:left;"><span>0.97</span></div>
<div class="c n" style="left:765.16px;top:221.07px;width:16.17px;height:11.82px;background:#f5e396;text-align:left;"><span>-0.03</span></div>
<div class="c n" style="left:923.86px;top:221.07px;width:16.17px;height:11.82px;background:#fef6de;text-align:left;"><span>-0.42</span></div>
<div class="c n" style="left:622.33px;top:221.07px;width:16.17px;height:11.82px;background:#6ec398;text-align:left;"><span>0.98</span></div>
<div class="c n" style="left:781.03px;top:221.07px;width:16.17px;height:11.82px;background:#f8e496;text-align:left;"><span>-0.02</span></div>
<div class="c n" style="left:939.73px;top:221.07px;width:16.17px;height:11.82px;background:#fef6dd;text-align:left;"><span>-0.28</span></div>
<div class="c n" style="left:479.50px;top:232.59px;width:16.17px;height:11.82px;background:#bee4d1;text-align:left;"><span>0.44</span></div>
<div class="c n" style="left:638.20px;top:232.59px;width:16.17px;height:11.82px;background:#f6c590;text-align:left;"><span>0.44</span></div>
<div class="c n" style="left:796.90px;top:232.59px;width:16.17px;height:11.82px;background:#fef4d7;text-align:left;"><span>0.44</span></div>
<div class="c n" style="left:495.37px;top:232.59px;width:16.17px;height:11.82px;background:#b8e2cd;text-align:left;"><span>0.48</span></div>
<div class="c n" style="left:654.07px;top:232.59px;width:16.17px;height:11.82px;background:#f5c38f;text-align:left;"><span>0.48</span></div>
<div class="c n" style="left:812.77px;top:232.59px;width:16.17px;height:11.82px;background:#fef2cf;text-align:left;"><span>1.44</span></div>
<div class="c n" style="left:511.24px;top:232.59px;width:16.17px;height:11.82px;background:#b5e1ca;text-align:left;"><span>0.50</span></div>
<div class="c n" style="left:669.94px;top:232.59px;width:16.17px;height:11.82px;background:#f5c18f;text-align:left;"><span>0.50</span></div>
<div class="c n" style="left:828.64px;top:232.59px;width:16.17px;height:11.82px;background:#fef0ca;text-align:left;"><span>2.01</span></div>
<div class="c n" style="left:527.11px;top:232.59px;width:16.17px;height:11.82px;background:#acddc4;text-align:left;"><span>0.56</span></div>
<div class="c n" style="left:685.81px;top:232.59px;width:16.17px;height:11.82px;background:#8bca8f;text-align:left;"><span>-0.44</span></div>
<div class="c n" style="left:844.51px;top:232.59px;width:16.17px;height:11.82px;background:#fffbef;text-align:left;"><span>-3.05</span></div>
<div class="c n" style="left:542.98px;top:232.59px;width:16.17px;height:11.82px;background:#a6dac0;text-align:left;"><span>0.60</span></div>
<div class="c n" style="left:701.68px;top:232.59px;width:16.17px;height:11.82px;background:#f3b98e;text-align:left;"><span>0.60</span></div>
<div class="c n" style="left:860.38px;top:232.59px;width:16.17px;height:11.82px;background:#fde7a7;text-align:left;"><span>5.44</span></div>
<div class="c n" style="left:558.85px;top:232.59px;width:16.17px;height:11.82px;background:#a3d9be;text-align:left;"><span>0.62</span></div>
<div class="c n" style="left:717.55px;top:232.59px;width:16.17px;height:11.82px;background:#9bce90;text-align:left;"><span>-0.38</span></div>
<div class="c n" style="left:876.25px;top:232.59px;width:16.17px;height:11.82px;background:#fffcf3;text-align:left;"><span>-3.76</span></div>
<div class="c n" style="left:574.72px;top:232.59px;width:16.17px;height:11.82px;background:#a0d8bc;text-align:left;"><span>0.64</span></div>
<div class="c n" style="left:733.42px;top:232.59px;width:16.17px;height:11.82px;background:#9fcf90;text-align:left;"><span>-0.36</span></div>
<div class="c n" style="left:892.12px;top:232.59px;width:16.17px;height:11.82px;background:#fffcf3;text-align:left;"><span>-3.93</span></div>
<div class="c n" style="left:590.59px;top:232.59px;width:16.17px;height:11.82px;background:#9ad6b8;text-align:left;"><span>0.68</span></div>
<div class="c n" style="left:749.29px;top:232.59px;width:16.17px;height:11.82px;background:#a9d191;text-align:left;"><span>-0.32</span></div>
<div class="c n" style="left:907.99px;top:232.59px;width:16.17px;height:11.82px;background:#fffcf5;text-align:left;"><span>-4.16</span></div>
<div class="c n" style="left:606.46px;top:232.59px;width:16.17px;height:11.82px;background:#98d5b6;text-align:left;"><span>0.70</span></div>
<div class="c n" style="left:765.16px;top:232.59px;width:16.17px;height:11.82px;background:#add291;text-align:left;"><span>-0.30</span></div>
<div class="c n" style="left:923.86px;top:232.59px;width:16.17px;height:11.82px;background:#fffcf5;text-align:left;"><span>-4.23</span></div>
<div class="c n" style="left:622.33px;top:232.59px;width:16.17px;height:11.82px;background:#93d3b2;text-align:left;"><span>0.73</span></div>
<div class="c n" style="left:781.03px;top:232.59px;width:16.17px;height:11.82px;background:#b6d492;text-align:left;"><span>-0.27</span></div>
<div class="c n" style="left:939.73px;top:232.59px;width:16.17px;height:11.82px;background:#fffcf5;text-align:left;"><span>-4.30</span></div>
<div class="c n" style="left:479.50px;top:244.11px;width:16.17px;height:11.82px;background:#b3e0c9;text-align:left;"><span>0.51</span></div>
<div class="c n" style="left:638.20px;top:244.11px;width:16.17px;height:11.82px;background:#f5c08f;text-align:left;"><span>0.51</span></div>
<div class="c n" style="left:796.90px;top:244.11px;width:16.17px;height:11.82px;background:#fef4d7;text-align:left;"><span>0.51</span></div>
<div class="c n" style="left:495.37px;top:244.11px;width:16.17px;height:11.82px;background:#9ad5b7;text-align:left;"><span>0.68</span></div>
<div class="c n" style="left:654.07px;top:244.11px;width:16.17px;height:11.82px;background:#f2b38d;text-align:left;"><span>0.68</span></div>
<div class="c n" style="left:812.77px;top:244.11px;width:16.17px;height:11.82px;background:#fef0c9;text-align:left;"><span>2.05</span></div>
<div class="c n" style="left:511.24px;top:244.11px;width:16.17px;height:11.82px;background:#8fd1b0;text-align:left;"><span>0.76</span></div>
<div class="c n" style="left:669.94px;top:244.11px;width:16.17px;height:11.82px;background:#f0ad8c;text-align:left;"><span>0.76</span></div>
<div class="c n" style="left:828.64px;top:244.11px;width:16.17px;height:11.82px;background:#feeec0;text-align:left;"><span>3.03</span></div>
<div class="c n" style="left:527.11px;top:244.11px;width:16.17px;height:11.82px;background:#79c8a0;text-align:left;"><span>0.90</span></div>
<div class="c n" style="left:685.81px;top:244.11px;width:16.17px;height:11.82px;background:#e3df94;text-align:left;"><span>-0.10</span></div>
<div class="c n" style="left:844.51px;top:244.11px;width:16.17px;height:11.82px;background:#fef6e0;text-align:left;"><span>-0.68</span></div>
<div class="c n" style="left:542.98px;top:244.11px;width:16.17px;height:11.82px;background:#72c59b;text-align:left;"><span>0.95</span></div>
<div class="c n" style="left:701.68px;top:244.11px;width:16.17px;height:11.82px;background:#ec9988;text-align:left;"><span>0.95</span></div>
<div class="c n" style="left:860.38px;top:244.11px;width:16.17px;height:11.82px;background:#fcdd82;text-align:left;"><span>8.56</span></div>
<div class="c n" style="left:558.85px;top:244.11px;width:16.17px;height:11.82px;background:#70c49a;text-align:left;"><span>0.97</span></div>
<div class="c n" style="left:717.55px;top:244.11px;width:16.17px;height:11.82px;background:#f3e395;text-align:left;"><span>-0.03</span></div>
<div class="c n" style="left:876.25px;top:244.11px;width:16.17px;height:11.82px;background:#fef6dd;text-align:left;"><span>-0.35</span></div>
<div class="c n" style="left:574.72px;top:244.11px;width:16.17px;height:11.82px;background:#6fc499;text-align:left;"><span>0.98</span></div>
<div class="c n" style="left:733.42px;top:244.11px;width:16.17px;height:11.82px;background:#f6e396;text-align:left;"><span>-0.02</span></div>
<div class="c n" style="left:892.12px;top:244.11px;width:16.17px;height:11.82px;background:#fef6dd;text-align:left;"><span>-0.27</span></div>
<div class="c n" style="left:590.59px;top:244.11px;width:16.17px;height:11.82px;background:#6dc397;text-align:left;"><span>0.99</span></div>
<div class="c n" style="left:749.29px;top:244.11px;width:16.17px;height:11.82px;background:#f9e496;text-align:left;"><span>-0.01</span></div>
<div class="c n" style="left:907.99px;top:244.11px;width:16.17px;height:11.82px;background:#fef5dc;text-align:left;"><span>-0.15</span></div>
<div class="c n" style="left:606.46px;top:244.11px;width:16.17px;height:11.82px;background:#6cc397;text-align:left;"><span>0.99</span></div>
<div class="c n" style="left:765.16px;top:244.11px;width:16.17px;height:11.82px;background:#fae496;text-align:left;"><span>-0.01</span></div>
<div class="c n" style="left:923.86px;top:244.11px;width:16.17px;height:11.82px;background:#fef5dc;text-align:left;"><span>-0.12</span></div>
<div class="c n" style="left:622.33px;top:244.11px;width:16.17px;height:11.82px;background:#6cc297;text-align:left;"><span>1.00</span></div>
<div class="c n" style="left:781.03px;top:244.11px;width:16.17px;height:11.82px;background:#fbe596;text-align:left;"><span>0.00</span></div>
<div class="c n" style="left:939.73px;top:244.11px;width:16.17px;height:11.82px;background:#fef5db;text-align:left;"><span>-0.06</span></div>
<div class="c n" style="left:479.50px;top:255.63px;width:16.17px;height:11.82px;background:#bfe5d1;text-align:left;"><span>0.43</span></div>
<div class="c n" style="left:638.20px;top:255.63px;width:16.17px;height:11.82px;background:#f6c590;text-align:left;"><span>0.43</span></div>
<div class="c n" style="left:796.90px;top:255.63px;width:16.17px;height:11.82px;background:#fef4d7;text-align:left;"><span>0.43</span></div>
<div class="c n" style="left:495.37px;top:255.63px;width:16.17px;height:11.82px;background:#b6e1cb;text-align:left;"><span>0.49</span></div>
<div class="c n" style="left:654.07px;top:255.63px;width:16.17px;height:11.82px;background:#f5c28f;text-align:left;"><span>0.49</span></div>
<div class="c n" style="left:812.77px;top:255.63px;width:16.17px;height:11.82px;background:#fef2cf;text-align:left;"><span>1.47</span></div>
<div class="c n" style="left:511.24px;top:255.63px;width:16.17px;height:11.82px;background:#b2dfc8;text-align:left;"><span>0.52</span></div>
<div class="c n" style="left:669.94px;top:255.63px;width:16.17px;height:11.82px;background:#f4c08e;text-align:left;"><span>0.52</span></div>
<div class="c n" style="left:828.64px;top:255.63px;width:16.17px;height:11.82px;background:#fef0c9;text-align:left;"><span>2.08</span></div>
<div class="c n" style="left:527.11px;top:255.63px;width:16.17px;height:11.82px;background:#a6dac0;text-align:left;"><span>0.60</span></div>
<div class="c n" style="left:685.81px;top:255.63px;width:16.17px;height:11.82px;background:#95cd90;text-align:left;"><span>-0.40</span></div>
<div class="c n" style="left:844.51px;top:255.63px;width:16.17px;height:11.82px;background:#fffaed;text-align:left;"><span>-2.77</span></div>
<div class="c n" style="left:542.98px;top:255.63px;width:16.17px;height:11.82px;background:#9ed7ba;text-align:left;"><span>0.66</span></div>
<div class="c n" style="left:701.68px;top:255.63px;width:16.17px;height:11.82px;background:#f2b68d;text-align:left;"><span>0.66</span></div>
<div class="c n" style="left:860.38px;top:255.63px;width:16.17px;height:11.82px;background:#fde5a2;text-align:left;"><span>5.92</span></div>
<div class="c n" style="left:558.85px;top:255.63px;width:16.17px;height:11.82px;background:#9ad5b7;text-align:left;"><span>0.68</span></div>
<div class="c n" style="left:717.55px;top:255.63px;width:16.17px;height:11.82px;background:#a9d191;text-align:left;"><span>-0.32</span></div>
<div class="c n" style="left:876.25px;top:255.63px;width:16.17px;height:11.82px;background:#fffbf0;text-align:left;"><span>-3.17</span></div>
<div class="c n" style="left:574.72px;top:255.63px;width:16.17px;height:11.82px;background:#96d4b5;text-align:left;"><span>0.71</span></div>
<div class="c n" style="left:733.42px;top:255.63px;width:16.17px;height:11.82px;background:#b0d391;text-align:left;"><span>-0.29</span></div>
<div class="c n" style="left:892.12px;top:255.63px;width:16.17px;height:11.82px;background:#fffbf0;text-align:left;"><span>-3.22</span></div>
<div class="c n" style="left:590.59px;top:255.63px;width:16.17px;height:11.82px;background:#90d1b0;text-align:left;"><span>0.75</span></div>
<div class="c n" style="left:749.29px;top:255.63px;width:16.17px;height:11.82px;background:#bcd692;text-align:left;"><span>-0.25</span></div>
<div class="c n" style="left:907.99px;top:255.63px;width:16.17px;height:11.82px;background:#fffbf0;text-align:left;"><span>-3.22</span></div>
<div class="c n" style="left:606.46px;top:255.63px;width:16.17px;height:11.82px;background:#8dd0ae;text-align:left;"><span>0.77</span></div>
<div class="c n" style="left:765.16px;top:255.63px;width:16.17px;height:11.82px;background:#c1d792;text-align:left;"><span>-0.23</span></div>
<div class="c n" style="left:923.86px;top:255.63px;width:16.17px;height:11.82px;background:#fffbf0;text-align:left;"><span>-3.18</span></div>
<div class="c n" style="left:622.33px;top:255.63px;width:16.17px;height:11.82px;background:#87ceaa;text-align:left;"><span>0.81</span></div>
<div class="c n" style="left:781.03px;top:255.63px;width:16.17px;height:11.82px;background:#cbda93;text-align:left;"><span>-0.19</span></div>
<div class="c n" style="left:939.73px;top:255.63px;width:16.17px;height:11.82px;background:#fffbef;text-align:left;"><span>-3.03</span></div>
<div class="c n" style="left:479.50px;top:267.15px;width:16.17px;height:11.82px;background:#b9e2cd;text-align:left;"><span>0.48</span></div>
<div class="c n" style="left:638.20px;top:267.15px;width:16.17px;height:11.82px;background:#f5c38f;text-align:left;"><span>0.48</span></div>
<div class="c n" style="left:796.90px;top:267.15px;width:16.17px;height:11.82px;background:#fef4d7;text-align:left;"><span>0.48</span></div>
<div class="c n" style="left:495.37px;top:267.15px;width:16.17px;height:11.82px;background:#a4dabe;text-align:left;"><span>0.62</span></div>
<div class="c n" style="left:654.07px;top:267.15px;width:16.17px;height:11.82px;background:#f3b88e;text-align:left;"><span>0.62</span></div>
<div class="c n" style="left:812.77px;top:267.15px;width:16.17px;height:11.82px;background:#fef1cb;text-align:left;"><span>1.85</span></div>
<div class="c n" style="left:511.24px;top:267.15px;width:16.17px;height:11.82px;background:#9ad6b7;text-align:left;"><span>0.68</span></div>
<div class="c n" style="left:669.94px;top:267.15px;width:16.17px;height:11.82px;background:#f2b48d;text-align:left;"><span>0.68</span></div>
<div class="c n" style="left:828.64px;top:267.15px;width:16.17px;height:11.82px;background:#feefc3;text-align:left;"><span>2.73</span></div>
<div class="c n" style="left:527.11px;top:267.15px;width:16.17px;height:11.82px;background:#83cca7;text-align:left;"><span>0.84</span></div>
<div class="c n" style="left:685.81px;top:267.15px;width:16.17px;height:11.82px;background:#d1db93;text-align:left;"><span>-0.16</span></div>
<div class="c n" style="left:844.51px;top:267.15px;width:16.17px;height:11.82px;background:#fef7e3;text-align:left;"><span>-1.15</span></div>
<div class="c n" style="left:542.98px;top:267.15px;width:16.17px;height:11.82px;background:#7ac8a1;text-align:left;"><span>0.90</span></div>
<div class="c n" style="left:701.68px;top:267.15px;width:16.17px;height:11.82px;background:#ed9f89;text-align:left;"><span>0.90</span></div>
<div class="c n" style="left:860.38px;top:267.15px;width:16.17px;height:11.82px;background:#fcde87;text-align:left;"><span>8.11</span></div>
<div class="c n" style="left:558.85px;top:267.15px;width:16.17px;height:11.82px;background:#76c79e;text-align:left;"><span>0.92</span></div>
<div class="c n" style="left:717.55px;top:267.15px;width:16.17px;height:11.82px;background:#e9e095;text-align:left;"><span>-0.08</span></div>
<div class="c n" style="left:876.25px;top:267.15px;width:16.17px;height:11.82px;background:#fef7e0;text-align:left;"><span>-0.76</span></div>
<div class="c n" style="left:574.72px;top:267.15px;width:16.17px;height:11.82px;background:#74c69c;text-align:left;"><span>0.94</span></div>
<div class="c n" style="left:733.42px;top:267.15px;width:16.17px;height:11.82px;background:#ede195;text-align:left;"><span>-0.06</span></div>
<div class="c n" style="left:892.12px;top:267.15px;width:16.17px;height:11.82px;background:#fef6df;text-align:left;"><span>-0.64</span></div>
<div class="c n" style="left:590.59px;top:267.15px;width:16.17px;height:11.82px;background:#70c49a;text-align:left;"><span>0.97</span></div>
<div class="c n" style="left:749.29px;top:267.15px;width:16.17px;height:11.82px;background:#f4e395;text-align:left;"><span>-0.03</span></div>
<div class="c n" style="left:907.99px;top:267.15px;width:16.17px;height:11.82px;background:#fef6de;text-align:left;"><span>-0.44</span></div>
<div class="c n" style="left:606.46px;top:267.15px;width:16.17px;height:11.82px;background:#6fc499;text-align:left;"><span>0.97</span></div>
<div class="c n" style="left:765.16px;top:267.15px;width:16.17px;height:11.82px;background:#f6e396;text-align:left;"><span>-0.03</span></div>
<div class="c n" style="left:923.86px;top:267.15px;width:16.17px;height:11.82px;background:#fef6dd;text-align:left;"><span>-0.36</span></div>
<div class="c n" style="left:622.33px;top:267.15px;width:16.17px;height:11.82px;background:#6dc398;text-align:left;"><span>0.99</span></div>
<div class="c n" style="left:781.03px;top:267.15px;width:16.17px;height:11.82px;background:#f8e496;text-align:left;"><span>-0.01</span></div>
<div class="c n" style="left:939.73px;top:267.15px;width:16.17px;height:11.82px;background:#fef5dc;text-align:left;"><span>-0.23</span></div>
<div class="c n" style="left:479.50px;top:278.67px;width:16.17px;height:11.82px;background:#c1e6d3;text-align:left;"><span>0.42</span></div>
<div class="c n" style="left:638.20px;top:278.67px;width:16.17px;height:11.82px;background:#f6c790;text-align:left;"><span>0.42</span></div>
<div class="c n" style="left:796.90px;top:278.67px;width:16.17px;height:11.82px;background:#fef4d7;text-align:left;"><span>0.42</span></div>
<div class="c n" style="left:495.37px;top:278.67px;width:16.17px;height:11.82px;background:#bae3ce;text-align:left;"><span>0.46</span></div>
<div class="c n" style="left:654.07px;top:278.67px;width:16.17px;height:11.82px;background:#f5c38f;text-align:left;"><span>0.46</span></div>
<div class="c n" style="left:812.77px;top:278.67px;width:16.17px;height:11.82px;background:#fef2cf;text-align:left;"><span>1.39</span></div>
<div class="c n" style="left:511.24px;top:278.67px;width:16.17px;height:11.82px;background:#b7e1cc;text-align:left;"><span>0.49</span></div>
<div class="c n" style="left:669.94px;top:278.67px;width:16.17px;height:11.82px;background:#f5c28f;text-align:left;"><span>0.49</span></div>
<div class="c n" style="left:828.64px;top:278.67px;width:16.17px;height:11.82px;background:#fef1ca;text-align:left;"><span>1.95</span></div>
<div class="c n" style="left:527.11px;top:278.67px;width:16.17px;height:11.82px;background:#acddc4;text-align:left;"><span>0.56</span></div>
<div class="c n" style="left:685.81px;top:278.67px;width:16.17px;height:11.82px;background:#8aca8f;text-align:left;"><span>-0.44</span></div>
<div class="c n" style="left:844.51px;top:278.67px;width:16.17px;height:11.82px;background:#fffbef;text-align:left;"><span>-3.08</span></div>
<div class="c n" style="left:542.98px;top:278.67px;width:16.17px;height:11.82px;background:#a5dabf;text-align:left;"><span>0.61</span></div>
<div class="c n" style="left:701.68px;top:278.67px;width:16.17px;height:11.82px;background:#f3b98e;text-align:left;"><span>0.61</span></div>
<div class="c n" style="left:860.38px;top:278.67px;width:16.17px;height:11.82px;background:#fde7a7;text-align:left;"><span>5.46</span></div>
<div class="c n" style="left:558.85px;top:278.67px;width:16.17px;height:11.82px;background:#a2d9bd;text-align:left;"><span>0.63</span></div>
<div class="c n" style="left:717.55px;top:278.67px;width:16.17px;height:11.82px;background:#9bcf90;text-align:left;"><span>-0.37</span></div>
<div class="c n" style="left:876.25px;top:278.67px;width:16.17px;height:11.82px;background:#fffcf2;text-align:left;"><span>-3.71</span></div>
<div class="c n" style="left:574.72px;top:278.67px;width:16.17px;height:11.82px;background:#9fd7bb;text-align:left;"><span>0.65</span></div>
<div class="c n" style="left:733.42px;top:278.67px;width:16.17px;height:11.82px;background:#a1d090;text-align:left;"><span>-0.35</span></div>
<div class="c n" style="left:892.12px;top:278.67px;width:16.17px;height:11.82px;background:#fffcf3;text-align:left;"><span>-3.83</span></div>
<div class="c n" style="left:590.59px;top:278.67px;width:16.17px;height:11.82px;background:#98d5b6;text-align:left;"><span>0.69</span></div>
<div class="c n" style="left:749.29px;top:278.67px;width:16.17px;height:11.82px;background:#acd291;text-align:left;"><span>-0.31</span></div>
<div class="c n" style="left:907.99px;top:278.67px;width:16.17px;height:11.82px;background:#fffcf4;text-align:left;"><span>-3.98</span></div>
<div class="c n" style="left:606.46px;top:278.67px;width:16.17px;height:11.82px;background:#95d4b4;text-align:left;"><span>0.71</span></div>
<div class="c n" style="left:765.16px;top:278.67px;width:16.17px;height:11.82px;background:#b2d391;text-align:left;"><span>-0.29</span></div>
<div class="c n" style="left:923.86px;top:278.67px;width:16.17px;height:11.82px;background:#fffcf4;text-align:left;"><span>-4.00</span></div>
<div class="c n" style="left:622.33px;top:278.67px;width:16.17px;height:11.82px;background:#90d1b0;text-align:left;"><span>0.75</span></div>
<div class="c n" style="left:781.03px;top:278.67px;width:16.17px;height:11.82px;background:#bbd692;text-align:left;"><span>-0.25</span></div>
<div class="c n" style="left:939.73px;top:278.67px;width:16.17px;height:11.82px;background:#fffcf4;text-align:left;"><span>-3.97</span></div>
<div class="c n" style="left:479.50px;top:290.19px;width:16.17px;height:11.82px;background:#b8e2cc;text-align:left;"><span>0.48</span></div>
<div class="c n" style="left:638.20px;top:290.19px;width:16.17px;height:11.82px;background:#f5c38f;text-align:left;"><span>0.48</span></div>
<div class="c n" style="left:796.90px;top:290.19px;width:16.17px;height:11.82px;background:#fef4d7;text-align:left;"><span>0.48</span></div>
<div class="c n" style="left:495.37px;top:290.19px;width:16.17px;height:11.82px;background:#9ed7ba;text-align:left;"><span>0.66</span></div>
<div class="c n" style="left:654.07px;top:290.19px;width:16.17px;height:11.82px;background:#f2b68d;text-align:left;"><span>0.66</span></div>
<div class="c n" style="left:812.77px;top:290.19px;width:16.17px;height:11.82px;background:#fef0ca;text-align:left;"><span>1.98</span></div>
<div class="c n" style="left:511.24px;top:290.19px;width:16.17px;height:11.82px;background:#92d2b2;text-align:left;"><span>0.74</span></div>
<div class="c n" style="left:669.94px;top:290.19px;width:16.17px;height:11.82px;background:#f1af8c;text-align:left;"><span>0.74</span></div>
<div class="c n" style="left:828.64px;top:290.19px;width:16.17px;height:11.82px;background:#feeec1;text-align:left;"><span>2.94</span></div>
<div class="c n" style="left:527.11px;top:290.19px;width:16.17px;height:11.82px;background:#7bc9a1;text-align:left;"><span>0.89</span></div>
<div class="c n" style="left:685.81px;top:290.19px;width:16.17px;height:11.82px;background:#e0de94;text-align:left;"><span>-0.11</span></div>
<div class="c n" style="left:844.51px;top:290.19px;width:16.17px;height:11.82px;background:#fef7e0;text-align:left;"><span>-0.76</span></div>
<div class="c n" style="left:542.98px;top:290.19px;width:16.17px;height:11.82px;background:#73c69c;text-align:left;"><span>0.94</span></div>
<div class="c n" style="left:701.68px;top:290.19px;width:16.17px;height:11.82px;background:#ec9a88;text-align:left;"><span>0.94</span></div>
<div class="c n" style="left:860.38px;top:290.19px;width:16.17px;height:11.82px;background:#fcdd82;text-align:left;"><span>8.50</span></div>
<div class="c n" style="left:558.85px;top:290.19px;width:16.17px;height:11.82px;background:#71c59a;text-align:left;"><span>0.96</span></div>
<div class="c n" style="left:717.55px;top:290.19px;width:16.17px;height:11.82px;background:#f2e295;text-align:left;"><span>-0.04</span></div>
<div class="c n" style="left:876.25px;top:290.19px;width:16.17px;height:11.82px;background:#fef6de;text-align:left;"><span>-0.39</span></div>
<div class="c n" style="left:574.72px;top:290.19px;width:16.17px;height:11.82px;background:#6fc499;text-align:left;"><span>0.97</span></div>
<div class="c n" style="left:733.42px;top:290.19px;width:16.17px;height:11.82px;background:#f5e396;text-align:left;"><span>-0.03</span></div>
<div class="c n" style="left:892.12px;top:290.19px;width:16.17px;height:11.82px;background:#fef6dd;text-align:left;"><span>-0.30</span></div>
<div class="c n" style="left:590.59px;top:290.19px;width:16.17px;height:11.82px;background:#6dc398;text-align:left;"><span>0.99</span></div>
<div class="c n" style="left:749.29px;top:290.19px;width:16.17px;height:11.82px;background:#f8e496;text-align:left;"><span>-0.01</span></div>
<div class="c n" style="left:907.99px;top:290.19px;width:16.17px;height:11.82px;background:#fef5dc;text-align:left;"><span>-0.18</span></div>
<div class="c n" style="left:606.46px;top:290.19px;width:16.17px;height:11.82px;background:#6cc397;text-align:left;"><span>0.99</span></div>
<div class="c n" style="left:765.16px;top:290.19px;width:16.17px;height:11.82px;background:#f9e496;text-align:left;"><span>-0.01</span></div>
<div class="c n" style="left:923.86px;top:290.19px;width:16.17px;height:11.82px;background:#fef5dc;text-align:left;"><span>-0.13</span></div>
<div class="c n" style="left:622.33px;top:290.19px;width:16.17px;height:11.82px;background:#6cc397;text-align:left;"><span>1.00</span></div>
<div class="c n" style="left:781.03px;top:290.19px;width:16.17px;height:11.82px;background:#fbe596;text-align:left;"><span>0.00</span></div>
<div class="c n" style="left:939.73px;top:290.19px;width:16.17px;height:11.82px;background:#fef5db;text-align:left;"><span>-0.07</span></div>
<div class="c n" style="left:479.50px;top:301.71px;width:16.17px;height:11.82px;background:#c2e6d4;text-align:left;"><span>0.41</span></div>
<div class="c n" style="left:638.20px;top:301.71px;width:16.17px;height:11.82px;background:#f6c790;text-align:left;"><span>0.41</span></div>
<div class="c n" style="left:796.90px;top:301.71px;width:16.17px;height:11.82px;background:#fef4d7;text-align:left;"><span>0.41</span></div>
<div class="c n" style="left:495.37px;top:301.71px;width:16.17px;height:11.82px;background:#b9e2ce;text-align:left;"><span>0.47</span></div>
<div class="c n" style="left:654.07px;top:301.71px;width:16.17px;height:11.82px;background:#f5c38f;text-align:left;"><span>0.47</span></div>
<div class="c n" style="left:812.77px;top:301.71px;width:16.17px;height:11.82px;background:#fef2cf;text-align:left;"><span>1.41</span></div>
<div class="c n" style="left:511.24px;top:301.71px;width:16.17px;height:11.82px;background:#b5e1ca;text-align:left;"><span>0.50</span></div>
<div class="c n" style="left:669.94px;top:301.71px;width:16.17px;height:11.82px;background:#f5c18f;text-align:left;"><span>0.50</span></div>
<div class="c n" style="left:828.64px;top:301.71px;width:16.17px;height:11.82px;background:#fef0ca;text-align:left;"><span>2.00</span></div>
<div class="c n" style="left:527.11px;top:301.71px;width:16.17px;height:11.82px;background:#a8dbc1;text-align:left;"><span>0.59</span></div>
<div class="c n" style="left:685.81px;top:301.71px;width:16.17px;height:11.82px;background:#92cc8f;text-align:left;"><span>-0.41</span></div>
<div class="c n" style="left:844.51px;top:301.71px;width:16.17px;height:11.82px;background:#fffaee;text-align:left;"><span>-2.86</span></div>
<div class="c n" style="left:542.98px;top:301.71px;width:16.17px;height:11.82px;background:#9fd8bb;text-align:left;"><span>0.65</span></div>
<div class="c n" style="left:701.68px;top:301.71px;width:16.17px;height:11.82px;background:#f2b68d;text-align:left;"><span>0.65</span></div>
<div class="c n" style="left:860.38px;top:301.71px;width:16.17px;height:11.82px;background:#fde6a3;text-align:left;"><span>5.84</span></div>
<div class="c n" style="left:558.85px;top:301.71px;width:16.17px;height:11.82px;background:#9bd6b8;text-align:left;"><span>0.68</span></div>
<div class="c n" style="left:717.55px;top:301.71px;width:16.17px;height:11.82px;background:#a8d191;text-align:left;"><span>-0.32</span></div>
<div class="c n" style="left:876.25px;top:301.71px;width:16.17px;height:11.82px;background:#fffbf0;text-align:left;"><span>-3.24</span></div>
<div class="c n" style="left:574.72px;top:301.71px;width:16.17px;height:11.82px;background:#97d4b5;text-align:left;"><span>0.70</span></div>
<div class="c n" style="left:733.42px;top:301.71px;width:16.17px;height:11.82px;background:#afd291;text-align:left;"><span>-0.30</span></div>
<div class="c n" style="left:892.12px;top:301.71px;width:16.17px;height:11.82px;background:#fffbf0;text-align:left;"><span>-3.28</span></div>
<div class="c n" style="left:590.59px;top:301.71px;width:16.17px;height:11.82px;background:#90d1b0;text-align:left;"><span>0.75</span></div>
<div class="c n" style="left:749.29px;top:301.71px;width:16.17px;height:11.82px;background:#bbd692;text-align:left;"><span>-0.25</span></div>
<div class="c n" style="left:907.99px;top:301.71px;width:16.17px;height:11.82px;background:#fffbf0;text-align:left;"><span>-3.25</span></div>
<div class="c n" style="left:606.46px;top:301.71px;width:16.17px;height:11.82px;background:#8dd0ae;text-align:left;"><span>0.77</span></div>
<div class="c n" style="left:765.16px;top:301.71px;width:16.17px;height:11.82px;background:#c1d792;text-align:left;"><span>-0.23</span></div>
<div class="c n" style="left:923.86px;top:301.71px;width:16.17px;height:11.82px;background:#fffbf0;text-align:left;"><span>-3.19</span></div>
<div class="c n" style="left:622.33px;top:301.71px;width:16.17px;height:11.82px;background:#87ceaa;text-align:left;"><span>0.81</span></div>
<div class="c n" style="left:781.03px;top:301.71px;width:16.17px;height:11.82px;background:#cbda93;text-align:left;"><span>-0.19</span></div>
<div class="c n" style="left:939.73px;top:301.71px;width:16.17px;height:11.82px;background:#fffbef;text-align:left;"><span>-3.00</span></div>
<div class="c n" style="left:479.50px;top:313.23px;width:16.17px;height:11.82px;background:#bce3cf;text-align:left;"><span>0.45</span></div>
<div class="c n" style="left:638.20px;top:313.23px;width:16.17px;height:11.82px;background:#f6c48f;text-align:left;"><span>0.45</span></div>
<div class="c n" style="left:796.90px;top:313.23px;width:16.17px;height:11.82px;background:#fef4d7;text-align:left;"><span>0.45</span></div>
<div class="c n" style="left:495.37px;top:313.23px;width:16.17px;height:11.82px;background:#a6dac0;text-align:left;"><span>0.60</span></div>
<div class="c n" style="left:654.07px;top:313.23px;width:16.17px;height:11.82px;background:#f3b98e;text-align:left;"><span>0.60</span></div>
<div class="c n" style="left:812.77px;top:313.23px;width:16.17px;height:11.82px;background:#fef1cc;text-align:left;"><span>1.81</span></div>
<div class="c n" style="left:511.24px;top:313.23px;width:16.17px;height:11.82px;background:#9bd6b8;text-align:left;"><span>0.67</span></div>
<div class="c n" style="left:669.94px;top:313.23px;width:16.17px;height:11.82px;background:#f2b48d;text-align:left;"><span>0.67</span></div>
<div class="c n" style="left:828.64px;top:313.23px;width:16.17px;height:11.82px;background:#feefc3;text-align:left;"><span>2.70</span></div>
<div class="c n" style="left:527.11px;top:313.23px;width:16.17px;height:11.82px;background:#83cca7;text-align:left;"><span>0.84</span></div>
<div class="c n" style="left:685.81px;top:313.23px;width:16.17px;height:11.82px;background:#d2db93;text-align:left;"><span>-0.16</span></div>
<div class="c n" style="left:844.51px;top:313.23px;width:16.17px;height:11.82px;background:#fef7e3;text-align:left;"><span>-1.13</span></div>
<div class="c n" style="left:542.98px;top:313.23px;width:16.17px;height:11.82px;background:#79c8a0;text-align:left;"><span>0.91</span></div>
<div class="c n" style="left:701.68px;top:313.23px;width:16.17px;height:11.82px;background:#ed9e89;text-align:left;"><span>0.91</span></div>
<div class="c n" style="left:860.38px;top:313.23px;width:16.17px;height:11.82px;background:#fcde87;text-align:left;"><span>8.15</span></div>
<div class="c n" style="left:558.85px;top:313.23px;width:16.17px;height:11.82px;background:#76c79e;text-align:left;"><span>0.93</span></div>
<div class="c n" style="left:717.55px;top:313.23px;width:16.17px;height:11.82px;background:#eae095;text-align:left;"><span>-0.07</span></div>
<div class="c n" style="left:876.25px;top:313.23px;width:16.17px;height:11.82px;background:#fef6e0;text-align:left;"><span>-0.72</span></div>
<div class="c n" style="left:574.72px;top:313.23px;width:16.17px;height:11.82px;background:#73c69c;text-align:left;"><span>0.95</span></div>
<div class="c n" style="left:733.42px;top:313.23px;width:16.17px;height:11.82px;background:#eee195;text-align:left;"><span>-0.05</span></div>
<div class="c n" style="left:892.12px;top:313.23px;width:16.17px;height:11.82px;background:#fef6df;text-align:left;"><span>-0.59</span></div>
<div class="c n" style="left:590.59px;top:313.23px;width:16.17px;height:11.82px;background:#6fc499;text-align:left;"><span>0.97</span></div>
<div class="c n" style="left:749.29px;top:313.23px;width:16.17px;height:11.82px;background:#f5e396;text-align:left;"><span>-0.03</span></div>
<div class="c n" style="left:907.99px;top:313.23px;width:16.17px;height:11.82px;background:#fef6de;text-align:left;"><span>-0.39</span></div>
<div class="c n" style="left:606.46px;top:313.23px;width:16.17px;height:11.82px;background:#6ec498;text-align:left;"><span>0.98</span></div>
<div class="c n" style="left:765.16px;top:313.23px;width:16.17px;height:11.82px;background:#f7e496;text-align:left;"><span>-0.02</span></div>
<div class="c n" style="left:923.86px;top:313.23px;width:16.17px;height:11.82px;background:#fef6dd;text-align:left;"><span>-0.31</span></div>
<div class="c n" style="left:622.33px;top:313.23px;width:16.17px;height:11.82px;background:#6dc397;text-align:left;"><span>0.99</span></div>
<div class="c n" style="left:781.03px;top:313.23px;width:16.17px;height:11.82px;background:#f9e496;text-align:left;"><span>-0.01</span></div>
<div class="c n" style="left:939.73px;top:313.23px;width:16.17px;height:11.82px;background:#fef5dc;text-align:left;"><span>-0.20</span></div>
<div class="c n" style="left:479.50px;top:324.75px;width:16.17px;height:11.82px;background:#c5e7d6;text-align:left;"><span>0.39</span></div>
<div class="c n" style="left:638.20px;top:324.75px;width:16.17px;height:11.82px;background:#f7c890;text-align:left;"><span>0.39</span></div>
<div class="c n" style="left:796.90px;top:324.75px;width:16.17px;height:11.82px;background:#fef4d8;text-align:left;"><span>0.39</span></div>
<div class="c n" style="left:495.37px;top:324.75px;width:16.17px;height:11.82px;background:#bde4d0;text-align:left;"><span>0.45</span></div>
<div class="c n" style="left:654.07px;top:324.75px;width:16.17px;height:11.82px;background:#f6c48f;text-align:left;"><span>0.45</span></div>
<div class="c n" style="left:812.77px;top:324.75px;width:16.17px;height:11.82px;background:#fef2d0;text-align:left;"><span>1.34</span></div>
<div class="c n" style="left:511.24px;top:324.75px;width:16.17px;height:11.82px;background:#b9e2cd;text-align:left;"><span>0.48</span></div>
<div class="c n" style="left:669.94px;top:324.75px;width:16.17px;height:11.82px;background:#f5c38f;text-align:left;"><span>0.48</span></div>
<div class="c n" style="left:828.64px;top:324.75px;width:16.17px;height:11.82px;background:#fef1cb;text-align:left;"><span>1.90</span></div>
<div class="c n" style="left:527.11px;top:324.75px;width:16.17px;height:11.82px;background:#acddc5;text-align:left;"><span>0.56</span></div>
<div class="c n" style="left:685.81px;top:324.75px;width:16.17px;height:11.82px;background:#89ca8f;text-align:left;"><span>-0.44</span></div>
<div class="c n" style="left:844.51px;top:324.75px;width:16.17px;height:11.82px;background:#fffbef;text-align:left;"><span>-3.10</span></div>
<div class="c n" style="left:542.98px;top:324.75px;width:16.17px;height:11.82px;background:#a5dabf;text-align:left;"><span>0.61</span></div>
<div class="c n" style="left:701.68px;top:324.75px;width:16.17px;height:11.82px;background:#f3b88e;text-align:left;"><span>0.61</span></div>
<div class="c n" style="left:860.38px;top:324.75px;width:16.17px;height:11.82px;background:#fde7a7;text-align:left;"><span>5.50</span></div>
<div class="c n" style="left:558.85px;top:324.75px;width:16.17px;height:11.82px;background:#a1d8bc;text-align:left;"><span>0.64</span></div>
<div class="c n" style="left:717.55px;top:324.75px;width:16.17px;height:11.82px;background:#9dcf90;text-align:left;"><span>-0.36</span></div>
<div class="c n" style="left:876.25px;top:324.75px;width:16.17px;height:11.82px;background:#fffbf2;text-align:left;"><span>-3.63</span></div>
<div class="c n" style="left:574.72px;top:324.75px;width:16.17px;height:11.82px;background:#9dd7ba;text-align:left;"><span>0.66</span></div>
<div class="c n" style="left:733.42px;top:324.75px;width:16.17px;height:11.82px;background:#a4d091;text-align:left;"><span>-0.34</span></div>
<div class="c n" style="left:892.12px;top:324.75px;width:16.17px;height:11.82px;background:#fffcf2;text-align:left;"><span>-3.72</span></div>
<div class="c n" style="left:590.59px;top:324.75px;width:16.17px;height:11.82px;background:#96d4b5;text-align:left;"><span>0.71</span></div>
<div class="c n" style="left:749.29px;top:324.75px;width:16.17px;height:11.82px;background:#b0d391;text-align:left;"><span>-0.29</span></div>
<div class="c n" style="left:907.99px;top:324.75px;width:16.17px;height:11.82px;background:#fffcf3;text-align:left;"><span>-3.79</span></div>
<div class="c n" style="left:606.46px;top:324.75px;width:16.17px;height:11.82px;background:#93d3b2;text-align:left;"><span>0.73</span></div>
<div class="c n" style="left:765.16px;top:324.75px;width:16.17px;height:11.82px;background:#b6d492;text-align:left;"><span>-0.27</span></div>
<div class="c n" style="left:923.86px;top:324.75px;width:16.17px;height:11.82px;background:#fffcf3;text-align:left;"><span>-3.77</span></div>
<div class="c n" style="left:622.33px;top:324.75px;width:16.17px;height:11.82px;background:#8dd0ae;text-align:left;"><span>0.77</span></div>
<div class="c n" style="left:781.03px;top:324.75px;width:16.17px;height:11.82px;background:#c1d792;text-align:left;"><span>-0.23</span></div>
<div class="c n" style="left:939.73px;top:324.75px;width:16.17px;height:11.82px;background:#fffbf2;text-align:left;"><span>-3.65</span></div>
<div class="c n" style="left:479.50px;top:336.27px;width:16.17px;height:11.82px;background:#bce3cf;text-align:left;"><span>0.46</span></div>
<div class="c n" style="left:638.20px;top:336.27px;width:16.17px;height:11.82px;background:#f6c48f;text-align:left;"><span>0.46</span></div>
<div class="c n" style="left:796.90px;top:336.27px;width:16.17px;height:11.82px;background:#fef4d7;text-align:left;"><span>0.46</span></div>
<div class="c n" style="left:495.37px;top:336.27px;width:16.17px;height:11.82px;background:#a1d9bd;text-align:left;"><span>0.63</span></div>
<div class="c n" style="left:654.07px;top:336.27px;width:16.17px;height:11.82px;background:#f3b78e;text-align:left;"><span>0.63</span></div>
<div class="c n" style="left:812.77px;top:336.27px;width:16.17px;height:11.82px;background:#fef1cb;text-align:left;"><span>1.90</span></div>
<div class="c n" style="left:511.24px;top:336.27px;width:16.17px;height:11.82px;background:#96d4b4;text-align:left;"><span>0.71</span></div>
<div class="c n" style="left:669.94px;top:336.27px;width:16.17px;height:11.82px;background:#f1b18c;text-align:left;"><span>0.71</span></div>
<div class="c n" style="left:828.64px;top:336.27px;width:16.17px;height:11.82px;background:#feeec2;text-align:left;"><span>2.85</span></div>
<div class="c n" style="left:527.11px;top:336.27px;width:16.17px;height:11.82px;background:#7dcaa3;text-align:left;"><span>0.88</span></div>
<div class="c n" style="left:685.81px;top:336.27px;width:16.17px;height:11.82px;background:#ddde94;text-align:left;"><span>-0.12</span></div>
<div class="c n" style="left:844.51px;top:336.27px;width:16.17px;height:11.82px;background:#fef7e1;text-align:left;"><span>-0.85</span></div>
<div class="c n" style="left:542.98px;top:336.27px;width:16.17px;height:11.82px;background:#74c69d;text-align:left;"><span>0.94</span></div>
<div class="c n" style="left:701.68px;top:336.27px;width:16.17px;height:11.82px;background:#ec9b88;text-align:left;"><span>0.94</span></div>
<div class="c n" style="left:860.38px;top:336.27px;width:16.17px;height:11.82px;background:#fcdd83;text-align:left;"><span>8.44</span></div>
<div class="c n" style="left:558.85px;top:336.27px;width:16.17px;height:11.82px;background:#72c59b;text-align:left;"><span>0.96</span></div>
<div class="c n" style="left:717.55px;top:336.27px;width:16.17px;height:11.82px;background:#f1e295;text-align:left;"><span>-0.04</span></div>
<div class="c n" style="left:876.25px;top:336.27px;width:16.17px;height:11.82px;background:#fef6de;text-align:left;"><span>-0.45</span></div>
<div class="c n" style="left:574.72px;top:336.27px;width:16.17px;height:11.82px;background:#70c499;text-align:left;"><span>0.97</span></div>
<div class="c n" style="left:733.42px;top:336.27px;width:16.17px;height:11.82px;background:#f4e395;text-align:left;"><span>-0.03</span></div>
<div class="c n" style="left:892.12px;top:336.27px;width:16.17px;height:11.82px;background:#fef6dd;text-align:left;"><span>-0.35</span></div>
<div class="c n" style="left:590.59px;top:336.27px;width:16.17px;height:11.82px;background:#6dc398;text-align:left;"><span>0.98</span></div>
<div class="c n" style="left:749.29px;top:336.27px;width:16.17px;height:11.82px;background:#f8e496;text-align:left;"><span>-0.02</span></div>
<div class="c n" style="left:907.99px;top:336.27px;width:16.17px;height:11.82px;background:#fef5dc;text-align:left;"><span>-0.20</span></div>
<div class="c n" style="left:606.46px;top:336.27px;width:16.17px;height:11.82px;background:#6dc397;text-align:left;"><span>0.99</span></div>
<div class="c n" style="left:765.16px;top:336.27px;width:16.17px;height:11.82px;background:#f9e496;text-align:left;"><span>-0.01</span></div>
<div class="c n" style="left:923.86px;top:336.27px;width:16.17px;height:11.82px;background:#fef5dc;text-align:left;"><span>-0.15</span></div>
<div class="c n" style="left:622.33px;top:336.27px;width:16.17px;height:11.82px;background:#6cc397;text-align:left;"><span>0.99</span></div>
<div class="c n" style="left:781.03px;top:336.27px;width:16.17px;height:11.82px;background:#fbe596;text-align:left;"><span>-0.01</span></div>
<div class="c n" style="left:939.73px;top:336.27px;width:16.17px;height:11.82px;background:#fef5db;text-align:left;"><span>-0.09</span></div>
<div class="c n" style="left:479.50px;top:347.79px;width:16.17px;height:11.82px;background:#c6e7d6;text-align:left;"><span>0.39</span></div>
<div class="c n" style="left:638.20px;top:347.79px;width:16.17px;height:11.82px;background:#f7c990;text-align:left;"><span>0.39</span></div>
<div class="c n" style="left:796.90px;top:347.79px;width:16.17px;height:11.82px;background:#fef4d8;text-align:left;"><span>0.39</span></div>
<div class="c n" style="left:495.37px;top:347.79px;width:16.17px;height:11.82px;background:#bce4d0;text-align:left;"><span>0.45</span></div>
<div class="c n" style="left:654.07px;top:347.79px;width:16.17px;height:11.82px;background:#f6c48f;text-align:left;"><span>0.45</span></div>
<div class="c n" style="left:812.77px;top:347.79px;width:16.17px;height:11.82px;background:#fef2d0;text-align:left;"><span>1.35</span></div>
<div class="c n" style="left:511.24px;top:347.79px;width:16.17px;height:11.82px;background:#b8e2cc;text-align:left;"><span>0.48</span></div>
<div class="c n" style="left:669.94px;top:347.79px;width:16.17px;height:11.82px;background:#f5c38f;text-align:left;"><span>0.48</span></div>
<div class="c n" style="left:828.64px;top:347.79px;width:16.17px;height:11.82px;background:#fef1ca;text-align:left;"><span>1.93</span></div>
<div class="c n" style="left:527.11px;top:347.79px;width:16.17px;height:11.82px;background:#a9dcc2;text-align:left;"><span>0.58</span></div>
<div class="c n" style="left:685.81px;top:347.79px;width:16.17px;height:11.82px;background:#8ecb8f;text-align:left;"><span>-0.42</span></div>
<div class="c n" style="left:844.51px;top:347.79px;width:16.17px;height:11.82px;background:#fffaee;text-align:left;"><span>-2.95</span></div>
<div class="c n" style="left:542.98px;top:347.79px;width:16.17px;height:11.82px;background:#a0d8bc;text-align:left;"><span>0.64</span></div>
<div class="c n" style="left:701.68px;top:347.79px;width:16.17px;height:11.82px;background:#f2b68e;text-align:left;"><span>0.64</span></div>
<div class="c n" style="left:860.38px;top:347.79px;width:16.17px;height:11.82px;background:#fde6a4;text-align:left;"><span>5.76</span></div>
<div class="c n" style="left:558.85px;top:347.79px;width:16.17px;height:11.82px;background:#9cd6b9;text-align:left;"><span>0.67</span></div>
<div class="c n" style="left:717.55px;top:347.79px;width:16.17px;height:11.82px;background:#a6d091;text-align:left;"><span>-0.33</span></div>
<div class="c n" style="left:876.25px;top:347.79px;width:16.17px;height:11.82px;background:#fffbf0;text-align:left;"><span>-3.31</span></div>
<div class="c n" style="left:574.72px;top:347.79px;width:16.17px;height:11.82px;background:#98d5b6;text-align:left;"><span>0.70</span></div>
<div class="c n" style="left:733.42px;top:347.79px;width:16.17px;height:11.82px;background:#add291;text-align:left;"><span>-0.30</span></div>
<div class="c n" style="left:892.12px;top:347.79px;width:16.17px;height:11.82px;background:#fffbf0;text-align:left;"><span>-3.34</span></div>
<div class="c n" style="left:590.59px;top:347.79px;width:16.17px;height:11.82px;background:#90d2b1;text-align:left;"><span>0.75</span></div>
<div class="c n" style="left:749.29px;top:347.79px;width:16.17px;height:11.82px;background:#bbd592;text-align:left;"><span>-0.25</span></div>
<div class="c n" style="left:907.99px;top:347.79px;width:16.17px;height:11.82px;background:#fffbf0;text-align:left;"><span>-3.27</span></div>
<div class="c n" style="left:606.46px;top:347.79px;width:16.17px;height:11.82px;background:#8dd0ae;text-align:left;"><span>0.77</span></div>
<div class="c n" style="left:765.16px;top:347.79px;width:16.17px;height:11.82px;background:#c1d792;text-align:left;"><span>-0.23</span></div>
<div class="c n" style="left:923.86px;top:347.79px;width:16.17px;height:11.82px;background:#fffbf0;text-align:left;"><span>-3.19</span></div>
<div class="c n" style="left:622.33px;top:347.79px;width:16.17px;height:11.82px;background:#87ceaa;text-align:left;"><span>0.81</span></div>
<div class="c n" style="left:781.03px;top:347.79px;width:16.17px;height:11.82px;background:#ccda93;text-align:left;"><span>-0.19</span></div>
<div class="c n" style="left:939.73px;top:347.79px;width:16.17px;height:11.82px;background:#fffaee;text-align:left;"><span>-2.97</span></div>
<div class="c n" style="left:479.50px;top:359.31px;width:16.17px;height:11.82px;background:#bfe5d2;text-align:left;"><span>0.43</span></div>
<div class="c n" style="left:638.20px;top:359.31px;width:16.17px;height:11.82px;background:#f6c590;text-align:left;"><span>0.43</span></div>
<div class="c n" style="left:796.90px;top:359.31px;width:16.17px;height:11.82px;background:#fef4d7;text-align:left;"><span>0.43</span></div>
<div class="c n" style="left:495.37px;top:359.31px;width:16.17px;height:11.82px;background:#a7dbc1;text-align:left;"><span>0.59</span></div>
<div class="c n" style="left:654.07px;top:359.31px;width:16.17px;height:11.82px;background:#f3ba8e;text-align:left;"><span>0.59</span></div>
<div class="c n" style="left:812.77px;top:359.31px;width:16.17px;height:11.82px;background:#fef1cc;text-align:left;"><span>1.78</span></div>
<div class="c n" style="left:511.24px;top:359.31px;width:16.17px;height:11.82px;background:#9cd6b9;text-align:left;"><span>0.67</span></div>
<div class="c n" style="left:669.94px;top:359.31px;width:16.17px;height:11.82px;background:#f2b58d;text-align:left;"><span>0.67</span></div>
<div class="c n" style="left:828.64px;top:359.31px;width:16.17px;height:11.82px;background:#feefc4;text-align:left;"><span>2.67</span></div>
<div class="c n" style="left:527.11px;top:359.31px;width:16.17px;height:11.82px;background:#83cca7;text-align:left;"><span>0.84</span></div>
<div class="c n" style="left:685.81px;top:359.31px;width:16.17px;height:11.82px;background:#d2db93;text-align:left;"><span>-0.16</span></div>
<div class="c n" style="left:844.51px;top:359.31px;width:16.17px;height:11.82px;background:#fef7e3;text-align:left;"><span>-1.12</span></div>
<div class="c n" style="left:542.98px;top:359.31px;width:16.17px;height:11.82px;background:#79c8a0;text-align:left;"><span>0.91</span></div>
<div class="c n" style="left:701.68px;top:359.31px;width:16.17px;height:11.82px;background:#ed9e89;text-align:left;"><span>0.91</span></div>
<div class="c n" style="left:860.38px;top:359.31px;width:16.17px;height:11.82px;background:#fcde87;text-align:left;"><span>8.18</span></div>
<div class="c n" style="left:558.85px;top:359.31px;width:16.17px;height:11.82px;background:#75c69d;text-align:left;"><span>0.93</span></div>
<div class="c n" style="left:717.55px;top:359.31px;width:16.17px;height:11.82px;background:#ebe195;text-align:left;"><span>-0.07</span></div>
<div class="c n" style="left:876.25px;top:359.31px;width:16.17px;height:11.82px;background:#fef6e0;text-align:left;"><span>-0.68</span></div>
<div class="c n" style="left:574.72px;top:359.31px;width:16.17px;height:11.82px;background:#72c59b;text-align:left;"><span>0.95</span></div>
<div class="c n" style="left:733.42px;top:359.31px;width:16.17px;height:11.82px;background:#efe295;text-align:left;"><span>-0.05</span></div>
<div class="c n" style="left:892.12px;top:359.31px;width:16.17px;height:11.82px;background:#fef6df;text-align:left;"><span>-0.55</span></div>
<div class="c n" style="left:590.59px;top:359.31px;width:16.17px;height:11.82px;background:#6fc499;text-align:left;"><span>0.97</span></div>
<div class="c n" style="left:749.29px;top:359.31px;width:16.17px;height:11.82px;background:#f5e396;text-align:left;"><span>-0.03</span></div>
<div class="c n" style="left:907.99px;top:359.31px;width:16.17px;height:11.82px;background:#fef6dd;text-align:left;"><span>-0.35</span></div>
<div class="c n" style="left:606.46px;top:359.31px;width:16.17px;height:11.82px;background:#6ec398;text-align:left;"><span>0.98</span></div>
<div class="c n" style="left:765.16px;top:359.31px;width:16.17px;height:11.82px;background:#f7e496;text-align:left;"><span>-0.02</span></div>
<div class="c n" style="left:923.86px;top:359.31px;width:16.17px;height:11.82px;background:#fef6dd;text-align:left;"><span>-0.28</span></div>
<div class="c n" style="left:622.33px;top:359.31px;width:16.17px;height:11.82px;background:#6dc397;text-align:left;"><span>0.99</span></div>
<div class="c n" style="left:781.03px;top:359.31px;width:16.17px;height:11.82px;background:#f9e496;text-align:left;"><span>-0.01</span></div>
<div class="c n" style="left:939.73px;top:359.31px;width:16.17px;height:11.82px;background:#fef5dc;text-align:left;"><span>-0.17</span></div>
<div class="c n" style="left:479.50px;top:370.83px;width:16.17px;height:11.82px;background:#c8e8d8;text-align:left;"><span>0.37</span></div>
<div class="c n" style="left:638.20px;top:370.83px;width:16.17px;height:11.82px;background:#f7ca91;text-align:left;"><span>0.37</span></div>
<div class="c n" style="left:796.90px;top:370.83px;width:16.17px;height:11.82px;background:#fef4d8;text-align:left;"><span>0.37</span></div>
<div class="c n" style="left:495.37px;top:370.83px;width:16.17px;height:11.82px;background:#bfe5d2;text-align:left;"><span>0.43</span></div>
<div class="c n" style="left:654.07px;top:370.83px;width:16.17px;height:11.82px;background:#f6c590;text-align:left;"><span>0.43</span></div>
<div class="c n" style="left:812.77px;top:370.83px;width:16.17px;height:11.82px;background:#fef2d0;text-align:left;"><span>1.30</span></div>
<div class="c n" style="left:511.24px;top:370.83px;width:16.17px;height:11.82px;background:#bae3ce;text-align:left;"><span>0.46</span></div>
<div class="c n" style="left:669.94px;top:370.83px;width:16.17px;height:11.82px;background:#f5c38f;text-align:left;"><span>0.46</span></div>
<div class="c n" style="left:828.64px;top:370.83px;width:16.17px;height:11.82px;background:#fef1cb;text-align:left;"><span>1.86</span></div>
<div class="c n" style="left:527.11px;top:370.83px;width:16.17px;height:11.82px;background:#adddc5;text-align:left;"><span>0.56</span></div>
<div class="c n" style="left:685.81px;top:370.83px;width:16.17px;height:11.82px;background:#89ca8f;text-align:left;"><span>-0.44</span></div>
<div class="c n" style="left:844.51px;top:370.83px;width:16.17px;height:11.82px;background:#fffbef;text-align:left;"><span>-3.11</span></div>
<div class="c n" style="left:542.98px;top:370.83px;width:16.17px;height:11.82px;background:#a4dabe;text-align:left;"><span>0.62</span></div>
<div class="c n" style="left:701.68px;top:370.83px;width:16.17px;height:11.82px;background:#f3b88e;text-align:left;"><span>0.62</span></div>
<div class="c n" style="left:860.38px;top:370.83px;width:16.17px;height:11.82px;background:#fde7a6;text-align:left;"><span>5.54</span></div>
<div class="c n" style="left:558.85px;top:370.83px;width:16.17px;height:11.82px;background:#a0d8bb;text-align:left;"><span>0.64</span></div>
<div class="c n" style="left:717.55px;top:370.83px;width:16.17px;height:11.82px;background:#9fd090;text-align:left;"><span>-0.36</span></div>
<div class="c n" style="left:876.25px;top:370.83px;width:16.17px;height:11.82px;background:#fffbf2;text-align:left;"><span>-3.56</span></div>
<div class="c n" style="left:574.72px;top:370.83px;width:16.17px;height:11.82px;background:#9cd6b9;text-align:left;"><span>0.67</span></div>
<div class="c n" style="left:733.42px;top:370.83px;width:16.17px;height:11.82px;background:#a7d091;text-align:left;"><span>-0.33</span></div>
<div class="c n" style="left:892.12px;top:370.83px;width:16.17px;height:11.82px;background:#fffbf2;text-align:left;"><span>-3.61</span></div>
<div class="c n" style="left:590.59px;top:370.83px;width:16.17px;height:11.82px;background:#94d3b3;text-align:left;"><span>0.72</span></div>
<div class="c n" style="left:749.29px;top:370.83px;width:16.17px;height:11.82px;background:#b5d492;text-align:left;"><span>-0.28</span></div>
<div class="c n" style="left:907.99px;top:370.83px;width:16.17px;height:11.82px;background:#fffbf2;text-align:left;"><span>-3.59</span></div>
<div class="c n" style="left:606.46px;top:370.83px;width:16.17px;height:11.82px;background:#90d2b1;text-align:left;"><span>0.75</span></div>
<div class="c n" style="left:765.16px;top:370.83px;width:16.17px;height:11.82px;background:#bad592;text-align:left;"><span>-0.25</span></div>
<div class="c n" style="left:923.86px;top:370.83px;width:16.17px;height:11.82px;background:#fffbf2;text-align:left;"><span>-3.53</span></div>
<div class="c n" style="left:622.33px;top:370.83px;width:16.17px;height:11.82px;background:#8acfac;text-align:left;"><span>0.79</span></div>
<div class="c n" style="left:781.03px;top:370.83px;width:16.17px;height:11.82px;background:#c6d893;text-align:left;"><span>-0.21</span></div>
<div class="c n" style="left:939.73px;top:370.83px;width:16.17px;height:11.82px;background:#fffbf0;text-align:left;"><span>-3.34</span></div>
<div class="c n" style="left:479.50px;top:382.35px;width:16.17px;height:11.82px;background:#bfe5d2;text-align:left;"><span>0.43</span></div>
<div class="c n" style="left:638.20px;top:382.35px;width:16.17px;height:11.82px;background:#f6c690;text-align:left;"><span>0.43</span></div>
<div class="c n" style="left:796.90px;top:382.35px;width:16.17px;height:11.82px;background:#fef4d7;text-align:left;"><span>0.43</span></div>
<div class="c n" style="left:495.37px;top:382.35px;width:16.17px;height:11.82px;background:#a5dabf;text-align:left;"><span>0.61</span></div>
<div class="c n" style="left:654.07px;top:382.35px;width:16.17px;height:11.82px;background:#f3b98e;text-align:left;"><span>0.61</span></div>
<div class="c n" style="left:812.77px;top:382.35px;width:16.17px;height:11.82px;background:#fef1cb;text-align:left;"><span>1.82</span></div>
<div class="c n" style="left:511.24px;top:382.35px;width:16.17px;height:11.82px;background:#99d5b7;text-align:left;"><span>0.69</span></div>
<div class="c n" style="left:669.94px;top:382.35px;width:16.17px;height:11.82px;background:#f2b38d;text-align:left;"><span>0.69</span></div>
<div class="c n" style="left:828.64px;top:382.35px;width:16.17px;height:11.82px;background:#feeec3;text-align:left;"><span>2.75</span></div>
<div class="c n" style="left:527.11px;top:382.35px;width:16.17px;height:11.82px;background:#7fcaa4;text-align:left;"><span>0.87</span></div>
<div class="c n" style="left:685.81px;top:382.35px;width:16.17px;height:11.82px;background:#d9dd94;text-align:left;"><span>-0.13</span></div>
<div class="c n" style="left:844.51px;top:382.35px;width:16.17px;height:11.82px;background:#fef7e2;text-align:left;"><span>-0.94</span></div>
<div class="c n" style="left:542.98px;top:382.35px;width:16.17px;height:11.82px;background:#76c79e;text-align:left;"><span>0.93</span></div>
<div class="c n" style="left:701.68px;top:382.35px;width:16.17px;height:11.82px;background:#ec9b88;text-align:left;"><span>0.93</span></div>
<div class="c n" style="left:860.38px;top:382.35px;width:16.17px;height:11.82px;background:#fcdd84;text-align:left;"><span>8.36</span></div>
<div class="c n" style="left:558.85px;top:382.35px;width:16.17px;height:11.82px;background:#73c59b;text-align:left;"><span>0.95</span></div>
<div class="c n" style="left:717.55px;top:382.35px;width:16.17px;height:11.82px;background:#efe295;text-align:left;"><span>-0.05</span></div>
<div class="c n" style="left:876.25px;top:382.35px;width:16.17px;height:11.82px;background:#fef6de;text-align:left;"><span>-0.51</span></div>
<div class="c n" style="left:574.72px;top:382.35px;width:16.17px;height:11.82px;background:#70c49a;text-align:left;"><span>0.96</span></div>
<div class="c n" style="left:733.42px;top:382.35px;width:16.17px;height:11.82px;background:#f3e395;text-align:left;"><span>-0.04</span></div>
<div class="c n" style="left:892.12px;top:382.35px;width:16.17px;height:11.82px;background:#fef6de;text-align:left;"><span>-0.40</span></div>
<div class="c n" style="left:590.59px;top:382.35px;width:16.17px;height:11.82px;background:#6ec398;text-align:left;"><span>0.98</span></div>
<div class="c n" style="left:749.29px;top:382.35px;width:16.17px;height:11.82px;background:#f8e496;text-align:left;"><span>-0.02</span></div>
<div class="c n" style="left:907.99px;top:382.35px;width:16.17px;height:11.82px;background:#fef5dc;text-align:left;"><span>-0.23</span></div>
<div class="c n" style="left:606.46px;top:382.35px;width:16.17px;height:11.82px;background:#6dc397;text-align:left;"><span>0.99</span></div>
<div class="c n" style="left:765.16px;top:382.35px;width:16.17px;height:11.82px;background:#f8e496;text-align:left;"><span>-0.01</span></div>
<div class="c n" style="left:923.86px;top:382.35px;width:16.17px;height:11.82px;background:#fef5dc;text-align:left;"><span>-0.18</span></div>
<div class="c n" style="left:622.33px;top:382.35px;width:16.17px;height:11.82px;background:#6cc397;text-align:left;"><span>0.99</span></div>
<div class="c n" style="left:781.03px;top:382.35px;width:16.17px;height:11.82px;background:#fae596;text-align:left;"><span>-0.01</span></div>
<div class="c n" style="left:939.73px;top:382.35px;width:16.17px;height:11.82px;background:#fef5db;text-align:left;"><span>-0.10</span></div>
<div class="c n" style="left:479.50px;top:393.87px;width:16.17px;height:11.82px;background:#c9e9d9;text-align:left;"><span>0.37</span></div>
<div class="c n" style="left:638.20px;top:393.87px;width:16.17px;height:11.82px;background:#f7cb91;text-align:left;"><span>0.37</span></div>
<div class="c n" style="left:796.90px;top:393.87px;width:16.17px;height:11.82px;background:#fef4d8;text-align:left;"><span>0.37</span></div>
<div class="c n" style="left:495.37px;top:393.87px;width:16.17px;height:11.82px;background:#bfe5d2;text-align:left;"><span>0.43</span></div>
<div class="c n" style="left:654.07px;top:393.87px;width:16.17px;height:11.82px;background:#f6c690;text-align:left;"><span>0.43</span></div>
<div class="c n" style="left:812.77px;top:393.87px;width:16.17px;height:11.82px;background:#fef2d0;text-align:left;"><span>1.29</span></div>
<div class="c n" style="left:511.24px;top:393.87px;width:16.17px;height:11.82px;background:#bae3ce;text-align:left;"><span>0.47</span></div>
<div class="c n" style="left:669.94px;top:393.87px;width:16.17px;height:11.82px;background:#f5c38f;text-align:left;"><span>0.47</span></div>
<div class="c n" style="left:828.64px;top:393.87px;width:16.17px;height:11.82px;background:#fef1cb;text-align:left;"><span>1.86</span></div>
<div class="c n" style="left:527.11px;top:393.87px;width:16.17px;height:11.82px;background:#abddc4;text-align:left;"><span>0.57</span></div>
<div class="c n" style="left:685.81px;top:393.87px;width:16.17px;height:11.82px;background:#8cca8f;text-align:left;"><span>-0.43</span></div>
<div class="c n" style="left:844.51px;top:393.87px;width:16.17px;height:11.82px;background:#fffbef;text-align:left;"><span>-3.03</span></div>
<div class="c n" style="left:542.98px;top:393.87px;width:16.17px;height:11.82px;background:#a1d9bd;text-align:left;"><span>0.63</span></div>
<div class="c n" style="left:701.68px;top:393.87px;width:16.17px;height:11.82px;background:#f3b78e;text-align:left;"><span>0.63</span></div>
<div class="c n" style="left:860.38px;top:393.87px;width:16.17px;height:11.82px;background:#fde6a4;text-align:left;"><span>5.69</span></div>
<div class="c n" style="left:558.85px;top:393.87px;width:16.17px;height:11.82px;background:#9dd7b9;text-align:left;"><span>0.66</span></div>
<div class="c n" style="left:717.55px;top:393.87px;width:16.17px;height:11.82px;background:#a5d091;text-align:left;"><span>-0.34</span></div>
<div class="c n" style="left:876.25px;top:393.87px;width:16.17px;height:11.82px;background:#fffbf1;text-align:left;"><span>-3.36</span></div>
<div class="c n" style="left:574.72px;top:393.87px;width:16.17px;height:11.82px;background:#98d5b6;text-align:left;"><span>0.69</span></div>
<div class="c n" style="left:733.42px;top:393.87px;width:16.17px;height:11.82px;background:#acd291;text-align:left;"><span>-0.31</span></div>
<div class="c n" style="left:892.12px;top:393.87px;width:16.17px;height:11.82px;background:#fffbf1;text-align:left;"><span>-3.37</span></div>
<div class="c n" style="left:590.59px;top:393.87px;width:16.17px;height:11.82px;background:#90d2b1;text-align:left;"><span>0.75</span></div>
<div class="c n" style="left:749.29px;top:393.87px;width:16.17px;height:11.82px;background:#bbd592;text-align:left;"><span>-0.25</span></div>
<div class="c n" style="left:907.99px;top:393.87px;width:16.17px;height:11.82px;background:#fffbf0;text-align:left;"><span>-3.27</span></div>
<div class="c n" style="left:606.46px;top:393.87px;width:16.17px;height:11.82px;background:#8dd0ae;text-align:left;"><span>0.77</span></div>
<div class="c n" style="left:765.16px;top:393.87px;width:16.17px;height:11.82px;background:#c2d792;text-align:left;"><span>-0.23</span></div>
<div class="c n" style="left:923.86px;top:393.87px;width:16.17px;height:11.82px;background:#fffbf0;text-align:left;"><span>-3.17</span></div>
<div class="c n" style="left:622.33px;top:393.87px;width:16.17px;height:11.82px;background:#86cda9;text-align:left;"><span>0.82</span></div>
<div class="c n" style="left:781.03px;top:393.87px;width:16.17px;height:11.82px;background:#cdda93;text-align:left;"><span>-0.18</span></div>
<div class="c n" style="left:939.73px;top:393.87px;width:16.17px;height:11.82px;background:#fffaee;text-align:left;"><span>-2.92</span></div>
<svg width="978" height="400" viewBox="0 0 978 400">
<rect x="150" y="134" width="208" height="130" fill="#fff" stroke="#d6d6d6" stroke-width="0.7"/>
<line x1="173.7" x2="355.6" y1="153.90" y2="153.90" stroke="#e3e3e3" stroke-width="0.6"/>
<text x="168.5" y="155.70" font-size="5.3" fill="#555" text-anchor="end">2.00</text>
<line x1="173.7" x2="355.6" y1="179.30" y2="179.30" stroke="#bdbdbd" stroke-width="0.6"/>
<text x="168.5" y="181.10" font-size="5.3" fill="#555" text-anchor="end">0.00</text>
<line x1="173.7" x2="355.6" y1="204.70" y2="204.70" stroke="#e3e3e3" stroke-width="0.6"/>
<text x="168.5" y="206.50" font-size="5.3" fill="#555" text-anchor="end">-2.00</text>
<line x1="173.7" x2="355.6" y1="230.10" y2="230.10" stroke="#e3e3e3" stroke-width="0.6"/>
<text x="168.5" y="231.90" font-size="5.3" fill="#555" text-anchor="end">-4.00</text>
<line x1="173.7" x2="355.6" y1="255.50" y2="255.50" stroke="#e3e3e3" stroke-width="0.6"/>
<text x="168.5" y="257.30" font-size="5.3" fill="#555" text-anchor="end">-6.00</text>
<path d="M173.70 179.30 L173.88 172.44 L174.06 176.36 L174.25 178.58 L174.43 174.69 L174.61 178.06 L174.79 176.06 L174.97 178.42 L175.16 174.64 L175.34 177.93 L175.52 175.89 L175.70 178.25 L175.88 174.66 L176.06 177.84 L176.25 175.64 L176.43 178.08 L176.61 174.69 L176.79 177.75 L176.97 175.43 L177.16 177.91 L177.34 174.73 L177.52 177.66 L177.70 175.22 L177.88 177.74 L178.07 174.77 L178.25 177.57 L178.43 175.05 L178.61 177.57 L178.79 174.81 L178.98 177.46 L179.16 174.92 L179.34 177.42 L179.52 174.82 L179.70 177.34 L179.88 174.84 L180.07 177.29 L180.25 174.80 L180.43 177.22 L180.61 174.80 L180.79 177.16 L180.98 174.78 L181.16 177.09 L181.34 174.76 L181.52 177.03 L181.70 174.75 L181.89 176.97 L182.07 174.74 L182.25 176.91 L182.43 174.72 L182.61 176.85 L182.79 174.71 L182.98 176.79 L183.16 174.70 L183.34 176.73 L183.52 174.69 L183.70 176.67 L183.89 174.69 L184.07 176.61 L184.25 174.68 L184.43 176.55 L184.61 174.67 L184.80 176.50 L184.98 174.67 L185.16 176.44 L185.34 174.66 L185.52 176.38 L185.71 174.66 L185.89 176.33 L186.07 174.66 L186.25 176.27 L186.43 174.65 L186.61 176.21 L186.80 174.65 L186.98 176.16 L187.16 174.65 L187.34 176.10 L187.52 174.65 L187.71 176.04 L187.89 174.65 L188.07 175.99 L188.25 174.65 L188.43 175.93 L188.62 174.66 L188.80 175.87 L188.98 174.66 L189.16 175.82 L189.34 174.66 L189.53 175.76 L189.71 174.67 L189.89 175.70 L190.07 174.67 L190.25 175.65 L190.43 174.68 L190.62 175.59 L190.80 174.68 L190.98 175.53 L191.16 174.69 L191.34 175.48 L191.53 174.69 L191.71 175.42 L191.89 174.70 L192.07 175.36 L192.25 174.70 L192.44 175.30 L192.62 174.71 L192.80 175.25 L192.98 174.71 L193.16 175.19 L193.35 174.71 L193.53 175.14 L193.71 174.71 L193.89 175.08 L194.07 174.71 L194.25 175.03 L194.44 174.71 L194.62 174.98 L194.80 174.70 L194.98 174.93 L195.16 174.70 L195.35 174.88 L195.53 174.69 L195.71 174.84 L195.89 174.68 L196.07 174.80 L196.26 174.66 L196.44 174.76 L196.62 174.65 L196.80 174.72 L196.98 174.63 L197.17 174.68 L197.35 174.61 L197.53 174.65 L197.71 174.59 L197.89 174.62 L198.07 174.57 L198.26 174.59 L198.44 174.55 L198.62 174.56 L198.80 174.53 L198.98 174.53 L199.17 174.50 L199.35 174.50 L199.53 174.48 L199.71 174.48 L199.89 174.46 L200.08 174.45 L200.26 174.43 L200.44 174.43 L200.62 174.41 L200.80 174.40 L200.98 174.39 L201.17 174.38 L201.35 174.36 L201.53 174.35 L201.71 174.34 L201.89 174.33 L202.08 174.32 L202.26 174.31 L202.44 174.29 L202.62 174.28 L202.80 174.27 L202.99 174.26 L203.17 174.25 L203.35 174.24 L203.53 174.23 L203.71 174.22 L203.90 174.20 L204.08 174.19 L204.26 174.18 L204.44 174.17 L204.62 174.16 L204.80 174.15 L204.99 174.14 L205.17 174.13 L205.35 174.12 L205.53 174.11 L205.71 174.10 L205.90 174.09 L206.08 174.08 L206.26 174.07 L206.44 174.06 L206.62 174.05 L206.81 174.04 L206.99 174.03 L207.17 174.02 L207.35 174.01 L207.53 174.00 L207.72 173.99 L207.90 173.98 L208.08 173.97 L208.26 173.96 L208.44 173.95 L208.62 173.94 L208.81 173.93 L208.99 173.92 L209.17 173.91 L209.35 173.90 L209.53 173.89 L209.72 173.88 L209.90 173.87 L210.08 173.86 L210.26 173.85 L210.44 173.84 L210.63 173.83 L210.81 173.82 L210.99 173.81 L211.17 173.81 L211.35 173.80 L211.54 173.79 L211.72 173.78 L211.90 173.77 L212.08 173.76 L212.26 173.75 L212.44 173.74 L212.63 173.73 L212.81 173.73 L212.99 173.72 L213.17 173.71 L213.35 173.70 L213.54 173.69 L213.72 173.68 L213.90 173.67 L214.08 173.67 L214.26 173.66 L214.45 173.65 L214.63 173.64 L214.81 173.63 L214.99 173.62 L215.17 173.62 L215.36 173.61 L215.54 173.60 L215.72 173.59 L215.90 173.58 L216.08 173.57 L216.26 173.57 L216.45 173.56 L216.63 173.55 L216.81 173.54 L216.99 173.53 L217.17 173.53 L217.36 173.52 L217.54 173.51 L217.72 173.50 L217.90 173.50 L218.08 173.49 L218.27 173.48 L218.45 173.47 L218.63 173.46 L218.81 173.46 L218.99 173.45 L219.18 173.44 L219.36 173.43 L219.54 173.43 L219.72 173.42 L219.90 173.41 L220.08 173.40 L220.27 173.40 L220.45 173.39 L220.63 173.38 L220.81 173.38 L220.99 173.37 L221.18 173.36 L221.36 173.35 L221.54 173.35 L221.72 173.34 L221.90 173.33 L222.09 173.32 L222.27 173.32 L222.45 173.31 L222.63 173.30 L222.81 173.30 L222.99 173.29 L223.18 173.28 L223.36 173.28 L223.54 173.27 L223.72 173.26 L223.90 173.26 L224.09 173.25 L224.27 173.24 L224.45 173.23 L224.63 173.23 L224.81 173.22 L225.00 173.21 L225.18 173.21 L225.36 173.20 L225.54 173.19 L225.72 173.19 L225.91 173.18 L226.09 173.17 L226.27 173.17 L226.45 173.16 L226.63 173.16 L226.81 173.15 L227.00 173.14 L227.18 173.14 L227.36 173.13 L227.54 173.12 L227.72 173.12 L227.91 173.11 L228.09 173.10 L228.27 173.10 L228.45 173.09 L228.63 173.09 L228.82 173.08 L229.00 173.07 L229.18 173.07 L229.36 173.06 L229.54 173.05 L229.73 173.05 L229.91 173.04 L230.09 173.04 L230.27 173.03 L230.45 173.02 L230.63 173.02 L230.82 173.01 L231.00 173.01 L231.18 173.00 L231.36 172.99 L231.54 172.99 L231.73 172.98 L231.91 172.98 L232.09 172.97 L232.27 172.97 L232.45 172.96 L232.64 172.95 L232.82 172.95 L233.00 172.94 L233.18 172.94 L233.36 172.93 L233.55 172.93 L233.73 172.92 L233.91 172.91 L234.09 172.91 L234.27 172.90 L234.45 172.90 L234.64 172.89 L234.82 172.89 L235.00 172.88 L235.18 172.88 L235.36 172.87 L235.55 172.86 L235.73 172.86 L235.91 172.85 L236.09 172.85 L236.27 172.84 L236.46 172.84 L236.64 172.83 L236.82 172.83 L237.00 172.82 L237.18 172.82 L237.37 172.81 L237.55 172.81 L237.73 172.80 L237.91 172.79 L238.09 172.79 L238.27 172.78 L238.46 172.78 L238.64 172.77 L238.82 172.77 L239.00 172.76 L239.18 172.76 L239.37 172.75 L239.55 172.75 L239.73 172.74 L239.91 172.74 L240.09 172.73 L240.28 172.73 L240.46 172.72 L240.64 172.72 L240.82 172.71 L241.00 172.71 L241.18 172.70 L241.37 172.70 L241.55 172.69 L241.73 172.69 L241.91 172.68 L242.09 172.68 L242.28 172.67 L242.46 172.67 L242.64 172.66 L242.82 172.66 L243.00 172.65 L243.19 172.65 L243.37 172.65 L243.55 172.64 L243.73 172.64 L243.91 172.63 L244.10 172.63 L244.28 172.62 L244.46 172.62 L244.64 172.61 L244.82 172.61 L245.00 172.60 L245.19 172.60 L245.37 172.59 L245.55 172.59 L245.73 172.58 L245.91 172.58 L246.10 172.58 L246.28 172.57 L246.46 172.57 L246.64 172.56 L246.82 172.56 L247.01 172.55 L247.19 172.55 L247.37 172.54 L247.55 172.54 L247.73 172.53 L247.92 172.53 L248.10 172.53 L248.28 172.52 L248.46 172.52 L248.64 172.51 L248.82 172.51 L249.01 172.50 L249.19 172.50 L249.37 172.50 L249.55 172.49 L249.73 172.49 L249.92 172.48 L250.10 172.48 L250.28 172.47 L250.46 172.47 L250.64 172.47 L250.83 172.46 L251.01 172.46 L251.19 172.45 L251.37 172.45 L251.55 172.44 L251.74 172.44 L251.92 172.44 L252.10 172.43 L252.28 172.43 L252.46 172.42 L252.64 172.42 L252.83 172.42 L253.01 172.41 L253.19 172.41 L253.37 172.40 L253.55 172.40 L253.74 172.40 L253.92 172.39 L254.10 172.39 L254.28 172.38 L254.46 172.38 L254.65 172.38 L254.83 172.37 L255.01 172.37 L255.19 172.36 L255.37 172.36 L255.56 172.36 L255.74 172.35 L255.92 172.35 L256.10 172.34 L256.28 172.34 L256.46 172.34 L256.65 172.33 L256.83 172.33 L257.01 172.32 L257.19 172.32 L257.37 172.32 L257.56 172.31 L257.74 172.31 L257.92 172.31 L258.10 172.30 L258.28 172.30 L258.47 172.29 L258.65 172.29 L258.83 172.29 L259.01 172.28 L259.19 172.28 L259.37 172.28 L259.56 172.27 L259.74 172.27 L259.92 172.26 L260.10 172.26 L260.28 172.26 L260.47 172.25 L260.65 172.25 L260.83 172.25 L261.01 172.24 L261.19 172.24 L261.38 172.24 L261.56 172.23 L261.74 172.23 L261.92 172.22 L262.10 172.22 L262.29 172.22 L262.47 172.21 L262.65 172.21 L262.83 172.21 L263.01 172.20 L263.19 172.20 L263.38 172.20 L263.56 172.19 L263.74 172.19 L263.92 172.19 L264.10 172.18 L264.29 172.18 L264.47 172.18 L264.65 172.17 L264.83 172.17 L265.01 172.17 L265.20 172.16 L265.38 172.16 L265.56 172.15 L265.74 172.15 L265.92 172.15 L266.11 172.14 L266.29 172.14 L266.47 172.14 L266.65 172.13 L266.83 172.13 L267.01 172.13 L267.20 172.12 L267.38 172.12 L267.56 172.12 L267.74 172.11 L267.92 172.11 L268.11 172.11 L268.29 172.11 L268.47 172.10 L268.65 172.10 L268.83 172.10 L269.02 172.09 L269.20 172.09 L269.38 172.09 L269.56 172.08 L269.74 172.08 L269.93 172.08 L270.11 172.07 L270.29 172.07 L270.47 172.07 L270.65 172.06 L270.83 172.06 L271.02 172.06 L271.20 172.05 L271.38 172.05 L271.56 172.05 L271.74 172.04 L271.93 172.04 L272.11 172.04 L272.29 172.04 L272.47 172.03 L272.65 172.03 L272.84 172.03 L273.02 172.02 L273.20 172.02 L273.38 172.02 L273.56 172.01 L273.75 172.01 L273.93 172.01 L274.11 172.00 L274.29 172.00 L274.47 172.00 L274.65 172.00 L274.84 171.99 L275.02 171.99 L275.20 171.99 L275.38 171.98 L275.56 171.98 L275.75 171.98 L275.93 171.98 L276.11 171.97 L276.29 171.97 L276.47 171.97 L276.66 171.96 L276.84 171.96 L277.02 171.96 L277.20 171.95 L277.38 171.95 L277.56 171.95 L277.75 171.95 L277.93 171.94 L278.11 171.94 L278.29 171.94 L278.47 171.93 L278.66 171.93 L278.84 171.93 L279.02 171.93 L279.20 171.92 L279.38 171.92 L279.57 171.92 L279.75 171.91 L279.93 171.91 L280.11 171.91 L280.29 171.91 L280.48 171.90 L280.66 171.90 L280.84 171.90 L281.02 171.90 L281.20 171.89 L281.38 171.89 L281.57 171.89 L281.75 171.88 L281.93 171.88 L282.11 171.88 L282.29 171.88 L282.48 171.87 L282.66 171.87 L282.84 171.87 L283.02 171.87 L283.20 171.86 L283.39 171.86 L283.57 171.86 L283.75 171.86 L283.93 171.85 L284.11 171.85 L284.30 171.85 L284.48 171.84 L284.66 171.84 L284.84 171.84 L285.02 171.84 L285.20 171.83 L285.39 171.83 L285.57 171.83 L285.75 171.83 L285.93 171.82 L286.11 171.82 L286.30 171.82 L286.48 171.82 L286.66 171.81 L286.84 171.81 L287.02 171.81 L287.21 171.81 L287.39 171.80 L287.57 171.80 L287.75 171.80 L287.93 171.80 L288.12 171.79 L288.30 171.79 L288.48 171.79 L288.66 171.79 L288.84 171.78 L289.02 171.78 L289.21 171.78 L289.39 171.78 L289.57 171.77 L289.75 171.77 L289.93 171.77 L290.12 171.77 L290.30 171.76 L290.48 171.76 L290.66 171.76 L290.84 171.76 L291.03 171.75 L291.21 171.75 L291.39 171.75 L291.57 171.75 L291.75 171.74 L291.94 171.74 L292.12 171.74 L292.30 171.74 L292.48 171.73 L292.66 171.73 L292.84 171.73 L293.03 171.73 L293.21 171.73 L293.39 171.72 L293.57 171.72 L293.75 171.72 L293.94 171.72 L294.12 171.71 L294.30 171.71 L294.48 171.71 L294.66 171.71 L294.85 171.70 L295.03 171.70 L295.21 171.70 L295.39 171.70 L295.57 171.69 L295.75 171.69 L295.94 171.69 L296.12 171.69 L296.30 171.69 L296.48 171.68 L296.66 171.68 L296.85 171.68 L297.03 171.68 L297.21 171.67 L297.39 171.67 L297.57 171.67 L297.76 171.67 L297.94 171.67 L298.12 171.66 L298.30 171.66 L298.48 171.66 L298.67 171.66 L298.85 171.65 L299.03 171.65 L299.21 171.65 L299.39 171.65 L299.57 171.65 L299.76 171.64 L299.94 171.64 L300.12 171.64 L300.30 171.64 L300.48 171.64 L300.67 171.63 L300.85 171.63 L301.03 171.63 L301.21 171.63 L301.39 171.62 L301.58 171.62 L301.76 171.62 L301.94 171.62 L302.12 171.62 L302.30 171.61 L302.49 171.61 L302.67 171.61 L302.85 171.61 L303.03 171.61 L303.21 171.60 L303.39 171.60 L303.58 171.60 L303.76 171.60 L303.94 171.59 L304.12 171.59 L304.30 171.59 L304.49 171.59 L304.67 171.59 L304.85 171.58 L305.03 171.58 L305.21 171.58 L305.40 171.58 L305.58 171.58 L305.76 171.57 L305.94 171.57 L306.12 171.57 L306.31 171.57 L306.49 171.57 L306.67 171.56 L306.85 171.56 L307.03 171.56 L307.21 171.56 L307.40 171.56 L307.58 171.55 L307.76 171.55 L307.94 171.55 L308.12 171.55 L308.31 171.55 L308.49 171.54 L308.67 171.54 L308.85 171.54 L309.03 171.54 L309.22 171.54 L309.40 171.53 L309.58 171.53 L309.76 171.53 L309.94 171.53 L310.12 171.53 L310.31 171.53 L310.49 171.52 L310.67 171.52 L310.85 171.52 L311.03 171.52 L311.22 171.52 L311.40 171.51 L311.58 171.51 L311.76 171.51 L311.94 171.51 L312.13 171.51 L312.31 171.50 L312.49 171.50 L312.67 171.50 L312.85 171.50 L313.04 171.50 L313.22 171.49 L313.40 171.49 L313.58 171.49 L313.76 171.49 L313.94 171.49 L314.13 171.49 L314.31 171.48 L314.49 171.48 L314.67 171.48 L314.85 171.48 L315.04 171.48 L315.22 171.47 L315.40 171.47 L315.58 171.47 L315.76 171.47 L315.95 171.47 L316.13 171.47 L316.31 171.46 L316.49 171.46 L316.67 171.46 L316.86 171.46 L317.04 171.46 L317.22 171.45 L317.40 171.45 L317.58 171.45 L317.76 171.45 L317.95 171.45 L318.13 171.45 L318.31 171.44 L318.49 171.44 L318.67 171.44 L318.86 171.44 L319.04 171.44 L319.22 171.44 L319.40 171.43 L319.58 171.43 L319.77 171.43 L319.95 171.43 L320.13 171.43 L320.31 171.43 L320.49 171.42 L320.68 171.42 L320.86 171.42 L321.04 171.42 L321.22 171.42 L321.40 171.41 L321.58 171.41 L321.77 171.41 L321.95 171.41 L322.13 171.41 L322.31 171.41 L322.49 171.40 L322.68 171.40 L322.86 171.40 L323.04 171.40 L323.22 171.40 L323.40 171.40 L323.59 171.39 L323.77 171.39 L323.95 171.39 L324.13 171.39 L324.31 171.39 L324.50 171.39 L324.68 171.38 L324.86 171.38 L325.04 171.38 L325.22 171.38 L325.40 171.38 L325.59 171.38 L325.77 171.38 L325.95 171.37 L326.13 171.37 L326.31 171.37 L326.50 171.37 L326.68 171.37 L326.86 171.37 L327.04 171.36 L327.22 171.36 L327.41 171.36 L327.59 171.36 L327.77 171.36 L327.95 171.36 L328.13 171.35 L328.32 171.35 L328.50 171.35 L328.68 171.35 L328.86 171.35 L329.04 171.35 L329.22 171.35 L329.41 171.34 L329.59 171.34 L329.77 171.34 L329.95 171.34 L330.13 171.34 L330.32 171.34 L330.50 171.33 L330.68 171.33 L330.86 171.33 L331.04 171.33 L331.23 171.33 L331.41 171.33 L331.59 171.33 L331.77 171.32 L331.95 171.32 L332.13 171.32 L332.32 171.32 L332.50 171.32 L332.68 171.32 L332.86 171.31 L333.04 171.31 L333.23 171.31 L333.41 171.31 L333.59 171.31 L333.77 171.31 L333.95 171.31 L334.14 171.30 L334.32 171.30 L334.50 171.30 L334.68 171.30 L334.86 171.30 L335.05 171.30 L335.23 171.30 L335.41 171.29 L335.59 171.29 L335.77 171.29 L335.95 171.29 L336.14 171.29 L336.32 171.29 L336.50 171.29 L336.68 171.28 L336.86 171.28 L337.05 171.28 L337.23 171.28 L337.41 171.28 L337.59 171.28 L337.77 171.28 L337.96 171.27 L338.14 171.27 L338.32 171.27 L338.50 171.27 L338.68 171.27 L338.87 171.27 L339.05 171.27 L339.23 171.26 L339.41 171.26 L339.59 171.26 L339.77 171.26 L339.96 171.26 L340.14 171.26 L340.32 171.26 L340.50 171.25 L340.68 171.25 L340.87 171.25 L341.05 171.25 L341.23 171.25 L341.41 171.25 L341.59 171.25 L341.78 171.24 L341.96 171.24 L342.14 171.24 L342.32 171.24 L342.50 171.24 L342.69 171.24 L342.87 171.24 L343.05 171.23 L343.23 171.23 L343.41 171.23 L343.59 171.23 L343.78 171.23 L343.96 171.23 L344.14 171.23 L344.32 171.23 L344.50 171.22 L344.69 171.22 L344.87 171.22 L345.05 171.22 L345.23 171.22 L345.41 171.22 L345.60 171.22 L345.78 171.22 L345.96 171.21 L346.14 171.21 L346.32 171.21 L346.50 171.21 L346.69 171.21 L346.87 171.21 L347.05 171.21 L347.23 171.20 L347.41 171.20 L347.60 171.20 L347.78 171.20 L347.96 171.20 L348.14 171.20 L348.32 171.20 L348.51 171.20 L348.69 171.19 L348.87 171.19 L349.05 171.19 L349.23 171.19 L349.42 171.19 L349.60 171.19 L349.78 171.19 L349.96 171.19 L350.14 171.18 L350.32 171.18 L350.51 171.18 L350.69 171.18 L350.87 171.18 L351.05 171.18 L351.23 171.18 L351.42 171.18 L351.60 171.17 L351.78 171.17 L351.96 171.17 L352.14 171.17 L352.33 171.17 L352.51 171.17 L352.69 171.17 L352.87 171.17 L353.05 171.16 L353.24 171.16 L353.42 171.16 L353.60 171.16 L353.78 171.16 L353.96 171.16 L354.14 171.16 L354.33 171.16 L354.51 171.16 L354.69 171.15 L354.87 171.15 L355.05 171.15 L355.24 171.15 L355.42 171.15 L355.60 171.15" fill="none" stroke="#5a92e8" stroke-width="1.05" stroke-linejoin="round"/>
<path d="M173.70 179.30 L173.88 179.05 L174.06 179.89 L174.25 180.49 L174.43 180.48 L174.61 181.22 L174.79 181.38 L174.97 181.98 L175.16 181.97 L175.34 182.69 L175.52 182.83 L175.70 183.41 L175.88 183.40 L176.06 184.10 L176.25 184.21 L176.43 184.79 L176.61 184.79 L176.79 185.45 L176.97 185.54 L177.16 186.12 L177.34 186.12 L177.52 186.75 L177.70 186.81 L177.88 187.39 L178.07 187.39 L178.25 188.00 L178.43 188.04 L178.61 188.61 L178.79 188.62 L178.98 189.20 L179.16 189.23 L179.34 189.78 L179.52 189.80 L179.70 190.35 L179.88 190.37 L180.07 190.91 L180.25 190.92 L180.43 191.45 L180.61 191.47 L180.79 191.99 L180.98 192.00 L181.16 192.51 L181.34 192.52 L181.52 193.02 L181.70 193.04 L181.89 193.53 L182.07 193.54 L182.25 194.02 L182.43 194.03 L182.61 194.50 L182.79 194.51 L182.98 194.97 L183.16 194.99 L183.34 195.44 L183.52 195.45 L183.70 195.89 L183.89 195.91 L184.07 196.34 L184.25 196.35 L184.43 196.77 L184.61 196.79 L184.80 197.20 L184.98 197.22 L185.16 197.62 L185.34 197.64 L185.52 198.03 L185.71 198.06 L185.89 198.44 L186.07 198.46 L186.25 198.84 L186.43 198.86 L186.61 199.22 L186.80 199.25 L186.98 199.61 L187.16 199.64 L187.34 199.98 L187.52 200.01 L187.71 200.35 L187.89 200.38 L188.07 200.71 L188.25 200.75 L188.43 201.06 L188.62 201.11 L188.80 201.41 L188.98 201.46 L189.16 201.75 L189.34 201.80 L189.53 202.09 L189.71 202.14 L189.89 202.42 L190.07 202.48 L190.25 202.75 L190.43 202.80 L190.62 203.06 L190.80 203.13 L190.98 203.38 L191.16 203.44 L191.34 203.69 L191.53 203.76 L191.71 203.99 L191.89 204.06 L192.07 204.29 L192.25 204.37 L192.44 204.58 L192.62 204.67 L192.80 204.87 L192.98 204.96 L193.16 205.16 L193.35 205.25 L193.53 205.44 L193.71 205.53 L193.89 205.71 L194.07 205.81 L194.25 205.99 L194.44 206.09 L194.62 206.26 L194.80 206.36 L194.98 206.52 L195.16 206.63 L195.35 206.79 L195.53 206.90 L195.71 207.05 L195.89 207.16 L196.07 207.30 L196.26 207.42 L196.44 207.56 L196.62 207.67 L196.80 207.81 L196.98 207.92 L197.17 208.06 L197.35 208.17 L197.53 208.30 L197.71 208.42 L197.89 208.54 L198.07 208.66 L198.26 208.78 L198.44 208.90 L198.62 209.02 L198.80 209.14 L198.98 209.25 L199.17 209.37 L199.35 209.49 L199.53 209.60 L199.71 209.71 L199.89 209.83 L200.08 209.94 L200.26 210.05 L200.44 210.17 L200.62 210.28 L200.80 210.39 L200.98 210.50 L201.17 210.61 L201.35 210.72 L201.53 210.82 L201.71 210.93 L201.89 211.04 L202.08 211.14 L202.26 211.25 L202.44 211.36 L202.62 211.46 L202.80 211.56 L202.99 211.67 L203.17 211.77 L203.35 211.87 L203.53 211.98 L203.71 212.08 L203.90 212.18 L204.08 212.28 L204.26 212.38 L204.44 212.48 L204.62 212.58 L204.80 212.67 L204.99 212.77 L205.17 212.87 L205.35 212.97 L205.53 213.06 L205.71 213.16 L205.90 213.25 L206.08 213.35 L206.26 213.44 L206.44 213.54 L206.62 213.63 L206.81 213.72 L206.99 213.82 L207.17 213.91 L207.35 214.00 L207.53 214.09 L207.72 214.18 L207.90 214.27 L208.08 214.36 L208.26 214.45 L208.44 214.54 L208.62 214.63 L208.81 214.72 L208.99 214.80 L209.17 214.89 L209.35 214.98 L209.53 215.07 L209.72 215.15 L209.90 215.24 L210.08 215.32 L210.26 215.41 L210.44 215.49 L210.63 215.58 L210.81 215.66 L210.99 215.74 L211.17 215.83 L211.35 215.91 L211.54 215.99 L211.72 216.07 L211.90 216.15 L212.08 216.24 L212.26 216.32 L212.44 216.40 L212.63 216.48 L212.81 216.56 L212.99 216.64 L213.17 216.72 L213.35 216.79 L213.54 216.87 L213.72 216.95 L213.90 217.03 L214.08 217.10 L214.26 217.18 L214.45 217.26 L214.63 217.33 L214.81 217.41 L214.99 217.49 L215.17 217.56 L215.36 217.64 L215.54 217.71 L215.72 217.79 L215.90 217.86 L216.08 217.93 L216.26 218.01 L216.45 218.08 L216.63 218.15 L216.81 218.22 L216.99 218.30 L217.17 218.37 L217.36 218.44 L217.54 218.51 L217.72 218.58 L217.90 218.65 L218.08 218.72 L218.27 218.79 L218.45 218.86 L218.63 218.93 L218.81 219.00 L218.99 219.07 L219.18 219.14 L219.36 219.21 L219.54 219.28 L219.72 219.34 L219.90 219.41 L220.08 219.48 L220.27 219.55 L220.45 219.61 L220.63 219.68 L220.81 219.75 L220.99 219.81 L221.18 219.88 L221.36 219.94 L221.54 220.01 L221.72 220.07 L221.90 220.14 L222.09 220.20 L222.27 220.27 L222.45 220.33 L222.63 220.39 L222.81 220.46 L222.99 220.52 L223.18 220.58 L223.36 220.65 L223.54 220.71 L223.72 220.77 L223.90 220.83 L224.09 220.89 L224.27 220.96 L224.45 221.02 L224.63 221.08 L224.81 221.14 L225.00 221.20 L225.18 221.26 L225.36 221.32 L225.54 221.38 L225.72 221.44 L225.91 221.50 L226.09 221.56 L226.27 221.62 L226.45 221.68 L226.63 221.74 L226.81 221.79 L227.00 221.85 L227.18 221.91 L227.36 221.97 L227.54 222.03 L227.72 222.08 L227.91 222.14 L228.09 222.20 L228.27 222.25 L228.45 222.31 L228.63 222.37 L228.82 222.42 L229.00 222.48 L229.18 222.53 L229.36 222.59 L229.54 222.64 L229.73 222.70 L229.91 222.75 L230.09 222.81 L230.27 222.86 L230.45 222.92 L230.63 222.97 L230.82 223.03 L231.00 223.08 L231.18 223.13 L231.36 223.19 L231.54 223.24 L231.73 223.29 L231.91 223.35 L232.09 223.40 L232.27 223.45 L232.45 223.50 L232.64 223.56 L232.82 223.61 L233.00 223.66 L233.18 223.71 L233.36 223.76 L233.55 223.81 L233.73 223.87 L233.91 223.92 L234.09 223.97 L234.27 224.02 L234.45 224.07 L234.64 224.12 L234.82 224.17 L235.00 224.22 L235.18 224.27 L235.36 224.32 L235.55 224.37 L235.73 224.42 L235.91 224.47 L236.09 224.51 L236.27 224.56 L236.46 224.61 L236.64 224.66 L236.82 224.71 L237.00 224.76 L237.18 224.80 L237.37 224.85 L237.55 224.90 L237.73 224.95 L237.91 224.99 L238.09 225.04 L238.27 225.09 L238.46 225.14 L238.64 225.18 L238.82 225.23 L239.00 225.28 L239.18 225.32 L239.37 225.37 L239.55 225.41 L239.73 225.46 L239.91 225.50 L240.09 225.55 L240.28 225.60 L240.46 225.64 L240.64 225.69 L240.82 225.73 L241.00 225.78 L241.18 225.82 L241.37 225.87 L241.55 225.91 L241.73 225.95 L241.91 226.00 L242.09 226.04 L242.28 226.09 L242.46 226.13 L242.64 226.17 L242.82 226.22 L243.00 226.26 L243.19 226.30 L243.37 226.35 L243.55 226.39 L243.73 226.43 L243.91 226.47 L244.10 226.52 L244.28 226.56 L244.46 226.60 L244.64 226.64 L244.82 226.69 L245.00 226.73 L245.19 226.77 L245.37 226.81 L245.55 226.85 L245.73 226.89 L245.91 226.93 L246.10 226.98 L246.28 227.02 L246.46 227.06 L246.64 227.10 L246.82 227.14 L247.01 227.18 L247.19 227.22 L247.37 227.26 L247.55 227.30 L247.73 227.34 L247.92 227.38 L248.10 227.42 L248.28 227.46 L248.46 227.50 L248.64 227.54 L248.82 227.58 L249.01 227.62 L249.19 227.66 L249.37 227.70 L249.55 227.73 L249.73 227.77 L249.92 227.81 L250.10 227.85 L250.28 227.89 L250.46 227.93 L250.64 227.97 L250.83 228.00 L251.01 228.04 L251.19 228.08 L251.37 228.12 L251.55 228.15 L251.74 228.19 L251.92 228.23 L252.10 228.27 L252.28 228.30 L252.46 228.34 L252.64 228.38 L252.83 228.41 L253.01 228.45 L253.19 228.49 L253.37 228.52 L253.55 228.56 L253.74 228.60 L253.92 228.63 L254.10 228.67 L254.28 228.71 L254.46 228.74 L254.65 228.78 L254.83 228.81 L255.01 228.85 L255.19 228.88 L255.37 228.92 L255.56 228.96 L255.74 228.99 L255.92 229.03 L256.10 229.06 L256.28 229.10 L256.46 229.13 L256.65 229.17 L256.83 229.20 L257.01 229.23 L257.19 229.27 L257.37 229.30 L257.56 229.34 L257.74 229.37 L257.92 229.41 L258.10 229.44 L258.28 229.47 L258.47 229.51 L258.65 229.54 L258.83 229.58 L259.01 229.61 L259.19 229.64 L259.37 229.68 L259.56 229.71 L259.74 229.74 L259.92 229.78 L260.10 229.81 L260.28 229.84 L260.47 229.87 L260.65 229.91 L260.83 229.94 L261.01 229.97 L261.19 230.00 L261.38 230.04 L261.56 230.07 L261.74 230.10 L261.92 230.13 L262.10 230.17 L262.29 230.20 L262.47 230.23 L262.65 230.26 L262.83 230.29 L263.01 230.32 L263.19 230.36 L263.38 230.39 L263.56 230.42 L263.74 230.45 L263.92 230.48 L264.10 230.51 L264.29 230.54 L264.47 230.57 L264.65 230.61 L264.83 230.64 L265.01 230.67 L265.20 230.70 L265.38 230.73 L265.56 230.76 L265.74 230.79 L265.92 230.82 L266.11 230.85 L266.29 230.88 L266.47 230.91 L266.65 230.94 L266.83 230.97 L267.01 231.00 L267.20 231.03 L267.38 231.06 L267.56 231.09 L267.74 231.12 L267.92 231.15 L268.11 231.18 L268.29 231.21 L268.47 231.24 L268.65 231.27 L268.83 231.29 L269.02 231.32 L269.20 231.35 L269.38 231.38 L269.56 231.41 L269.74 231.44 L269.93 231.47 L270.11 231.50 L270.29 231.52 L270.47 231.55 L270.65 231.58 L270.83 231.61 L271.02 231.64 L271.20 231.67 L271.38 231.69 L271.56 231.72 L271.74 231.75 L271.93 231.78 L272.11 231.81 L272.29 231.83 L272.47 231.86 L272.65 231.89 L272.84 231.92 L273.02 231.94 L273.20 231.97 L273.38 232.00 L273.56 232.03 L273.75 232.05 L273.93 232.08 L274.11 232.11 L274.29 232.13 L274.47 232.16 L274.65 232.19 L274.84 232.21 L275.02 232.24 L275.20 232.27 L275.38 232.29 L275.56 232.32 L275.75 232.35 L275.93 232.37 L276.11 232.40 L276.29 232.43 L276.47 232.45 L276.66 232.48 L276.84 232.51 L277.02 232.53 L277.20 232.56 L277.38 232.58 L277.56 232.61 L277.75 232.63 L277.93 232.66 L278.11 232.69 L278.29 232.71 L278.47 232.74 L278.66 232.76 L278.84 232.79 L279.02 232.81 L279.20 232.84 L279.38 232.86 L279.57 232.89 L279.75 232.91 L279.93 232.94 L280.11 232.96 L280.29 232.99 L280.48 233.01 L280.66 233.04 L280.84 233.06 L281.02 233.09 L281.20 233.11 L281.38 233.14 L281.57 233.16 L281.75 233.19 L281.93 233.21 L282.11 233.23 L282.29 233.26 L282.48 233.28 L282.66 233.31 L282.84 233.33 L283.02 233.36 L283.20 233.38 L283.39 233.40 L283.57 233.43 L283.75 233.45 L283.93 233.47 L284.11 233.50 L284.30 233.52 L284.48 233.55 L284.66 233.57 L284.84 233.59 L285.02 233.62 L285.20 233.64 L285.39 233.66 L285.57 233.69 L285.75 233.71 L285.93 233.73 L286.11 233.76 L286.30 233.78 L286.48 233.80 L286.66 233.82 L286.84 233.85 L287.02 233.87 L287.21 233.89 L287.39 233.92 L287.57 233.94 L287.75 233.96 L287.93 233.98 L288.12 234.01 L288.30 234.03 L288.48 234.05 L288.66 234.07 L288.84 234.10 L289.02 234.12 L289.21 234.14 L289.39 234.16 L289.57 234.18 L289.75 234.21 L289.93 234.23 L290.12 234.25 L290.30 234.27 L290.48 234.29 L290.66 234.32 L290.84 234.34 L291.03 234.36 L291.21 234.38 L291.39 234.40 L291.57 234.42 L291.75 234.45 L291.94 234.47 L292.12 234.49 L292.30 234.51 L292.48 234.53 L292.66 234.55 L292.84 234.57 L293.03 234.60 L293.21 234.62 L293.39 234.64 L293.57 234.66 L293.75 234.68 L293.94 234.70 L294.12 234.72 L294.30 234.74 L294.48 234.76 L294.66 234.78 L294.85 234.80 L295.03 234.82 L295.21 234.85 L295.39 234.87 L295.57 234.89 L295.75 234.91 L295.94 234.93 L296.12 234.95 L296.30 234.97 L296.48 234.99 L296.66 235.01 L296.85 235.03 L297.03 235.05 L297.21 235.07 L297.39 235.09 L297.57 235.11 L297.76 235.13 L297.94 235.15 L298.12 235.17 L298.30 235.19 L298.48 235.21 L298.67 235.23 L298.85 235.25 L299.03 235.27 L299.21 235.29 L299.39 235.31 L299.57 235.33 L299.76 235.35 L299.94 235.37 L300.12 235.39 L300.30 235.40 L300.48 235.42 L300.67 235.44 L300.85 235.46 L301.03 235.48 L301.21 235.50 L301.39 235.52 L301.58 235.54 L301.76 235.56 L301.94 235.58 L302.12 235.60 L302.30 235.62 L302.49 235.63 L302.67 235.65 L302.85 235.67 L303.03 235.69 L303.21 235.71 L303.39 235.73 L303.58 235.75 L303.76 235.77 L303.94 235.78 L304.12 235.80 L304.30 235.82 L304.49 235.84 L304.67 235.86 L304.85 235.88 L305.03 235.89 L305.21 235.91 L305.40 235.93 L305.58 235.95 L305.76 235.97 L305.94 235.99 L306.12 236.00 L306.31 236.02 L306.49 236.04 L306.67 236.06 L306.85 236.08 L307.03 236.09 L307.21 236.11 L307.40 236.13 L307.58 236.15 L307.76 236.16 L307.94 236.18 L308.12 236.20 L308.31 236.22 L308.49 236.23 L308.67 236.25 L308.85 236.27 L309.03 236.29 L309.22 236.30 L309.40 236.32 L309.58 236.34 L309.76 236.36 L309.94 236.37 L310.12 236.39 L310.31 236.41 L310.49 236.43 L310.67 236.44 L310.85 236.46 L311.03 236.48 L311.22 236.49 L311.40 236.51 L311.58 236.53 L311.76 236.55 L311.94 236.56 L312.13 236.58 L312.31 236.60 L312.49 236.61 L312.67 236.63 L312.85 236.65 L313.04 236.66 L313.22 236.68 L313.40 236.70 L313.58 236.71 L313.76 236.73 L313.94 236.75 L314.13 236.76 L314.31 236.78 L314.49 236.80 L314.67 236.81 L314.85 236.83 L315.04 236.84 L315.22 236.86 L315.40 236.88 L315.58 236.89 L315.76 236.91 L315.95 236.93 L316.13 236.94 L316.31 236.96 L316.49 236.97 L316.67 236.99 L316.86 237.01 L317.04 237.02 L317.22 237.04 L317.40 237.05 L317.58 237.07 L317.76 237.09 L317.95 237.10 L318.13 237.12 L318.31 237.13 L318.49 237.15 L318.67 237.16 L318.86 237.18 L319.04 237.20 L319.22 237.21 L319.40 237.23 L319.58 237.24 L319.77 237.26 L319.95 237.27 L320.13 237.29 L320.31 237.30 L320.49 237.32 L320.68 237.33 L320.86 237.35 L321.04 237.36 L321.22 237.38 L321.40 237.40 L321.58 237.41 L321.77 237.43 L321.95 237.44 L322.13 237.46 L322.31 237.47 L322.49 237.49 L322.68 237.50 L322.86 237.52 L323.04 237.53 L323.22 237.55 L323.40 237.56 L323.59 237.58 L323.77 237.59 L323.95 237.60 L324.13 237.62 L324.31 237.63 L324.50 237.65 L324.68 237.66 L324.86 237.68 L325.04 237.69 L325.22 237.71 L325.40 237.72 L325.59 237.74 L325.77 237.75 L325.95 237.77 L326.13 237.78 L326.31 237.79 L326.50 237.81 L326.68 237.82 L326.86 237.84 L327.04 237.85 L327.22 237.87 L327.41 237.88 L327.59 237.89 L327.77 237.91 L327.95 237.92 L328.13 237.94 L328.32 237.95 L328.50 237.96 L328.68 237.98 L328.86 237.99 L329.04 238.01 L329.22 238.02 L329.41 238.03 L329.59 238.05 L329.77 238.06 L329.95 238.08 L330.13 238.09 L330.32 238.10 L330.50 238.12 L330.68 238.13 L330.86 238.14 L331.04 238.16 L331.23 238.17 L331.41 238.19 L331.59 238.20 L331.77 238.21 L331.95 238.23 L332.13 238.24 L332.32 238.25 L332.50 238.27 L332.68 238.28 L332.86 238.29 L333.04 238.31 L333.23 238.32 L333.41 238.33 L333.59 238.35 L333.77 238.36 L333.95 238.37 L334.14 238.39 L334.32 238.40 L334.50 238.41 L334.68 238.43 L334.86 238.44 L335.05 238.45 L335.23 238.47 L335.41 238.48 L335.59 238.49 L335.77 238.50 L335.95 238.52 L336.14 238.53 L336.32 238.54 L336.50 238.56 L336.68 238.57 L336.86 238.58 L337.05 238.60 L337.23 238.61 L337.41 238.62 L337.59 238.63 L337.77 238.65 L337.96 238.66 L338.14 238.67 L338.32 238.68 L338.50 238.70 L338.68 238.71 L338.87 238.72 L339.05 238.73 L339.23 238.75 L339.41 238.76 L339.59 238.77 L339.77 238.78 L339.96 238.80 L340.14 238.81 L340.32 238.82 L340.50 238.83 L340.68 238.85 L340.87 238.86 L341.05 238.87 L341.23 238.88 L341.41 238.90 L341.59 238.91 L341.78 238.92 L341.96 238.93 L342.14 238.94 L342.32 238.96 L342.50 238.97 L342.69 238.98 L342.87 238.99 L343.05 239.00 L343.23 239.02 L343.41 239.03 L343.59 239.04 L343.78 239.05 L343.96 239.06 L344.14 239.08 L344.32 239.09 L344.50 239.10 L344.69 239.11 L344.87 239.12 L345.05 239.14 L345.23 239.15 L345.41 239.16 L345.60 239.17 L345.78 239.18 L345.96 239.19 L346.14 239.21 L346.32 239.22 L346.50 239.23 L346.69 239.24 L346.87 239.25 L347.05 239.26 L347.23 239.28 L347.41 239.29 L347.60 239.30 L347.78 239.31 L347.96 239.32 L348.14 239.33 L348.32 239.34 L348.51 239.36 L348.69 239.37 L348.87 239.38 L349.05 239.39 L349.23 239.40 L349.42 239.41 L349.60 239.42 L349.78 239.43 L349.96 239.45 L350.14 239.46 L350.32 239.47 L350.51 239.48 L350.69 239.49 L350.87 239.50 L351.05 239.51 L351.23 239.52 L351.42 239.53 L351.60 239.55 L351.78 239.56 L351.96 239.57 L352.14 239.58 L352.33 239.59 L352.51 239.60 L352.69 239.61 L352.87 239.62 L353.05 239.63 L353.24 239.64 L353.42 239.65 L353.60 239.67 L353.78 239.68 L353.96 239.69 L354.14 239.70 L354.33 239.71 L354.51 239.72 L354.69 239.73 L354.87 239.74 L355.05 239.75 L355.24 239.76 L355.42 239.77 L355.60 239.78" fill="none" stroke="#d37e69" stroke-width="1.0"/>
<polygon points="173.4,173.3 185.2,174.0 185.4,172.0 194.5,175.2 186,179.6 185.6,178.0 173.4,178.6" fill="#4b82e2"/>
<line x1="239.5" x2="245" y1="143" y2="143" stroke="#4f8ae6" stroke-width="1.5"/><text x="247.5" y="144.7" font-size="5" fill="#555">a</text>
<line x1="261" x2="266.5" y1="143" y2="143" stroke="#d0604e" stroke-width="1.5"/><text x="269" y="144.7" font-size="5" fill="#555">b</text>
</svg>
</div>
<div style="position:absolute;left:0;top:0;width:978px;height:0.9px;background:#d3adad"></div>
<div class="title" style="left:27px;top:7px;width:369.2px;height:53.4px;line-height:52.9px;">Gradient calculation</div>
<div class="title" style="left:537.4px;top:7px;width:369.2px;height:53.4px;line-height:52.9px;">Parameter update</div>
<div class="rbox" style="left:351px;top:78.4px;width:62.5px;height:340px;"></div>
<div class="rbox" style="left:415.8px;top:78.4px;width:54.2px;height:340px;"></div>
<svg width="978" height="400" viewBox="0 0 978 400">
<g stroke="#8e2a23" stroke-width="1.2" fill="#8e2a23">
<line x1="330.3" y1="355" x2="347.3" y2="296.5"/>
<polygon points="351.9,284.8 343,295.5 351.5,298.3" stroke="none"/>
<line x1="483" y1="285.4" x2="697" y2="330.9"/>
<polygon points="470.3,283 484.2,280.8 483.2,289.8" stroke="none"/>
</g>
</svg>
<div class="fbox" style="left:42.6px;top:290.8px;width:288.6px;height:130px;"></div>
<div class="fbox" style="left:560.8px;top:329.3px;width:268.4px;height:90px;border-width:1.7px"></div>
<div class="m" style="left:66.00px;top:303.72px;font-size:18.60px;transform:scale(1.1241,1.0000);transform-origin:0 15.58px;-webkit-text-stroke:0.4px #262626;"><i>∂</i>LogLoss</div>
<div style="position:absolute;left:66.00px;top:327.15px;width:82.30px;height:0.90px;background:#666"></div>
<div class="m" style="left:96.00px;top:330.42px;font-size:18.60px;transform:scale(1.2865,1.0000);transform-origin:0 15.58px;-webkit-text-stroke:0.4px #262626;"><i>∂a</i></div>
<div class="m" style="left:157.10px;top:318.92px;font-size:18.60px;transform:scale(1.5810,1.0000);transform-origin:0 15.58px;-webkit-text-stroke:0.4px #262626;">=</div>
<div class="m" style="left:180.90px;top:304.02px;font-size:18.60px;transform:scale(1.2370,0.9400);transform-origin:0 15.58px;-webkit-text-stroke:0.4px #262626;">1</div>
<div style="position:absolute;left:179.80px;top:327.15px;width:12.50px;height:0.90px;background:#666"></div>
<div class="m" style="left:180.00px;top:330.42px;font-size:18.60px;font-style:italic;transform:scale(1.4629,1.0000);transform-origin:0 15.58px;-webkit-text-stroke:0.22px #262626;">n</div>
<svg style="position:absolute;left:200.00px;top:313.20px;overflow:visible" width="25.00" height="28.00" viewBox="0 0 100 115" preserveAspectRatio="none"><path d="M2 0 H86 L96 27 H92 C86 12 76 6 56 6 H20 L57 54 L16 104 H58 C78 104 88 97 94 80 H98 L88 115 H2 V111 L43 60 L2 4 Z" fill="#222"/></svg>
<div class="m" style="left:211.20px;top:345.25px;font-size:12.00px;font-style:italic;-webkit-text-stroke:0.22px #262626;">i</div>
<div class="m" style="left:227.30px;top:320.52px;font-size:18.60px;transform:scale(0.9995,1.0500);transform-origin:0 15.58px;-webkit-text-stroke:0.4px #262626;">(</div>
<div class="m" style="left:233.40px;top:319.02px;font-size:18.60px;font-style:italic;transform:scale(1.2908,1.0000);transform-origin:0 15.58px;-webkit-text-stroke:0.22px #262626;">p</div>
<div class="m" style="left:245.80px;top:327.55px;font-size:12.00px;font-style:italic;-webkit-text-stroke:0.22px #262626;">i</div>
<div class="m" style="left:257.30px;top:321.52px;font-size:18.60px;transform:scale(1.2857,1.0000);transform-origin:0 15.58px;-webkit-text-stroke:0.4px #262626;">−</div>
<div class="m" style="left:277.00px;top:319.02px;font-size:18.60px;font-style:italic;transform:scale(1.2703,1.0000);transform-origin:0 15.58px;-webkit-text-stroke:0.22px #262626;">y</div>
<div class="m" style="left:288.20px;top:327.55px;font-size:12.00px;font-style:italic;-webkit-text-stroke:0.22px #262626;">i</div>
<div class="m" style="left:292.80px;top:320.52px;font-size:18.60px;transform:scale(0.9995,1.0500);transform-origin:0 15.58px;-webkit-text-stroke:0.4px #262626;">)</div>
<div class="m" style="left:299.80px;top:319.02px;font-size:18.60px;font-style:italic;transform:scale(1.3066,1.0000);transform-origin:0 15.58px;-webkit-text-stroke:0.22px #262626;">x</div>
<div class="m" style="left:311.60px;top:327.55px;font-size:12.00px;font-style:italic;-webkit-text-stroke:0.22px #262626;">i</div>
<div class="m" style="left:74.30px;top:373.02px;font-size:18.60px;transform:scale(1.1241,1.0000);transform-origin:0 15.58px;-webkit-text-stroke:0.4px #262626;"><i>∂</i>LogLoss</div>
<div style="position:absolute;left:74.30px;top:396.45px;width:82.30px;height:0.90px;background:#666"></div>
<div class="m" style="left:104.30px;top:399.72px;font-size:18.60px;transform:scale(1.2865,1.0000);transform-origin:0 15.58px;-webkit-text-stroke:0.4px #262626;"><i>∂b</i></div>
<div class="m" style="left:165.40px;top:388.22px;font-size:18.60px;transform:scale(1.5810,1.0000);transform-origin:0 15.58px;-webkit-text-stroke:0.4px #262626;">=</div>
<div class="m" style="left:189.20px;top:373.32px;font-size:18.60px;transform:scale(1.2370,0.9400);transform-origin:0 15.58px;-webkit-text-stroke:0.4px #262626;">1</div>
<div style="position:absolute;left:188.10px;top:396.45px;width:12.50px;height:0.90px;background:#666"></div>
<div class="m" style="left:188.30px;top:399.72px;font-size:18.60px;font-style:italic;transform:scale(1.4629,1.0000);transform-origin:0 15.58px;-webkit-text-stroke:0.22px #262626;">n</div>
<svg style="position:absolute;left:209.00px;top:382.50px;overflow:visible" width="25.00" height="28.00" viewBox="0 0 100 115" preserveAspectRatio="none"><path d="M2 0 H86 L96 27 H92 C86 12 76 6 56 6 H20 L57 54 L16 104 H58 C78 104 88 97 94 80 H98 L88 115 H2 V111 L43 60 L2 4 Z" fill="#222"/></svg>
<div class="m" style="left:236.30px;top:389.82px;font-size:18.60px;transform:scale(0.9995,1.0500);transform-origin:0 15.58px;-webkit-text-stroke:0.4px #262626;">(</div>
<div class="m" style="left:242.40px;top:388.32px;font-size:18.60px;font-style:italic;transform:scale(1.2908,1.0000);transform-origin:0 15.58px;-webkit-text-stroke:0.22px #262626;">p</div>
<div class="m" style="left:254.80px;top:396.85px;font-size:12.00px;font-style:italic;-webkit-text-stroke:0.22px #262626;">i</div>
<div class="m" style="left:266.30px;top:390.82px;font-size:18.60px;transform:scale(1.2857,1.0000);transform-origin:0 15.58px;-webkit-text-stroke:0.4px #262626;">−</div>
<div class="m" style="left:286.00px;top:388.32px;font-size:18.60px;font-style:italic;transform:scale(1.2703,1.0000);transform-origin:0 15.58px;-webkit-text-stroke:0.22px #262626;">y</div>
<div class="m" style="left:297.20px;top:396.85px;font-size:12.00px;font-style:italic;-webkit-text-stroke:0.22px #262626;">i</div>
<div class="m" style="left:301.80px;top:389.82px;font-size:18.60px;transform:scale(0.9995,1.0500);transform-origin:0 15.58px;-webkit-text-stroke:0.4px #262626;">)</div>
<div class="m" style="left:591.30px;top:346.04px;font-size:25.50px;font-style:italic;transform:scale(1.0667,1.0000);transform-origin:0 21.36px;-webkit-text-stroke:0.22px #262626;">a</div>
<div class="m" style="left:605.00px;top:355.98px;font-size:16.50px;transform:scale(0.9055,1.0000);transform-origin:0 13.82px;-webkit-text-stroke:0.4px #262626;">new</div>
<div class="m" style="left:638.60px;top:349.44px;font-size:25.50px;transform:scale(1.3203,1.0000);transform-origin:0 21.36px;-webkit-text-stroke:0.4px #262626;">=</div>
<div class="m" style="left:663.10px;top:346.04px;font-size:25.50px;font-style:italic;transform:scale(1.0667,1.0000);transform-origin:0 21.36px;-webkit-text-stroke:0.22px #262626;">a</div>
<div class="m" style="left:676.70px;top:355.98px;font-size:16.50px;transform:scale(0.9007,1.0000);transform-origin:0 13.82px;-webkit-text-stroke:0.4px #262626;">old</div>
<div class="m" style="left:703.40px;top:348.24px;font-size:25.50px;transform:scale(1.0423,1.0000);transform-origin:0 21.36px;-webkit-text-stroke:0.4px #262626;">−</div>
<div class="m" style="left:725.20px;top:348.61px;font-size:22.44px;font-style:italic;transform:scale(1.1220,1.0000);transform-origin:0 18.79px;-webkit-text-stroke:0.22px #262626;">η</div>
<div class="m" style="left:741.20px;top:348.24px;font-size:25.50px;-webkit-text-stroke:0.4px #262626;">·</div>
<div class="m" style="left:754.00px;top:346.04px;font-size:25.50px;transform:scale(0.9843,1.0000);transform-origin:0 21.36px;-webkit-text-stroke:0.4px #262626;">grad</div>
<div class="m" style="left:798.40px;top:357.18px;font-size:16.50px;font-style:italic;transform:scale(1.0667,1.0000);transform-origin:0 13.82px;-webkit-text-stroke:0.22px #262626;">a</div>
<div class="m" style="left:591.30px;top:392.84px;font-size:25.50px;font-style:italic;transform:scale(1.0667,1.0000);transform-origin:0 21.36px;-webkit-text-stroke:0.22px #262626;">b</div>
<div class="m" style="left:605.00px;top:402.78px;font-size:16.50px;transform:scale(0.9055,1.0000);transform-origin:0 13.82px;-webkit-text-stroke:0.4px #262626;">new</div>
<div class="m" style="left:638.60px;top:396.24px;font-size:25.50px;transform:scale(1.3203,1.0000);transform-origin:0 21.36px;-webkit-text-stroke:0.4px #262626;">=</div>
<div class="m" style="left:663.10px;top:392.84px;font-size:25.50px;font-style:italic;transform:scale(1.0667,1.0000);transform-origin:0 21.36px;-webkit-text-stroke:0.22px #262626;">b</div>
<div class="m" style="left:676.70px;top:402.78px;font-size:16.50px;transform:scale(0.9007,1.0000);transform-origin:0 13.82px;-webkit-text-stroke:0.4px #262626;">old</div>
<div class="m" style="left:703.40px;top:395.04px;font-size:25.50px;transform:scale(1.0423,1.0000);transform-origin:0 21.36px;-webkit-text-stroke:0.4px #262626;">−</div>
<div class="m" style="left:725.20px;top:395.41px;font-size:22.44px;font-style:italic;transform:scale(1.1220,1.0000);transform-origin:0 18.79px;-webkit-text-stroke:0.22px #262626;">η</div>
<div class="m" style="left:741.20px;top:395.04px;font-size:25.50px;-webkit-text-stroke:0.4px #262626;">·</div>
<div class="m" style="left:754.00px;top:392.84px;font-size:25.50px;transform:scale(0.9843,1.0000);transform-origin:0 21.36px;-webkit-text-stroke:0.4px #262626;">grad</div>
<div class="m" style="left:798.40px;top:403.98px;font-size:16.50px;font-style:italic;transform:scale(1.0667,1.0000);transform-origin:0 13.82px;-webkit-text-stroke:0.22px #262626;">b</div>
</div>
</body></html>
